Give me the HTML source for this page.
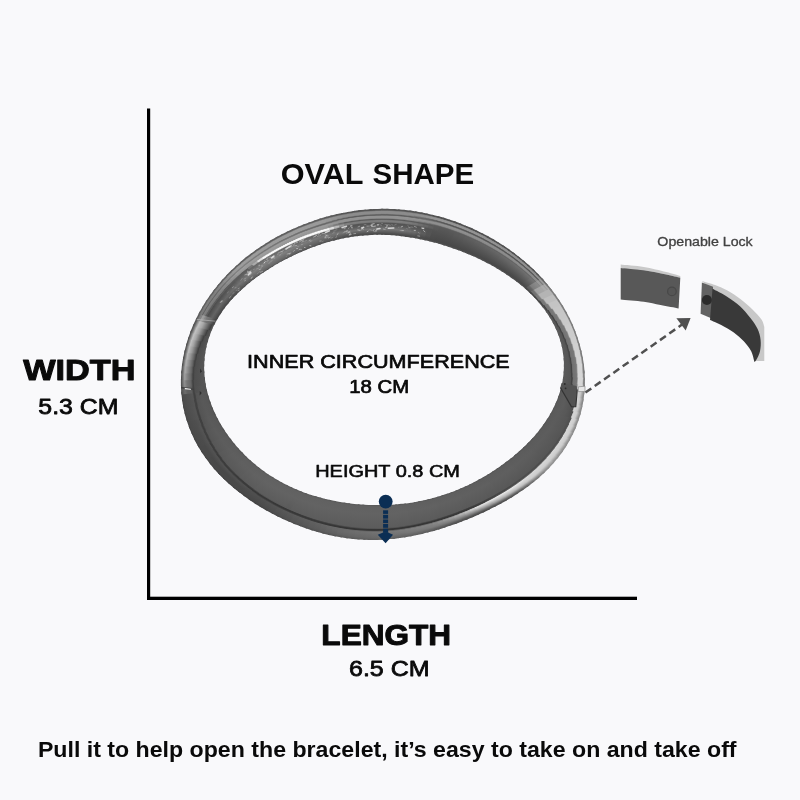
<!DOCTYPE html>
<html><head><meta charset="utf-8"><title>Bracelet size</title>
<style>html,body{margin:0;padding:0;background:#f9f9fb;}body{width:800px;height:800px;position:relative;overflow:hidden;font-family:"Liberation Sans",sans-serif;}</style>
</head><body>
<svg width="800" height="800" viewBox="0 0 800 800" style="position:absolute;left:0;top:0;font-family:'Liberation Sans',sans-serif">
<rect width="800" height="800" fill="#f9f9fb"/>
<!--RING-->
<defs><linearGradient id="w0" gradientUnits="userSpaceOnUse" x1="584.8" y1="375.5" x2="563.4" y2="374.9"><stop offset="0.000" stop-color="#767676"/><stop offset="0.050" stop-color="#7d7d7d"/><stop offset="0.075" stop-color="#8b8b8b"/><stop offset="0.100" stop-color="#c0c0c0"/><stop offset="0.125" stop-color="#d6d6d6"/><stop offset="0.300" stop-color="#d6d6d6"/><stop offset="0.325" stop-color="#c0c0c0"/><stop offset="0.375" stop-color="#7c7c7c"/><stop offset="0.400" stop-color="#767676"/><stop offset="0.550" stop-color="#717171"/><stop offset="0.600" stop-color="#424242"/><stop offset="0.625" stop-color="#424242"/><stop offset="0.675" stop-color="#565656"/><stop offset="0.975" stop-color="#5a5a5a"/><stop offset="1.000" stop-color="#545454"/></linearGradient><linearGradient id="w1" gradientUnits="userSpaceOnUse" x1="584.9" y1="382.6" x2="562.6" y2="380.6"><stop offset="0.000" stop-color="#767676"/><stop offset="0.050" stop-color="#7d7d7d"/><stop offset="0.075" stop-color="#8b8b8b"/><stop offset="0.100" stop-color="#c0c0c0"/><stop offset="0.125" stop-color="#d6d6d6"/><stop offset="0.300" stop-color="#d6d6d6"/><stop offset="0.350" stop-color="#949494"/><stop offset="0.375" stop-color="#767676"/><stop offset="0.525" stop-color="#717171"/><stop offset="0.550" stop-color="#616161"/><stop offset="0.575" stop-color="#434343"/><stop offset="0.600" stop-color="#424242"/><stop offset="0.650" stop-color="#545454"/><stop offset="0.775" stop-color="#575757"/><stop offset="0.975" stop-color="#5a5a5a"/><stop offset="1.000" stop-color="#545454"/></linearGradient><linearGradient id="w2" gradientUnits="userSpaceOnUse" x1="584.6" y1="389.7" x2="561.4" y2="386.1"><stop offset="0.000" stop-color="#767676"/><stop offset="0.050" stop-color="#7d7d7d"/><stop offset="0.075" stop-color="#8b8b8b"/><stop offset="0.100" stop-color="#c0c0c0"/><stop offset="0.125" stop-color="#d6d6d6"/><stop offset="0.275" stop-color="#d6d6d6"/><stop offset="0.300" stop-color="#cdcdcd"/><stop offset="0.350" stop-color="#898989"/><stop offset="0.375" stop-color="#767676"/><stop offset="0.500" stop-color="#717171"/><stop offset="0.525" stop-color="#696969"/><stop offset="0.550" stop-color="#4c4c4c"/><stop offset="0.575" stop-color="#424242"/><stop offset="0.600" stop-color="#474747"/><stop offset="0.625" stop-color="#505050"/><stop offset="0.650" stop-color="#565656"/><stop offset="0.975" stop-color="#5a5a5a"/><stop offset="1.000" stop-color="#545454"/></linearGradient><linearGradient id="w3" gradientUnits="userSpaceOnUse" x1="584.0" y1="396.8" x2="559.8" y2="391.5"><stop offset="0.000" stop-color="#848484"/><stop offset="0.050" stop-color="#8c8c8c"/><stop offset="0.175" stop-color="#cdcdcd"/><stop offset="0.300" stop-color="#d6d6d6"/><stop offset="0.325" stop-color="#cbcbcb"/><stop offset="0.350" stop-color="#676767"/><stop offset="0.375" stop-color="#505050"/><stop offset="0.725" stop-color="#5c5c5c"/><stop offset="0.950" stop-color="#595959"/><stop offset="1.000" stop-color="#505050"/></linearGradient><linearGradient id="w4" gradientUnits="userSpaceOnUse" x1="582.9" y1="403.8" x2="558.0" y2="396.8"><stop offset="0.000" stop-color="#848484"/><stop offset="0.050" stop-color="#8c8c8c"/><stop offset="0.150" stop-color="#c4c4c4"/><stop offset="0.175" stop-color="#cecece"/><stop offset="0.300" stop-color="#d6d6d6"/><stop offset="0.350" stop-color="#505050"/><stop offset="0.725" stop-color="#5c5c5c"/><stop offset="0.950" stop-color="#595959"/><stop offset="1.000" stop-color="#505050"/></linearGradient><linearGradient id="w5" gradientUnits="userSpaceOnUse" x1="581.4" y1="410.8" x2="555.9" y2="401.9"><stop offset="0.000" stop-color="#858585"/><stop offset="0.050" stop-color="#8f8f8f"/><stop offset="0.150" stop-color="#c9c9c9"/><stop offset="0.200" stop-color="#d0d0d0"/><stop offset="0.275" stop-color="#d6d6d6"/><stop offset="0.300" stop-color="#b1b1b1"/><stop offset="0.325" stop-color="#505050"/><stop offset="0.700" stop-color="#5c5c5c"/><stop offset="0.950" stop-color="#595959"/><stop offset="1.000" stop-color="#505050"/></linearGradient><linearGradient id="w6" gradientUnits="userSpaceOnUse" x1="579.5" y1="417.6" x2="553.6" y2="406.9"><stop offset="0.000" stop-color="#868686"/><stop offset="0.050" stop-color="#919191"/><stop offset="0.150" stop-color="#cdcdcd"/><stop offset="0.250" stop-color="#d5d5d5"/><stop offset="0.275" stop-color="#bfbfbf"/><stop offset="0.300" stop-color="#4f4f4f"/><stop offset="0.525" stop-color="#585858"/><stop offset="0.775" stop-color="#5c5c5c"/><stop offset="0.950" stop-color="#5a5a5a"/><stop offset="1.000" stop-color="#515151"/></linearGradient><linearGradient id="w7" gradientUnits="userSpaceOnUse" x1="577.1" y1="424.3" x2="551.0" y2="411.7"><stop offset="0.000" stop-color="#878787"/><stop offset="0.050" stop-color="#939393"/><stop offset="0.125" stop-color="#c6c6c6"/><stop offset="0.150" stop-color="#cecece"/><stop offset="0.225" stop-color="#d5d5d5"/><stop offset="0.250" stop-color="#cccccc"/><stop offset="0.275" stop-color="#555555"/><stop offset="0.300" stop-color="#4f4f4f"/><stop offset="0.400" stop-color="#565656"/><stop offset="0.750" stop-color="#5c5c5c"/><stop offset="0.950" stop-color="#5a5a5a"/><stop offset="1.000" stop-color="#515151"/></linearGradient><linearGradient id="w8" gradientUnits="userSpaceOnUse" x1="574.4" y1="430.8" x2="548.3" y2="416.5"><stop offset="0.000" stop-color="#888888"/><stop offset="0.050" stop-color="#959595"/><stop offset="0.125" stop-color="#c6c6c6"/><stop offset="0.150" stop-color="#cecece"/><stop offset="0.225" stop-color="#d5d5d5"/><stop offset="0.250" stop-color="#d4d4d4"/><stop offset="0.275" stop-color="#595959"/><stop offset="0.300" stop-color="#4f4f4f"/><stop offset="0.375" stop-color="#565656"/><stop offset="0.750" stop-color="#5c5c5c"/><stop offset="0.950" stop-color="#5a5a5a"/><stop offset="1.000" stop-color="#515151"/></linearGradient><linearGradient id="w9" gradientUnits="userSpaceOnUse" x1="571.4" y1="437.2" x2="545.4" y2="421.1"><stop offset="0.000" stop-color="#898989"/><stop offset="0.050" stop-color="#969696"/><stop offset="0.125" stop-color="#c7c7c7"/><stop offset="0.150" stop-color="#cecece"/><stop offset="0.250" stop-color="#d7d7d7"/><stop offset="0.275" stop-color="#5c5c5c"/><stop offset="0.300" stop-color="#4e4e4e"/><stop offset="0.375" stop-color="#565656"/><stop offset="0.750" stop-color="#5d5d5d"/><stop offset="0.950" stop-color="#5a5a5a"/><stop offset="1.000" stop-color="#515151"/></linearGradient><linearGradient id="w10" gradientUnits="userSpaceOnUse" x1="567.9" y1="443.4" x2="542.2" y2="425.6"><stop offset="0.000" stop-color="#8a8a8a"/><stop offset="0.025" stop-color="#8f8f8f"/><stop offset="0.050" stop-color="#989898"/><stop offset="0.125" stop-color="#c7c7c7"/><stop offset="0.150" stop-color="#cecece"/><stop offset="0.250" stop-color="#d7d7d7"/><stop offset="0.275" stop-color="#5f5f5f"/><stop offset="0.300" stop-color="#4e4e4e"/><stop offset="0.325" stop-color="#4f4f4f"/><stop offset="0.350" stop-color="#555555"/><stop offset="0.750" stop-color="#5d5d5d"/><stop offset="0.950" stop-color="#5b5b5b"/><stop offset="1.000" stop-color="#515151"/></linearGradient><linearGradient id="w11" gradientUnits="userSpaceOnUse" x1="564.2" y1="449.3" x2="538.9" y2="430.0"><stop offset="0.000" stop-color="#8b8b8b"/><stop offset="0.025" stop-color="#909090"/><stop offset="0.050" stop-color="#999999"/><stop offset="0.125" stop-color="#c7c7c7"/><stop offset="0.150" stop-color="#cecece"/><stop offset="0.250" stop-color="#d7d7d7"/><stop offset="0.275" stop-color="#616161"/><stop offset="0.300" stop-color="#4e4e4e"/><stop offset="0.325" stop-color="#4f4f4f"/><stop offset="0.350" stop-color="#565656"/><stop offset="0.750" stop-color="#5d5d5d"/><stop offset="0.950" stop-color="#5b5b5b"/><stop offset="1.000" stop-color="#525252"/></linearGradient><linearGradient id="w12" gradientUnits="userSpaceOnUse" x1="560.1" y1="455.0" x2="535.4" y2="434.4"><stop offset="0.000" stop-color="#8c8c8c"/><stop offset="0.025" stop-color="#919191"/><stop offset="0.050" stop-color="#9a9a9a"/><stop offset="0.125" stop-color="#c7c7c7"/><stop offset="0.150" stop-color="#cecece"/><stop offset="0.250" stop-color="#d7d7d7"/><stop offset="0.275" stop-color="#636363"/><stop offset="0.300" stop-color="#4d4d4d"/><stop offset="0.325" stop-color="#4f4f4f"/><stop offset="0.350" stop-color="#565656"/><stop offset="0.750" stop-color="#5d5d5d"/><stop offset="0.950" stop-color="#5b5b5b"/><stop offset="1.000" stop-color="#525252"/></linearGradient><linearGradient id="w13" gradientUnits="userSpaceOnUse" x1="555.7" y1="460.5" x2="531.8" y2="438.6"><stop offset="0.000" stop-color="#8d8d8d"/><stop offset="0.025" stop-color="#929292"/><stop offset="0.050" stop-color="#9b9b9b"/><stop offset="0.125" stop-color="#c7c7c7"/><stop offset="0.150" stop-color="#cecece"/><stop offset="0.250" stop-color="#d7d7d7"/><stop offset="0.275" stop-color="#646464"/><stop offset="0.300" stop-color="#4d4d4d"/><stop offset="0.325" stop-color="#4f4f4f"/><stop offset="0.350" stop-color="#565656"/><stop offset="0.750" stop-color="#5d5d5d"/><stop offset="0.950" stop-color="#5b5b5b"/><stop offset="1.000" stop-color="#525252"/></linearGradient><linearGradient id="w14" gradientUnits="userSpaceOnUse" x1="551.1" y1="465.8" x2="528.0" y2="442.7"><stop offset="0.000" stop-color="#8e8e8e"/><stop offset="0.025" stop-color="#939393"/><stop offset="0.050" stop-color="#9c9c9c"/><stop offset="0.125" stop-color="#c7c7c7"/><stop offset="0.150" stop-color="#cecece"/><stop offset="0.250" stop-color="#d7d7d7"/><stop offset="0.275" stop-color="#656565"/><stop offset="0.300" stop-color="#4d4d4d"/><stop offset="0.325" stop-color="#4e4e4e"/><stop offset="0.350" stop-color="#565656"/><stop offset="0.750" stop-color="#5e5e5e"/><stop offset="0.950" stop-color="#5b5b5b"/><stop offset="1.000" stop-color="#525252"/></linearGradient><linearGradient id="w15" gradientUnits="userSpaceOnUse" x1="546.3" y1="470.7" x2="524.0" y2="446.8"><stop offset="0.000" stop-color="#898989"/><stop offset="0.025" stop-color="#8e8e8e"/><stop offset="0.050" stop-color="#989898"/><stop offset="0.125" stop-color="#c7c7c7"/><stop offset="0.150" stop-color="#cecece"/><stop offset="0.250" stop-color="#d7d7d7"/><stop offset="0.275" stop-color="#666666"/><stop offset="0.300" stop-color="#4c4c4c"/><stop offset="0.325" stop-color="#4e4e4e"/><stop offset="0.350" stop-color="#575757"/><stop offset="0.750" stop-color="#5e5e5e"/><stop offset="0.950" stop-color="#5c5c5c"/><stop offset="1.000" stop-color="#525252"/></linearGradient><linearGradient id="w16" gradientUnits="userSpaceOnUse" x1="541.3" y1="475.5" x2="519.9" y2="450.7"><stop offset="0.000" stop-color="#7f7f7f"/><stop offset="0.025" stop-color="#848484"/><stop offset="0.050" stop-color="#909090"/><stop offset="0.125" stop-color="#c6c6c6"/><stop offset="0.150" stop-color="#cecece"/><stop offset="0.250" stop-color="#d7d7d7"/><stop offset="0.275" stop-color="#656565"/><stop offset="0.300" stop-color="#4c4c4c"/><stop offset="0.325" stop-color="#4e4e4e"/><stop offset="0.350" stop-color="#575757"/><stop offset="0.750" stop-color="#5e5e5e"/><stop offset="0.950" stop-color="#5c5c5c"/><stop offset="1.000" stop-color="#535353"/></linearGradient><linearGradient id="w17" gradientUnits="userSpaceOnUse" x1="536.2" y1="480.0" x2="515.6" y2="454.5"><stop offset="0.000" stop-color="#757575"/><stop offset="0.025" stop-color="#7a7a7a"/><stop offset="0.050" stop-color="#878787"/><stop offset="0.125" stop-color="#c5c5c5"/><stop offset="0.150" stop-color="#cecece"/><stop offset="0.250" stop-color="#d7d7d7"/><stop offset="0.275" stop-color="#656565"/><stop offset="0.300" stop-color="#4c4c4c"/><stop offset="0.325" stop-color="#4e4e4e"/><stop offset="0.350" stop-color="#575757"/><stop offset="0.750" stop-color="#5e5e5e"/><stop offset="0.950" stop-color="#5c5c5c"/><stop offset="1.000" stop-color="#535353"/></linearGradient><linearGradient id="w18" gradientUnits="userSpaceOnUse" x1="530.9" y1="484.2" x2="511.2" y2="458.2"><stop offset="0.000" stop-color="#6b6b6b"/><stop offset="0.025" stop-color="#707070"/><stop offset="0.050" stop-color="#7d7d7d"/><stop offset="0.125" stop-color="#bfbfbf"/><stop offset="0.150" stop-color="#cbcbcb"/><stop offset="0.250" stop-color="#dcdcdc"/><stop offset="0.275" stop-color="#656565"/><stop offset="0.300" stop-color="#4b4b4b"/><stop offset="0.325" stop-color="#4e4e4e"/><stop offset="0.350" stop-color="#575757"/><stop offset="0.750" stop-color="#5f5f5f"/><stop offset="0.950" stop-color="#5c5c5c"/><stop offset="1.000" stop-color="#535353"/></linearGradient><linearGradient id="w19" gradientUnits="userSpaceOnUse" x1="525.5" y1="488.2" x2="506.7" y2="461.7"><stop offset="0.000" stop-color="#616161"/><stop offset="0.025" stop-color="#666666"/><stop offset="0.050" stop-color="#747474"/><stop offset="0.125" stop-color="#bababa"/><stop offset="0.150" stop-color="#c7c7c7"/><stop offset="0.250" stop-color="#e1e1e1"/><stop offset="0.275" stop-color="#656565"/><stop offset="0.300" stop-color="#4b4b4b"/><stop offset="0.325" stop-color="#4d4d4d"/><stop offset="0.350" stop-color="#575757"/><stop offset="0.750" stop-color="#5f5f5f"/><stop offset="0.950" stop-color="#5c5c5c"/><stop offset="1.000" stop-color="#535353"/></linearGradient><linearGradient id="w20" gradientUnits="userSpaceOnUse" x1="520.1" y1="492.0" x2="502.2" y2="465.1"><stop offset="0.000" stop-color="#575757"/><stop offset="0.025" stop-color="#5c5c5c"/><stop offset="0.050" stop-color="#6a6a6a"/><stop offset="0.125" stop-color="#b4b4b4"/><stop offset="0.150" stop-color="#c3c3c3"/><stop offset="0.250" stop-color="#e7e7e7"/><stop offset="0.275" stop-color="#646464"/><stop offset="0.300" stop-color="#4a4a4a"/><stop offset="0.325" stop-color="#4c4c4c"/><stop offset="0.350" stop-color="#585858"/><stop offset="0.750" stop-color="#5f5f5f"/><stop offset="0.950" stop-color="#5d5d5d"/><stop offset="1.000" stop-color="#545454"/></linearGradient><linearGradient id="w21" gradientUnits="userSpaceOnUse" x1="514.6" y1="495.6" x2="497.5" y2="468.4"><stop offset="0.000" stop-color="#515151"/><stop offset="0.025" stop-color="#565656"/><stop offset="0.050" stop-color="#646464"/><stop offset="0.125" stop-color="#afafaf"/><stop offset="0.150" stop-color="#bfbfbf"/><stop offset="0.250" stop-color="#e9e9e9"/><stop offset="0.275" stop-color="#616161"/><stop offset="0.300" stop-color="#484848"/><stop offset="0.325" stop-color="#4a4a4a"/><stop offset="0.350" stop-color="#585858"/><stop offset="0.750" stop-color="#5f5f5f"/><stop offset="0.950" stop-color="#5d5d5d"/><stop offset="1.000" stop-color="#545454"/></linearGradient><linearGradient id="w22" gradientUnits="userSpaceOnUse" x1="509.0" y1="499.0" x2="492.7" y2="471.6"><stop offset="0.000" stop-color="#505050"/><stop offset="0.025" stop-color="#555555"/><stop offset="0.050" stop-color="#626262"/><stop offset="0.125" stop-color="#aaaaaa"/><stop offset="0.150" stop-color="#bbbbbb"/><stop offset="0.250" stop-color="#e8e8e8"/><stop offset="0.275" stop-color="#5e5e5e"/><stop offset="0.300" stop-color="#464646"/><stop offset="0.325" stop-color="#494949"/><stop offset="0.350" stop-color="#585858"/><stop offset="0.750" stop-color="#5f5f5f"/><stop offset="0.950" stop-color="#5d5d5d"/><stop offset="1.000" stop-color="#545454"/></linearGradient><linearGradient id="w23" gradientUnits="userSpaceOnUse" x1="503.4" y1="502.2" x2="487.9" y2="474.5"><stop offset="0.000" stop-color="#4e4e4e"/><stop offset="0.025" stop-color="#535353"/><stop offset="0.050" stop-color="#606060"/><stop offset="0.125" stop-color="#a5a5a5"/><stop offset="0.150" stop-color="#b6b6b6"/><stop offset="0.250" stop-color="#e8e8e8"/><stop offset="0.275" stop-color="#575757"/><stop offset="0.300" stop-color="#444444"/><stop offset="0.325" stop-color="#474747"/><stop offset="0.350" stop-color="#585858"/><stop offset="0.750" stop-color="#606060"/><stop offset="0.950" stop-color="#5d5d5d"/><stop offset="1.000" stop-color="#545454"/></linearGradient><linearGradient id="w24" gradientUnits="userSpaceOnUse" x1="497.8" y1="505.3" x2="483.1" y2="477.4"><stop offset="0.000" stop-color="#4d4d4d"/><stop offset="0.025" stop-color="#525252"/><stop offset="0.050" stop-color="#5d5d5d"/><stop offset="0.125" stop-color="#a0a0a0"/><stop offset="0.175" stop-color="#bebebe"/><stop offset="0.250" stop-color="#e8e8e8"/><stop offset="0.275" stop-color="#4f4f4f"/><stop offset="0.300" stop-color="#424242"/><stop offset="0.325" stop-color="#464646"/><stop offset="0.350" stop-color="#585858"/><stop offset="0.750" stop-color="#606060"/><stop offset="0.950" stop-color="#5d5d5d"/><stop offset="1.000" stop-color="#545454"/></linearGradient><linearGradient id="w25" gradientUnits="userSpaceOnUse" x1="492.2" y1="508.1" x2="478.2" y2="480.1"><stop offset="0.000" stop-color="#4b4b4b"/><stop offset="0.025" stop-color="#505050"/><stop offset="0.050" stop-color="#5b5b5b"/><stop offset="0.125" stop-color="#9a9a9a"/><stop offset="0.250" stop-color="#e8e8e8"/><stop offset="0.275" stop-color="#484848"/><stop offset="0.300" stop-color="#404040"/><stop offset="0.325" stop-color="#454545"/><stop offset="0.350" stop-color="#595959"/><stop offset="0.750" stop-color="#606060"/><stop offset="0.950" stop-color="#5e5e5e"/><stop offset="1.000" stop-color="#555555"/></linearGradient><linearGradient id="w26" gradientUnits="userSpaceOnUse" x1="486.6" y1="510.9" x2="473.3" y2="482.7"><stop offset="0.000" stop-color="#4a4a4a"/><stop offset="0.025" stop-color="#4e4e4e"/><stop offset="0.050" stop-color="#595959"/><stop offset="0.150" stop-color="#a7a7a7"/><stop offset="0.225" stop-color="#d7d7d7"/><stop offset="0.250" stop-color="#e1e1e1"/><stop offset="0.275" stop-color="#404040"/><stop offset="0.300" stop-color="#3e3e3e"/><stop offset="0.325" stop-color="#444444"/><stop offset="0.350" stop-color="#595959"/><stop offset="0.750" stop-color="#606060"/><stop offset="0.950" stop-color="#5e5e5e"/><stop offset="1.000" stop-color="#555555"/></linearGradient><linearGradient id="w27" gradientUnits="userSpaceOnUse" x1="481.1" y1="513.5" x2="468.3" y2="485.1"><stop offset="0.000" stop-color="#484848"/><stop offset="0.025" stop-color="#4d4d4d"/><stop offset="0.050" stop-color="#575757"/><stop offset="0.200" stop-color="#c4c4c4"/><stop offset="0.225" stop-color="#d6d6d6"/><stop offset="0.250" stop-color="#dadada"/><stop offset="0.275" stop-color="#3c3c3c"/><stop offset="0.300" stop-color="#3c3c3c"/><stop offset="0.325" stop-color="#434343"/><stop offset="0.350" stop-color="#595959"/><stop offset="0.750" stop-color="#606060"/><stop offset="0.950" stop-color="#5e5e5e"/><stop offset="1.000" stop-color="#555555"/></linearGradient><linearGradient id="w28" gradientUnits="userSpaceOnUse" x1="475.5" y1="515.9" x2="463.3" y2="487.3"><stop offset="0.000" stop-color="#494949"/><stop offset="0.025" stop-color="#4e4e4e"/><stop offset="0.050" stop-color="#575757"/><stop offset="0.150" stop-color="#9c9c9c"/><stop offset="0.225" stop-color="#cbcbcb"/><stop offset="0.250" stop-color="#c8c8c8"/><stop offset="0.275" stop-color="#3a3a3a"/><stop offset="0.300" stop-color="#3a3a3a"/><stop offset="0.325" stop-color="#424242"/><stop offset="0.350" stop-color="#595959"/><stop offset="0.750" stop-color="#606060"/><stop offset="0.950" stop-color="#5e5e5e"/><stop offset="1.000" stop-color="#555555"/></linearGradient><linearGradient id="w29" gradientUnits="userSpaceOnUse" x1="469.9" y1="518.3" x2="458.3" y2="489.5"><stop offset="0.000" stop-color="#4a4a4a"/><stop offset="0.025" stop-color="#4f4f4f"/><stop offset="0.050" stop-color="#585858"/><stop offset="0.150" stop-color="#979797"/><stop offset="0.225" stop-color="#c0c0c0"/><stop offset="0.250" stop-color="#b7b7b7"/><stop offset="0.275" stop-color="#383838"/><stop offset="0.300" stop-color="#383838"/><stop offset="0.325" stop-color="#414141"/><stop offset="0.350" stop-color="#595959"/><stop offset="0.750" stop-color="#616161"/><stop offset="0.950" stop-color="#5e5e5e"/><stop offset="1.000" stop-color="#555555"/></linearGradient><linearGradient id="w30" gradientUnits="userSpaceOnUse" x1="464.3" y1="520.5" x2="453.3" y2="491.4"><stop offset="0.000" stop-color="#4b4b4b"/><stop offset="0.050" stop-color="#585858"/><stop offset="0.150" stop-color="#929292"/><stop offset="0.225" stop-color="#b4b4b4"/><stop offset="0.250" stop-color="#a8a8a8"/><stop offset="0.275" stop-color="#373737"/><stop offset="0.300" stop-color="#373737"/><stop offset="0.325" stop-color="#414141"/><stop offset="0.350" stop-color="#5a5a5a"/><stop offset="0.750" stop-color="#616161"/><stop offset="0.950" stop-color="#5f5f5f"/><stop offset="1.000" stop-color="#555555"/></linearGradient><linearGradient id="w31" gradientUnits="userSpaceOnUse" x1="458.8" y1="522.7" x2="448.3" y2="493.3"><stop offset="0.000" stop-color="#4c4c4c"/><stop offset="0.050" stop-color="#595959"/><stop offset="0.125" stop-color="#828282"/><stop offset="0.225" stop-color="#a9a9a9"/><stop offset="0.250" stop-color="#9a9a9a"/><stop offset="0.275" stop-color="#373737"/><stop offset="0.300" stop-color="#373737"/><stop offset="0.325" stop-color="#424242"/><stop offset="0.350" stop-color="#5a5a5a"/><stop offset="0.750" stop-color="#616161"/><stop offset="0.950" stop-color="#5f5f5f"/><stop offset="1.000" stop-color="#565656"/></linearGradient><linearGradient id="w32" gradientUnits="userSpaceOnUse" x1="453.2" y1="524.7" x2="443.3" y2="495.0"><stop offset="0.000" stop-color="#4d4d4d"/><stop offset="0.050" stop-color="#595959"/><stop offset="0.125" stop-color="#7f7f7f"/><stop offset="0.225" stop-color="#9f9f9f"/><stop offset="0.250" stop-color="#8e8e8e"/><stop offset="0.275" stop-color="#363636"/><stop offset="0.300" stop-color="#363636"/><stop offset="0.325" stop-color="#434343"/><stop offset="0.350" stop-color="#5a5a5a"/><stop offset="0.750" stop-color="#616161"/><stop offset="0.950" stop-color="#5f5f5f"/><stop offset="1.000" stop-color="#565656"/></linearGradient><linearGradient id="w33" gradientUnits="userSpaceOnUse" x1="447.6" y1="526.6" x2="438.3" y2="496.5"><stop offset="0.000" stop-color="#4f4f4f"/><stop offset="0.050" stop-color="#5b5b5b"/><stop offset="0.125" stop-color="#7d7d7d"/><stop offset="0.225" stop-color="#989898"/><stop offset="0.250" stop-color="#868686"/><stop offset="0.275" stop-color="#363636"/><stop offset="0.300" stop-color="#363636"/><stop offset="0.325" stop-color="#444444"/><stop offset="0.350" stop-color="#5a5a5a"/><stop offset="0.750" stop-color="#616161"/><stop offset="0.950" stop-color="#5f5f5f"/><stop offset="1.000" stop-color="#565656"/></linearGradient><linearGradient id="w34" gradientUnits="userSpaceOnUse" x1="442.0" y1="528.4" x2="433.3" y2="498.0"><stop offset="0.000" stop-color="#515151"/><stop offset="0.050" stop-color="#5d5d5d"/><stop offset="0.125" stop-color="#7c7c7c"/><stop offset="0.225" stop-color="#919191"/><stop offset="0.250" stop-color="#7d7d7d"/><stop offset="0.275" stop-color="#363636"/><stop offset="0.300" stop-color="#363636"/><stop offset="0.325" stop-color="#454545"/><stop offset="0.350" stop-color="#5a5a5a"/><stop offset="0.750" stop-color="#626262"/><stop offset="0.950" stop-color="#5f5f5f"/><stop offset="1.000" stop-color="#565656"/></linearGradient><linearGradient id="w35" gradientUnits="userSpaceOnUse" x1="436.4" y1="530.1" x2="428.3" y2="499.2"><stop offset="0.000" stop-color="#535353"/><stop offset="0.050" stop-color="#5f5f5f"/><stop offset="0.125" stop-color="#7b7b7b"/><stop offset="0.225" stop-color="#898989"/><stop offset="0.250" stop-color="#757575"/><stop offset="0.275" stop-color="#363636"/><stop offset="0.300" stop-color="#363636"/><stop offset="0.350" stop-color="#5b5b5b"/><stop offset="0.750" stop-color="#626262"/><stop offset="0.950" stop-color="#5f5f5f"/><stop offset="1.000" stop-color="#565656"/></linearGradient><linearGradient id="w36" gradientUnits="userSpaceOnUse" x1="430.8" y1="531.7" x2="423.3" y2="500.4"><stop offset="0.000" stop-color="#555555"/><stop offset="0.075" stop-color="#696969"/><stop offset="0.125" stop-color="#7a7a7a"/><stop offset="0.225" stop-color="#848484"/><stop offset="0.250" stop-color="#707070"/><stop offset="0.275" stop-color="#363636"/><stop offset="0.300" stop-color="#363636"/><stop offset="0.350" stop-color="#5b5b5b"/><stop offset="0.750" stop-color="#626262"/><stop offset="0.950" stop-color="#606060"/><stop offset="1.000" stop-color="#565656"/></linearGradient><linearGradient id="w37" gradientUnits="userSpaceOnUse" x1="425.2" y1="533.1" x2="418.2" y2="501.4"><stop offset="0.000" stop-color="#575757"/><stop offset="0.100" stop-color="#717171"/><stop offset="0.125" stop-color="#787878"/><stop offset="0.225" stop-color="#838383"/><stop offset="0.250" stop-color="#6e6e6e"/><stop offset="0.275" stop-color="#363636"/><stop offset="0.300" stop-color="#363636"/><stop offset="0.350" stop-color="#5b5b5b"/><stop offset="0.750" stop-color="#626262"/><stop offset="0.950" stop-color="#606060"/><stop offset="1.000" stop-color="#575757"/></linearGradient><linearGradient id="w38" gradientUnits="userSpaceOnUse" x1="419.5" y1="534.5" x2="413.2" y2="502.3"><stop offset="0.000" stop-color="#595959"/><stop offset="0.125" stop-color="#777777"/><stop offset="0.225" stop-color="#818181"/><stop offset="0.250" stop-color="#6b6b6b"/><stop offset="0.275" stop-color="#353535"/><stop offset="0.300" stop-color="#353535"/><stop offset="0.325" stop-color="#4a4a4a"/><stop offset="0.350" stop-color="#5b5b5b"/><stop offset="0.750" stop-color="#626262"/><stop offset="0.950" stop-color="#606060"/><stop offset="1.000" stop-color="#575757"/></linearGradient><linearGradient id="w39" gradientUnits="userSpaceOnUse" x1="413.8" y1="535.7" x2="408.2" y2="503.1"><stop offset="0.000" stop-color="#5b5b5b"/><stop offset="0.125" stop-color="#767676"/><stop offset="0.225" stop-color="#7f7f7f"/><stop offset="0.250" stop-color="#696969"/><stop offset="0.275" stop-color="#353535"/><stop offset="0.300" stop-color="#353535"/><stop offset="0.325" stop-color="#4c4c4c"/><stop offset="0.350" stop-color="#5b5b5b"/><stop offset="0.750" stop-color="#626262"/><stop offset="0.950" stop-color="#606060"/><stop offset="1.000" stop-color="#575757"/></linearGradient><linearGradient id="w40" gradientUnits="userSpaceOnUse" x1="408.1" y1="536.8" x2="403.2" y2="503.7"><stop offset="0.000" stop-color="#5c5c5c"/><stop offset="0.125" stop-color="#757575"/><stop offset="0.225" stop-color="#7d7d7d"/><stop offset="0.250" stop-color="#676767"/><stop offset="0.275" stop-color="#353535"/><stop offset="0.300" stop-color="#353535"/><stop offset="0.325" stop-color="#4d4d4d"/><stop offset="0.350" stop-color="#5c5c5c"/><stop offset="0.750" stop-color="#636363"/><stop offset="0.950" stop-color="#606060"/><stop offset="1.000" stop-color="#575757"/></linearGradient><linearGradient id="w41" gradientUnits="userSpaceOnUse" x1="402.3" y1="537.7" x2="398.2" y2="504.3"><stop offset="0.000" stop-color="#5d5d5d"/><stop offset="0.150" stop-color="#767676"/><stop offset="0.225" stop-color="#7b7b7b"/><stop offset="0.250" stop-color="#646464"/><stop offset="0.275" stop-color="#353535"/><stop offset="0.300" stop-color="#353535"/><stop offset="0.325" stop-color="#4f4f4f"/><stop offset="0.350" stop-color="#5c5c5c"/><stop offset="0.750" stop-color="#636363"/><stop offset="0.950" stop-color="#616161"/><stop offset="1.000" stop-color="#575757"/></linearGradient><linearGradient id="w42" gradientUnits="userSpaceOnUse" x1="396.6" y1="538.5" x2="393.3" y2="504.7"><stop offset="0.000" stop-color="#5e5e5e"/><stop offset="0.125" stop-color="#737373"/><stop offset="0.225" stop-color="#7a7a7a"/><stop offset="0.250" stop-color="#626262"/><stop offset="0.275" stop-color="#343434"/><stop offset="0.300" stop-color="#343434"/><stop offset="0.325" stop-color="#515151"/><stop offset="0.350" stop-color="#5c5c5c"/><stop offset="0.750" stop-color="#636363"/><stop offset="0.950" stop-color="#616161"/><stop offset="1.000" stop-color="#585858"/></linearGradient><linearGradient id="w43" gradientUnits="userSpaceOnUse" x1="390.8" y1="539.1" x2="388.3" y2="504.9"><stop offset="0.000" stop-color="#5f5f5f"/><stop offset="0.125" stop-color="#727272"/><stop offset="0.225" stop-color="#787878"/><stop offset="0.250" stop-color="#606060"/><stop offset="0.275" stop-color="#343434"/><stop offset="0.300" stop-color="#343434"/><stop offset="0.325" stop-color="#525252"/><stop offset="0.350" stop-color="#5c5c5c"/><stop offset="0.750" stop-color="#636363"/><stop offset="0.950" stop-color="#616161"/><stop offset="1.000" stop-color="#585858"/></linearGradient><linearGradient id="w44" gradientUnits="userSpaceOnUse" x1="384.9" y1="539.6" x2="383.3" y2="505.1"><stop offset="0.000" stop-color="#606060"/><stop offset="0.075" stop-color="#6b6b6b"/><stop offset="0.225" stop-color="#767676"/><stop offset="0.250" stop-color="#5d5d5d"/><stop offset="0.275" stop-color="#343434"/><stop offset="0.300" stop-color="#343434"/><stop offset="0.325" stop-color="#545454"/><stop offset="0.350" stop-color="#5c5c5c"/><stop offset="0.750" stop-color="#636363"/><stop offset="0.950" stop-color="#616161"/><stop offset="1.000" stop-color="#585858"/></linearGradient><linearGradient id="w45" gradientUnits="userSpaceOnUse" x1="379.1" y1="539.9" x2="378.3" y2="505.2"><stop offset="0.000" stop-color="#5f5f5f"/><stop offset="0.075" stop-color="#6b6b6b"/><stop offset="0.225" stop-color="#747474"/><stop offset="0.250" stop-color="#5d5d5d"/><stop offset="0.275" stop-color="#343434"/><stop offset="0.300" stop-color="#343434"/><stop offset="0.325" stop-color="#545454"/><stop offset="0.350" stop-color="#5c5c5c"/><stop offset="0.750" stop-color="#636363"/><stop offset="0.950" stop-color="#616161"/><stop offset="1.000" stop-color="#585858"/></linearGradient><linearGradient id="w46" gradientUnits="userSpaceOnUse" x1="373.2" y1="540.0" x2="373.3" y2="505.1"><stop offset="0.000" stop-color="#5e5e5e"/><stop offset="0.075" stop-color="#696969"/><stop offset="0.225" stop-color="#737373"/><stop offset="0.250" stop-color="#606060"/><stop offset="0.275" stop-color="#343434"/><stop offset="0.300" stop-color="#343434"/><stop offset="0.325" stop-color="#525252"/><stop offset="0.350" stop-color="#5c5c5c"/><stop offset="0.750" stop-color="#636363"/><stop offset="0.950" stop-color="#616161"/><stop offset="1.000" stop-color="#585858"/></linearGradient><linearGradient id="w47" gradientUnits="userSpaceOnUse" x1="367.3" y1="539.9" x2="368.4" y2="504.9"><stop offset="0.000" stop-color="#5d5d5d"/><stop offset="0.075" stop-color="#686868"/><stop offset="0.225" stop-color="#717171"/><stop offset="0.250" stop-color="#626262"/><stop offset="0.275" stop-color="#343434"/><stop offset="0.300" stop-color="#343434"/><stop offset="0.325" stop-color="#515151"/><stop offset="0.350" stop-color="#5c5c5c"/><stop offset="0.750" stop-color="#636363"/><stop offset="0.950" stop-color="#616161"/><stop offset="1.000" stop-color="#585858"/></linearGradient><linearGradient id="w48" gradientUnits="userSpaceOnUse" x1="361.4" y1="539.6" x2="363.4" y2="504.7"><stop offset="0.000" stop-color="#5b5b5b"/><stop offset="0.075" stop-color="#676767"/><stop offset="0.200" stop-color="#6e6e6e"/><stop offset="0.225" stop-color="#6f6f6f"/><stop offset="0.250" stop-color="#646464"/><stop offset="0.275" stop-color="#353535"/><stop offset="0.300" stop-color="#353535"/><stop offset="0.325" stop-color="#4f4f4f"/><stop offset="0.350" stop-color="#5c5c5c"/><stop offset="0.750" stop-color="#636363"/><stop offset="0.950" stop-color="#616161"/><stop offset="1.000" stop-color="#585858"/></linearGradient><linearGradient id="w49" gradientUnits="userSpaceOnUse" x1="355.5" y1="539.2" x2="358.4" y2="504.3"><stop offset="0.000" stop-color="#5a5a5a"/><stop offset="0.075" stop-color="#666666"/><stop offset="0.175" stop-color="#6c6c6c"/><stop offset="0.225" stop-color="#6e6e6e"/><stop offset="0.250" stop-color="#656565"/><stop offset="0.275" stop-color="#353535"/><stop offset="0.300" stop-color="#353535"/><stop offset="0.325" stop-color="#4e4e4e"/><stop offset="0.350" stop-color="#5c5c5c"/><stop offset="0.750" stop-color="#636363"/><stop offset="0.950" stop-color="#616161"/><stop offset="1.000" stop-color="#585858"/></linearGradient><linearGradient id="w50" gradientUnits="userSpaceOnUse" x1="349.6" y1="538.6" x2="353.4" y2="503.8"><stop offset="0.000" stop-color="#595959"/><stop offset="0.075" stop-color="#646464"/><stop offset="0.175" stop-color="#6b6b6b"/><stop offset="0.225" stop-color="#6c6c6c"/><stop offset="0.250" stop-color="#666666"/><stop offset="0.275" stop-color="#353535"/><stop offset="0.300" stop-color="#353535"/><stop offset="0.325" stop-color="#4c4c4c"/><stop offset="0.350" stop-color="#5c5c5c"/><stop offset="0.750" stop-color="#636363"/><stop offset="0.950" stop-color="#616161"/><stop offset="1.000" stop-color="#585858"/></linearGradient><linearGradient id="w51" gradientUnits="userSpaceOnUse" x1="343.7" y1="537.8" x2="348.4" y2="503.2"><stop offset="0.000" stop-color="#575757"/><stop offset="0.075" stop-color="#636363"/><stop offset="0.175" stop-color="#6a6a6a"/><stop offset="0.225" stop-color="#6a6a6a"/><stop offset="0.250" stop-color="#676767"/><stop offset="0.275" stop-color="#353535"/><stop offset="0.300" stop-color="#353535"/><stop offset="0.350" stop-color="#5c5c5c"/><stop offset="0.750" stop-color="#636363"/><stop offset="0.950" stop-color="#616161"/><stop offset="1.000" stop-color="#585858"/></linearGradient><linearGradient id="w52" gradientUnits="userSpaceOnUse" x1="337.8" y1="536.8" x2="343.4" y2="502.4"><stop offset="0.000" stop-color="#565656"/><stop offset="0.075" stop-color="#626262"/><stop offset="0.150" stop-color="#686868"/><stop offset="0.250" stop-color="#686868"/><stop offset="0.275" stop-color="#353535"/><stop offset="0.300" stop-color="#353535"/><stop offset="0.350" stop-color="#5c5c5c"/><stop offset="0.750" stop-color="#636363"/><stop offset="0.950" stop-color="#616161"/><stop offset="1.000" stop-color="#585858"/></linearGradient><linearGradient id="w53" gradientUnits="userSpaceOnUse" x1="332.0" y1="535.6" x2="338.4" y2="501.6"><stop offset="0.000" stop-color="#555555"/><stop offset="0.075" stop-color="#606060"/><stop offset="0.175" stop-color="#666666"/><stop offset="0.250" stop-color="#676767"/><stop offset="0.275" stop-color="#363636"/><stop offset="0.300" stop-color="#363636"/><stop offset="0.325" stop-color="#464646"/><stop offset="0.350" stop-color="#5c5c5c"/><stop offset="0.750" stop-color="#636363"/><stop offset="0.950" stop-color="#616161"/><stop offset="1.000" stop-color="#585858"/></linearGradient><linearGradient id="w54" gradientUnits="userSpaceOnUse" x1="326.1" y1="534.3" x2="333.4" y2="500.6"><stop offset="0.000" stop-color="#535353"/><stop offset="0.075" stop-color="#5f5f5f"/><stop offset="0.200" stop-color="#656565"/><stop offset="0.250" stop-color="#666666"/><stop offset="0.275" stop-color="#363636"/><stop offset="0.300" stop-color="#363636"/><stop offset="0.325" stop-color="#444444"/><stop offset="0.350" stop-color="#5c5c5c"/><stop offset="0.750" stop-color="#636363"/><stop offset="0.950" stop-color="#616161"/><stop offset="1.000" stop-color="#585858"/></linearGradient><linearGradient id="w55" gradientUnits="userSpaceOnUse" x1="320.3" y1="532.8" x2="328.4" y2="499.5"><stop offset="0.000" stop-color="#525252"/><stop offset="0.075" stop-color="#5d5d5d"/><stop offset="0.225" stop-color="#636363"/><stop offset="0.250" stop-color="#646464"/><stop offset="0.275" stop-color="#383838"/><stop offset="0.300" stop-color="#363636"/><stop offset="0.325" stop-color="#424242"/><stop offset="0.350" stop-color="#5c5c5c"/><stop offset="0.750" stop-color="#636363"/><stop offset="0.950" stop-color="#616161"/><stop offset="1.000" stop-color="#585858"/></linearGradient><linearGradient id="w56" gradientUnits="userSpaceOnUse" x1="314.5" y1="531.1" x2="323.3" y2="498.3"><stop offset="0.000" stop-color="#515151"/><stop offset="0.075" stop-color="#5b5b5b"/><stop offset="0.250" stop-color="#626262"/><stop offset="0.275" stop-color="#3a3a3a"/><stop offset="0.300" stop-color="#363636"/><stop offset="0.325" stop-color="#414141"/><stop offset="0.350" stop-color="#5c5c5c"/><stop offset="0.750" stop-color="#636363"/><stop offset="0.950" stop-color="#616161"/><stop offset="1.000" stop-color="#585858"/></linearGradient><linearGradient id="w57" gradientUnits="userSpaceOnUse" x1="308.7" y1="529.3" x2="318.3" y2="497.0"><stop offset="0.000" stop-color="#4f4f4f"/><stop offset="0.075" stop-color="#5a5a5a"/><stop offset="0.250" stop-color="#606060"/><stop offset="0.275" stop-color="#3c3c3c"/><stop offset="0.300" stop-color="#363636"/><stop offset="0.325" stop-color="#3f3f3f"/><stop offset="0.350" stop-color="#5c5c5c"/><stop offset="0.750" stop-color="#636363"/><stop offset="0.950" stop-color="#616161"/><stop offset="1.000" stop-color="#585858"/></linearGradient><linearGradient id="w58" gradientUnits="userSpaceOnUse" x1="302.9" y1="527.2" x2="313.3" y2="495.5"><stop offset="0.000" stop-color="#4e4e4e"/><stop offset="0.075" stop-color="#585858"/><stop offset="0.250" stop-color="#5e5e5e"/><stop offset="0.275" stop-color="#3d3d3d"/><stop offset="0.300" stop-color="#363636"/><stop offset="0.325" stop-color="#3d3d3d"/><stop offset="0.350" stop-color="#5c5c5c"/><stop offset="0.750" stop-color="#636363"/><stop offset="0.950" stop-color="#616161"/><stop offset="1.000" stop-color="#585858"/></linearGradient><linearGradient id="w59" gradientUnits="userSpaceOnUse" x1="297.2" y1="525.1" x2="308.2" y2="493.8"><stop offset="0.000" stop-color="#4d4d4d"/><stop offset="0.050" stop-color="#555555"/><stop offset="0.250" stop-color="#5d5d5d"/><stop offset="0.275" stop-color="#3f3f3f"/><stop offset="0.300" stop-color="#373737"/><stop offset="0.325" stop-color="#3b3b3b"/><stop offset="0.350" stop-color="#5c5c5c"/><stop offset="0.750" stop-color="#636363"/><stop offset="0.950" stop-color="#616161"/><stop offset="1.000" stop-color="#585858"/></linearGradient><linearGradient id="w60" gradientUnits="userSpaceOnUse" x1="291.4" y1="522.7" x2="303.2" y2="492.0"><stop offset="0.000" stop-color="#4b4b4b"/><stop offset="0.050" stop-color="#545454"/><stop offset="0.250" stop-color="#5b5b5b"/><stop offset="0.275" stop-color="#404040"/><stop offset="0.300" stop-color="#373737"/><stop offset="0.325" stop-color="#393939"/><stop offset="0.350" stop-color="#5c5c5c"/><stop offset="0.750" stop-color="#636363"/><stop offset="0.950" stop-color="#616161"/><stop offset="1.000" stop-color="#585858"/></linearGradient><linearGradient id="w61" gradientUnits="userSpaceOnUse" x1="285.7" y1="520.2" x2="298.3" y2="490.1"><stop offset="0.000" stop-color="#4a4a4a"/><stop offset="0.050" stop-color="#525252"/><stop offset="0.250" stop-color="#595959"/><stop offset="0.275" stop-color="#414141"/><stop offset="0.300" stop-color="#373737"/><stop offset="0.325" stop-color="#383838"/><stop offset="0.350" stop-color="#5c5c5c"/><stop offset="0.750" stop-color="#636363"/><stop offset="0.950" stop-color="#616161"/><stop offset="1.000" stop-color="#585858"/></linearGradient><linearGradient id="w62" gradientUnits="userSpaceOnUse" x1="280.1" y1="517.6" x2="293.3" y2="488.0"><stop offset="0.000" stop-color="#484848"/><stop offset="0.050" stop-color="#505050"/><stop offset="0.250" stop-color="#585858"/><stop offset="0.275" stop-color="#424242"/><stop offset="0.300" stop-color="#373737"/><stop offset="0.325" stop-color="#373737"/><stop offset="0.350" stop-color="#5a5a5a"/><stop offset="0.750" stop-color="#636363"/><stop offset="0.950" stop-color="#616161"/><stop offset="1.000" stop-color="#585858"/></linearGradient><linearGradient id="w63" gradientUnits="userSpaceOnUse" x1="274.4" y1="514.8" x2="288.4" y2="485.7"><stop offset="0.000" stop-color="#464646"/><stop offset="0.050" stop-color="#4f4f4f"/><stop offset="0.250" stop-color="#565656"/><stop offset="0.275" stop-color="#434343"/><stop offset="0.300" stop-color="#373737"/><stop offset="0.325" stop-color="#373737"/><stop offset="0.350" stop-color="#595959"/><stop offset="0.400" stop-color="#5d5d5d"/><stop offset="0.750" stop-color="#636363"/><stop offset="0.950" stop-color="#616161"/><stop offset="1.000" stop-color="#585858"/></linearGradient><linearGradient id="w64" gradientUnits="userSpaceOnUse" x1="268.8" y1="511.8" x2="283.5" y2="483.3"><stop offset="0.000" stop-color="#454545"/><stop offset="0.050" stop-color="#4d4d4d"/><stop offset="0.250" stop-color="#545454"/><stop offset="0.275" stop-color="#434343"/><stop offset="0.300" stop-color="#373737"/><stop offset="0.325" stop-color="#373737"/><stop offset="0.350" stop-color="#575757"/><stop offset="0.375" stop-color="#5c5c5c"/><stop offset="0.750" stop-color="#636363"/><stop offset="0.950" stop-color="#616161"/><stop offset="1.000" stop-color="#585858"/></linearGradient><linearGradient id="w65" gradientUnits="userSpaceOnUse" x1="263.2" y1="508.6" x2="278.7" y2="480.7"><stop offset="0.000" stop-color="#434343"/><stop offset="0.050" stop-color="#4b4b4b"/><stop offset="0.250" stop-color="#535353"/><stop offset="0.300" stop-color="#383838"/><stop offset="0.325" stop-color="#383838"/><stop offset="0.350" stop-color="#555555"/><stop offset="0.375" stop-color="#5c5c5c"/><stop offset="0.750" stop-color="#636363"/><stop offset="0.950" stop-color="#616161"/><stop offset="1.000" stop-color="#585858"/></linearGradient><linearGradient id="w66" gradientUnits="userSpaceOnUse" x1="257.7" y1="505.3" x2="273.9" y2="477.9"><stop offset="0.000" stop-color="#424242"/><stop offset="0.050" stop-color="#4a4a4a"/><stop offset="0.250" stop-color="#515151"/><stop offset="0.300" stop-color="#383838"/><stop offset="0.325" stop-color="#383838"/><stop offset="0.350" stop-color="#535353"/><stop offset="0.375" stop-color="#5c5c5c"/><stop offset="0.750" stop-color="#636363"/><stop offset="0.950" stop-color="#616161"/><stop offset="1.000" stop-color="#585858"/></linearGradient><linearGradient id="w67" gradientUnits="userSpaceOnUse" x1="252.2" y1="501.8" x2="269.2" y2="474.9"><stop offset="0.000" stop-color="#404040"/><stop offset="0.050" stop-color="#484848"/><stop offset="0.250" stop-color="#4f4f4f"/><stop offset="0.300" stop-color="#383838"/><stop offset="0.325" stop-color="#383838"/><stop offset="0.350" stop-color="#525252"/><stop offset="0.375" stop-color="#5c5c5c"/><stop offset="0.750" stop-color="#636363"/><stop offset="0.950" stop-color="#616161"/><stop offset="1.000" stop-color="#585858"/></linearGradient><linearGradient id="w68" gradientUnits="userSpaceOnUse" x1="246.8" y1="498.1" x2="264.6" y2="471.8"><stop offset="0.000" stop-color="#404040"/><stop offset="0.050" stop-color="#484848"/><stop offset="0.250" stop-color="#4f4f4f"/><stop offset="0.275" stop-color="#4a4a4a"/><stop offset="0.300" stop-color="#383838"/><stop offset="0.325" stop-color="#383838"/><stop offset="0.375" stop-color="#5c5c5c"/><stop offset="0.750" stop-color="#636363"/><stop offset="0.950" stop-color="#616161"/><stop offset="1.000" stop-color="#575757"/></linearGradient><linearGradient id="w69" gradientUnits="userSpaceOnUse" x1="241.5" y1="494.1" x2="260.2" y2="468.5"><stop offset="0.000" stop-color="#404040"/><stop offset="0.050" stop-color="#484848"/><stop offset="0.200" stop-color="#4c4c4c"/><stop offset="0.275" stop-color="#4f4f4f"/><stop offset="0.300" stop-color="#393939"/><stop offset="0.325" stop-color="#393939"/><stop offset="0.350" stop-color="#434343"/><stop offset="0.375" stop-color="#5b5b5b"/><stop offset="0.750" stop-color="#626262"/><stop offset="0.950" stop-color="#606060"/><stop offset="1.000" stop-color="#575757"/></linearGradient><linearGradient id="w70" gradientUnits="userSpaceOnUse" x1="236.2" y1="490.0" x2="255.8" y2="465.0"><stop offset="0.000" stop-color="#414141"/><stop offset="0.050" stop-color="#494949"/><stop offset="0.175" stop-color="#4a4a4a"/><stop offset="0.275" stop-color="#515151"/><stop offset="0.300" stop-color="#3e3e3e"/><stop offset="0.325" stop-color="#393939"/><stop offset="0.350" stop-color="#3d3d3d"/><stop offset="0.375" stop-color="#5b5b5b"/><stop offset="0.750" stop-color="#626262"/><stop offset="0.950" stop-color="#5f5f5f"/><stop offset="1.000" stop-color="#565656"/></linearGradient><linearGradient id="w71" gradientUnits="userSpaceOnUse" x1="231.1" y1="485.7" x2="251.5" y2="461.4"><stop offset="0.000" stop-color="#414141"/><stop offset="0.050" stop-color="#494949"/><stop offset="0.175" stop-color="#4a4a4a"/><stop offset="0.275" stop-color="#515151"/><stop offset="0.300" stop-color="#434343"/><stop offset="0.325" stop-color="#3a3a3a"/><stop offset="0.350" stop-color="#3a3a3a"/><stop offset="0.375" stop-color="#565656"/><stop offset="0.400" stop-color="#5b5b5b"/><stop offset="0.750" stop-color="#616161"/><stop offset="0.950" stop-color="#5f5f5f"/><stop offset="1.000" stop-color="#565656"/></linearGradient><linearGradient id="w72" gradientUnits="userSpaceOnUse" x1="226.1" y1="481.2" x2="247.4" y2="457.6"><stop offset="0.000" stop-color="#414141"/><stop offset="0.050" stop-color="#494949"/><stop offset="0.175" stop-color="#494949"/><stop offset="0.275" stop-color="#505050"/><stop offset="0.300" stop-color="#484848"/><stop offset="0.325" stop-color="#3a3a3a"/><stop offset="0.350" stop-color="#3a3a3a"/><stop offset="0.375" stop-color="#4f4f4f"/><stop offset="0.400" stop-color="#5a5a5a"/><stop offset="0.750" stop-color="#606060"/><stop offset="0.950" stop-color="#5e5e5e"/><stop offset="1.000" stop-color="#555555"/></linearGradient><linearGradient id="w73" gradientUnits="userSpaceOnUse" x1="221.2" y1="476.4" x2="243.4" y2="453.7"><stop offset="0.000" stop-color="#414141"/><stop offset="0.050" stop-color="#494949"/><stop offset="0.175" stop-color="#484848"/><stop offset="0.275" stop-color="#505050"/><stop offset="0.300" stop-color="#4d4d4d"/><stop offset="0.325" stop-color="#3b3b3b"/><stop offset="0.350" stop-color="#3b3b3b"/><stop offset="0.400" stop-color="#595959"/><stop offset="0.750" stop-color="#606060"/><stop offset="0.950" stop-color="#5e5e5e"/><stop offset="1.000" stop-color="#545454"/></linearGradient><linearGradient id="w74" gradientUnits="userSpaceOnUse" x1="216.5" y1="471.5" x2="239.5" y2="449.6"><stop offset="0.000" stop-color="#414141"/><stop offset="0.050" stop-color="#494949"/><stop offset="0.175" stop-color="#484848"/><stop offset="0.300" stop-color="#525252"/><stop offset="0.325" stop-color="#3c3c3c"/><stop offset="0.350" stop-color="#3b3b3b"/><stop offset="0.375" stop-color="#424242"/><stop offset="0.400" stop-color="#595959"/><stop offset="0.750" stop-color="#5f5f5f"/><stop offset="0.950" stop-color="#5d5d5d"/><stop offset="1.000" stop-color="#545454"/></linearGradient><linearGradient id="w75" gradientUnits="userSpaceOnUse" x1="212.0" y1="466.3" x2="235.8" y2="445.4"><stop offset="0.000" stop-color="#424242"/><stop offset="0.050" stop-color="#494949"/><stop offset="0.175" stop-color="#484848"/><stop offset="0.300" stop-color="#525252"/><stop offset="0.325" stop-color="#454545"/><stop offset="0.350" stop-color="#3c3c3c"/><stop offset="0.375" stop-color="#3c3c3c"/><stop offset="0.400" stop-color="#545454"/><stop offset="0.425" stop-color="#595959"/><stop offset="0.750" stop-color="#5f5f5f"/><stop offset="0.950" stop-color="#5c5c5c"/><stop offset="1.000" stop-color="#535353"/></linearGradient><linearGradient id="w76" gradientUnits="userSpaceOnUse" x1="207.7" y1="460.8" x2="232.3" y2="441.0"><stop offset="0.000" stop-color="#424242"/><stop offset="0.050" stop-color="#4a4a4a"/><stop offset="0.175" stop-color="#484848"/><stop offset="0.300" stop-color="#515151"/><stop offset="0.325" stop-color="#505050"/><stop offset="0.350" stop-color="#3c3c3c"/><stop offset="0.375" stop-color="#3c3c3c"/><stop offset="0.400" stop-color="#454545"/><stop offset="0.425" stop-color="#585858"/><stop offset="0.750" stop-color="#5e5e5e"/><stop offset="0.950" stop-color="#5c5c5c"/><stop offset="1.000" stop-color="#535353"/></linearGradient><linearGradient id="w77" gradientUnits="userSpaceOnUse" x1="203.6" y1="455.2" x2="229.0" y2="436.6"><stop offset="0.000" stop-color="#424242"/><stop offset="0.050" stop-color="#4a4a4a"/><stop offset="0.200" stop-color="#4a4a4a"/><stop offset="0.325" stop-color="#525252"/><stop offset="0.375" stop-color="#3d3d3d"/><stop offset="0.400" stop-color="#3d3d3d"/><stop offset="0.425" stop-color="#515151"/><stop offset="0.450" stop-color="#575757"/><stop offset="0.750" stop-color="#5d5d5d"/><stop offset="0.950" stop-color="#5b5b5b"/><stop offset="1.000" stop-color="#525252"/></linearGradient><linearGradient id="w78" gradientUnits="userSpaceOnUse" x1="199.8" y1="449.3" x2="225.8" y2="432.0"><stop offset="0.000" stop-color="#424242"/><stop offset="0.050" stop-color="#4a4a4a"/><stop offset="0.200" stop-color="#4a4a4a"/><stop offset="0.350" stop-color="#525252"/><stop offset="0.375" stop-color="#3d3d3d"/><stop offset="0.400" stop-color="#3d3d3d"/><stop offset="0.425" stop-color="#434343"/><stop offset="0.450" stop-color="#575757"/><stop offset="0.750" stop-color="#5d5d5d"/><stop offset="0.950" stop-color="#5b5b5b"/><stop offset="1.000" stop-color="#515151"/></linearGradient><linearGradient id="w79" gradientUnits="userSpaceOnUse" x1="196.3" y1="443.3" x2="222.8" y2="427.3"><stop offset="0.000" stop-color="#424242"/><stop offset="0.050" stop-color="#4a4a4a"/><stop offset="0.225" stop-color="#4c4c4c"/><stop offset="0.350" stop-color="#535353"/><stop offset="0.400" stop-color="#3e3e3e"/><stop offset="0.425" stop-color="#3e3e3e"/><stop offset="0.450" stop-color="#4e4e4e"/><stop offset="0.475" stop-color="#565656"/><stop offset="0.750" stop-color="#5c5c5c"/><stop offset="0.950" stop-color="#5a5a5a"/><stop offset="1.000" stop-color="#515151"/></linearGradient><linearGradient id="w80" gradientUnits="userSpaceOnUse" x1="193.2" y1="437.0" x2="220.0" y2="422.6"><stop offset="0.000" stop-color="#434343"/><stop offset="0.050" stop-color="#4b4b4b"/><stop offset="0.250" stop-color="#4d4d4d"/><stop offset="0.375" stop-color="#535353"/><stop offset="0.400" stop-color="#3f3f3f"/><stop offset="0.450" stop-color="#424242"/><stop offset="0.475" stop-color="#565656"/><stop offset="0.750" stop-color="#5c5c5c"/><stop offset="0.950" stop-color="#595959"/><stop offset="1.000" stop-color="#505050"/></linearGradient><linearGradient id="w81" gradientUnits="userSpaceOnUse" x1="190.3" y1="430.6" x2="217.4" y2="417.7"><stop offset="0.000" stop-color="#434343"/><stop offset="0.050" stop-color="#4b4b4b"/><stop offset="0.250" stop-color="#4e4e4e"/><stop offset="0.375" stop-color="#545454"/><stop offset="0.425" stop-color="#3f3f3f"/><stop offset="0.450" stop-color="#3f3f3f"/><stop offset="0.500" stop-color="#555555"/><stop offset="0.750" stop-color="#5b5b5b"/><stop offset="0.950" stop-color="#595959"/><stop offset="1.000" stop-color="#505050"/></linearGradient><linearGradient id="w82" gradientUnits="userSpaceOnUse" x1="187.9" y1="424.0" x2="215.0" y2="412.8"><stop offset="0.000" stop-color="#434343"/><stop offset="0.050" stop-color="#4b4b4b"/><stop offset="0.275" stop-color="#4f4f4f"/><stop offset="0.400" stop-color="#535353"/><stop offset="0.425" stop-color="#404040"/><stop offset="0.475" stop-color="#404040"/><stop offset="0.500" stop-color="#535353"/><stop offset="0.725" stop-color="#5b5b5b"/><stop offset="0.950" stop-color="#585858"/><stop offset="1.000" stop-color="#4f4f4f"/></linearGradient><linearGradient id="w83" gradientUnits="userSpaceOnUse" x1="185.7" y1="417.3" x2="212.7" y2="407.7"><stop offset="0.000" stop-color="#434343"/><stop offset="0.050" stop-color="#4b4b4b"/><stop offset="0.375" stop-color="#545454"/><stop offset="0.400" stop-color="#555555"/><stop offset="0.425" stop-color="#484848"/><stop offset="0.450" stop-color="#404040"/><stop offset="0.475" stop-color="#404040"/><stop offset="0.525" stop-color="#545454"/><stop offset="0.750" stop-color="#5a5a5a"/><stop offset="0.950" stop-color="#575757"/><stop offset="1.000" stop-color="#4e4e4e"/></linearGradient><linearGradient id="w84" gradientUnits="userSpaceOnUse" x1="184.0" y1="410.5" x2="210.7" y2="402.5"><stop offset="0.000" stop-color="#434343"/><stop offset="0.050" stop-color="#4b4b4b"/><stop offset="0.400" stop-color="#555555"/><stop offset="0.425" stop-color="#4e4e4e"/><stop offset="0.450" stop-color="#404040"/><stop offset="0.500" stop-color="#444444"/><stop offset="0.525" stop-color="#545454"/><stop offset="0.750" stop-color="#595959"/><stop offset="0.950" stop-color="#575757"/><stop offset="1.000" stop-color="#4e4e4e"/></linearGradient><linearGradient id="w85" gradientUnits="userSpaceOnUse" x1="182.6" y1="403.6" x2="208.9" y2="397.3"><stop offset="0.000" stop-color="#444444"/><stop offset="0.050" stop-color="#4c4c4c"/><stop offset="0.425" stop-color="#545454"/><stop offset="0.450" stop-color="#444444"/><stop offset="0.500" stop-color="#414141"/><stop offset="0.550" stop-color="#545454"/><stop offset="0.750" stop-color="#595959"/><stop offset="0.950" stop-color="#565656"/><stop offset="1.000" stop-color="#4d4d4d"/></linearGradient><linearGradient id="w86" gradientUnits="userSpaceOnUse" x1="181.7" y1="396.6" x2="207.4" y2="391.9"><stop offset="0.000" stop-color="#444444"/><stop offset="0.050" stop-color="#4c4c4c"/><stop offset="0.425" stop-color="#565656"/><stop offset="0.475" stop-color="#414141"/><stop offset="0.500" stop-color="#414141"/><stop offset="0.525" stop-color="#464646"/><stop offset="0.550" stop-color="#535353"/><stop offset="0.750" stop-color="#585858"/><stop offset="0.950" stop-color="#565656"/><stop offset="1.000" stop-color="#4d4d4d"/></linearGradient><linearGradient id="w87" gradientUnits="userSpaceOnUse" x1="181.1" y1="389.6" x2="206.1" y2="386.4"><stop offset="0.000" stop-color="#464646"/><stop offset="0.050" stop-color="#595959"/><stop offset="0.125" stop-color="#696969"/><stop offset="0.150" stop-color="#6b6b6b"/><stop offset="0.250" stop-color="#5e5e5e"/><stop offset="0.400" stop-color="#5e5e5e"/><stop offset="0.425" stop-color="#595959"/><stop offset="0.475" stop-color="#434343"/><stop offset="0.500" stop-color="#424242"/><stop offset="0.550" stop-color="#4f4f4f"/><stop offset="0.800" stop-color="#555555"/><stop offset="0.975" stop-color="#535353"/><stop offset="1.000" stop-color="#4e4e4e"/></linearGradient><linearGradient id="w88" gradientUnits="userSpaceOnUse" x1="180.9" y1="382.5" x2="205.1" y2="380.9"><stop offset="0.000" stop-color="#484848"/><stop offset="0.075" stop-color="#6f6f6f"/><stop offset="0.125" stop-color="#868686"/><stop offset="0.150" stop-color="#8e8e8e"/><stop offset="0.250" stop-color="#757575"/><stop offset="0.400" stop-color="#676767"/><stop offset="0.425" stop-color="#606060"/><stop offset="0.500" stop-color="#3e3e3e"/><stop offset="0.550" stop-color="#4e4e4e"/><stop offset="0.975" stop-color="#565656"/><stop offset="1.000" stop-color="#505050"/></linearGradient><linearGradient id="w89" gradientUnits="userSpaceOnUse" x1="181.1" y1="375.5" x2="204.5" y2="375.2"><stop offset="0.000" stop-color="#484848"/><stop offset="0.150" stop-color="#9e9e9e"/><stop offset="0.300" stop-color="#7c7c7c"/><stop offset="0.425" stop-color="#666666"/><stop offset="0.500" stop-color="#454545"/><stop offset="0.525" stop-color="#414141"/><stop offset="0.550" stop-color="#4a4a4a"/><stop offset="0.600" stop-color="#4f4f4f"/><stop offset="0.975" stop-color="#565656"/><stop offset="1.000" stop-color="#505050"/></linearGradient><linearGradient id="w90" gradientUnits="userSpaceOnUse" x1="181.6" y1="368.5" x2="204.1" y2="369.5"><stop offset="0.000" stop-color="#484848"/><stop offset="0.075" stop-color="#747474"/><stop offset="0.150" stop-color="#a6a6a6"/><stop offset="0.175" stop-color="#a5a5a5"/><stop offset="0.450" stop-color="#646464"/><stop offset="0.525" stop-color="#444444"/><stop offset="0.550" stop-color="#424242"/><stop offset="0.575" stop-color="#4a4a4a"/><stop offset="0.625" stop-color="#4f4f4f"/><stop offset="0.975" stop-color="#565656"/><stop offset="1.000" stop-color="#505050"/></linearGradient><linearGradient id="w91" gradientUnits="userSpaceOnUse" x1="182.5" y1="361.5" x2="204.1" y2="363.8"><stop offset="0.000" stop-color="#484848"/><stop offset="0.050" stop-color="#626262"/><stop offset="0.150" stop-color="#a6a6a6"/><stop offset="0.175" stop-color="#aeaeae"/><stop offset="0.375" stop-color="#7f7f7f"/><stop offset="0.475" stop-color="#646464"/><stop offset="0.550" stop-color="#464646"/><stop offset="0.575" stop-color="#404040"/><stop offset="0.625" stop-color="#4e4e4e"/><stop offset="0.975" stop-color="#565656"/><stop offset="1.000" stop-color="#505050"/></linearGradient><linearGradient id="w92" gradientUnits="userSpaceOnUse" x1="183.8" y1="354.7" x2="204.5" y2="358.0"><stop offset="0.000" stop-color="#484848"/><stop offset="0.050" stop-color="#606060"/><stop offset="0.175" stop-color="#b6b6b6"/><stop offset="0.325" stop-color="#969696"/><stop offset="0.500" stop-color="#646464"/><stop offset="0.600" stop-color="#3f3f3f"/><stop offset="0.650" stop-color="#4e4e4e"/><stop offset="0.975" stop-color="#565656"/><stop offset="1.000" stop-color="#505050"/></linearGradient><linearGradient id="w93" gradientUnits="userSpaceOnUse" x1="185.4" y1="347.9" x2="205.2" y2="352.3"><stop offset="0.000" stop-color="#484848"/><stop offset="0.050" stop-color="#5f5f5f"/><stop offset="0.175" stop-color="#b6b6b6"/><stop offset="0.200" stop-color="#bababa"/><stop offset="0.350" stop-color="#9b9b9b"/><stop offset="0.550" stop-color="#5e5e5e"/><stop offset="0.625" stop-color="#434343"/><stop offset="0.650" stop-color="#414141"/><stop offset="0.700" stop-color="#4e4e4e"/><stop offset="0.975" stop-color="#565656"/><stop offset="1.000" stop-color="#505050"/></linearGradient><linearGradient id="w94" gradientUnits="userSpaceOnUse" x1="187.2" y1="341.2" x2="206.4" y2="346.5"><stop offset="0.000" stop-color="#484848"/><stop offset="0.050" stop-color="#5d5d5d"/><stop offset="0.175" stop-color="#b2b2b2"/><stop offset="0.200" stop-color="#c0c0c0"/><stop offset="0.350" stop-color="#a4a4a4"/><stop offset="0.625" stop-color="#505050"/><stop offset="0.675" stop-color="#3f3f3f"/><stop offset="0.725" stop-color="#4c4c4c"/><stop offset="0.975" stop-color="#565656"/><stop offset="1.000" stop-color="#505050"/></linearGradient><linearGradient id="w95" gradientUnits="userSpaceOnUse" x1="189.4" y1="334.6" x2="207.8" y2="340.9"><stop offset="0.000" stop-color="#484848"/><stop offset="0.050" stop-color="#5c5c5c"/><stop offset="0.150" stop-color="#9a9a9a"/><stop offset="0.200" stop-color="#bababa"/><stop offset="0.225" stop-color="#bfbfbf"/><stop offset="0.375" stop-color="#a6a6a6"/><stop offset="0.675" stop-color="#505050"/><stop offset="0.725" stop-color="#414141"/><stop offset="0.750" stop-color="#434343"/><stop offset="0.800" stop-color="#4f4f4f"/><stop offset="0.975" stop-color="#555555"/><stop offset="1.000" stop-color="#505050"/></linearGradient><linearGradient id="w96" gradientUnits="userSpaceOnUse" x1="191.9" y1="328.1" x2="209.7" y2="335.3"><stop offset="0.000" stop-color="#484848"/><stop offset="0.075" stop-color="#656565"/><stop offset="0.225" stop-color="#bebebe"/><stop offset="0.250" stop-color="#bfbfbf"/><stop offset="0.425" stop-color="#a3a3a3"/><stop offset="0.775" stop-color="#464646"/><stop offset="0.800" stop-color="#3f3f3f"/><stop offset="0.850" stop-color="#4c4c4c"/><stop offset="0.975" stop-color="#555555"/><stop offset="1.000" stop-color="#505050"/></linearGradient><linearGradient id="w97" gradientUnits="userSpaceOnUse" x1="194.7" y1="321.8" x2="211.9" y2="329.9"><stop offset="0.000" stop-color="#484848"/><stop offset="0.075" stop-color="#626262"/><stop offset="0.250" stop-color="#c2c2c2"/><stop offset="0.450" stop-color="#a7a7a7"/><stop offset="0.875" stop-color="#3f3f3f"/><stop offset="0.950" stop-color="#515151"/><stop offset="0.975" stop-color="#545454"/><stop offset="1.000" stop-color="#505050"/></linearGradient><linearGradient id="w98" gradientUnits="userSpaceOnUse" x1="197.7" y1="315.6" x2="214.4" y2="324.5"><stop offset="0.000" stop-color="#525252"/><stop offset="0.050" stop-color="#5c5c5c"/><stop offset="0.100" stop-color="#737373"/><stop offset="0.150" stop-color="#818181"/><stop offset="0.175" stop-color="#848484"/><stop offset="0.200" stop-color="#838383"/><stop offset="0.225" stop-color="#8b8b8b"/><stop offset="0.250" stop-color="#9d9d9d"/><stop offset="0.275" stop-color="#9f9f9f"/><stop offset="0.350" stop-color="#979797"/><stop offset="0.375" stop-color="#8a8a8a"/><stop offset="0.425" stop-color="#858585"/><stop offset="0.475" stop-color="#797979"/><stop offset="0.725" stop-color="#696969"/><stop offset="0.925" stop-color="#454545"/><stop offset="1.000" stop-color="#4d4d4d"/></linearGradient><linearGradient id="w99" gradientUnits="userSpaceOnUse" x1="200.9" y1="309.6" x2="217.2" y2="319.4"><stop offset="0.000" stop-color="#5c5c5c"/><stop offset="0.050" stop-color="#5f5f5f"/><stop offset="0.100" stop-color="#7b7b7b"/><stop offset="0.150" stop-color="#7b7b7b"/><stop offset="0.175" stop-color="#777777"/><stop offset="0.200" stop-color="#656565"/><stop offset="0.225" stop-color="#676767"/><stop offset="0.250" stop-color="#7f7f7f"/><stop offset="0.350" stop-color="#777777"/><stop offset="0.375" stop-color="#646464"/><stop offset="0.400" stop-color="#5c5c5c"/><stop offset="0.425" stop-color="#5c5c5c"/><stop offset="0.475" stop-color="#4c4c4c"/><stop offset="0.725" stop-color="#646464"/><stop offset="0.900" stop-color="#4f4f4f"/><stop offset="0.950" stop-color="#474747"/><stop offset="1.000" stop-color="#4a4a4a"/></linearGradient><linearGradient id="w100" gradientUnits="userSpaceOnUse" x1="204.3" y1="303.8" x2="220.4" y2="314.4"><stop offset="0.000" stop-color="#5c5c5c"/><stop offset="0.050" stop-color="#5f5f5f"/><stop offset="0.100" stop-color="#7d7d7d"/><stop offset="0.150" stop-color="#7d7d7d"/><stop offset="0.175" stop-color="#797979"/><stop offset="0.200" stop-color="#666666"/><stop offset="0.225" stop-color="#666666"/><stop offset="0.250" stop-color="#7e7e7e"/><stop offset="0.300" stop-color="#7d7d7d"/><stop offset="0.350" stop-color="#787878"/><stop offset="0.400" stop-color="#5c5c5c"/><stop offset="0.425" stop-color="#5c5c5c"/><stop offset="0.450" stop-color="#585858"/><stop offset="0.475" stop-color="#4c4c4c"/><stop offset="0.725" stop-color="#656565"/><stop offset="0.900" stop-color="#505050"/><stop offset="0.950" stop-color="#484848"/><stop offset="1.000" stop-color="#4a4a4a"/></linearGradient><linearGradient id="w101" gradientUnits="userSpaceOnUse" x1="208.0" y1="298.1" x2="223.7" y2="309.6"><stop offset="0.000" stop-color="#5c5c5c"/><stop offset="0.050" stop-color="#5f5f5f"/><stop offset="0.100" stop-color="#7e7e7e"/><stop offset="0.175" stop-color="#7c7c7c"/><stop offset="0.200" stop-color="#676767"/><stop offset="0.225" stop-color="#676767"/><stop offset="0.250" stop-color="#7c7c7c"/><stop offset="0.275" stop-color="#808080"/><stop offset="0.350" stop-color="#7a7a7a"/><stop offset="0.375" stop-color="#727272"/><stop offset="0.400" stop-color="#5c5c5c"/><stop offset="0.450" stop-color="#5a5a5a"/><stop offset="0.475" stop-color="#4e4e4e"/><stop offset="0.725" stop-color="#666666"/><stop offset="0.900" stop-color="#515151"/><stop offset="0.950" stop-color="#494949"/><stop offset="1.000" stop-color="#4a4a4a"/></linearGradient><linearGradient id="w102" gradientUnits="userSpaceOnUse" x1="211.9" y1="292.7" x2="227.3" y2="304.9"><stop offset="0.000" stop-color="#5c5c5c"/><stop offset="0.050" stop-color="#5f5f5f"/><stop offset="0.100" stop-color="#7f7f7f"/><stop offset="0.175" stop-color="#7f7f7f"/><stop offset="0.200" stop-color="#686868"/><stop offset="0.225" stop-color="#686868"/><stop offset="0.250" stop-color="#7b7b7b"/><stop offset="0.275" stop-color="#828282"/><stop offset="0.375" stop-color="#797979"/><stop offset="0.400" stop-color="#5c5c5c"/><stop offset="0.450" stop-color="#5c5c5c"/><stop offset="0.475" stop-color="#515151"/><stop offset="0.500" stop-color="#4f4f4f"/><stop offset="0.725" stop-color="#676767"/><stop offset="0.900" stop-color="#525252"/><stop offset="0.950" stop-color="#4a4a4a"/><stop offset="1.000" stop-color="#4a4a4a"/></linearGradient><linearGradient id="w103" gradientUnits="userSpaceOnUse" x1="215.9" y1="287.4" x2="231.1" y2="300.5"><stop offset="0.000" stop-color="#5c5c5c"/><stop offset="0.050" stop-color="#5f5f5f"/><stop offset="0.100" stop-color="#838383"/><stop offset="0.175" stop-color="#838383"/><stop offset="0.200" stop-color="#6d6d6d"/><stop offset="0.225" stop-color="#6a6a6a"/><stop offset="0.250" stop-color="#7c7c7c"/><stop offset="0.275" stop-color="#868686"/><stop offset="0.375" stop-color="#7d7d7d"/><stop offset="0.400" stop-color="#5c5c5c"/><stop offset="0.450" stop-color="#5c5c5c"/><stop offset="0.500" stop-color="#515151"/><stop offset="0.725" stop-color="#696969"/><stop offset="0.900" stop-color="#545454"/><stop offset="0.950" stop-color="#4c4c4c"/><stop offset="1.000" stop-color="#4a4a4a"/></linearGradient><linearGradient id="w104" gradientUnits="userSpaceOnUse" x1="220.1" y1="282.3" x2="235.0" y2="296.2"><stop offset="0.000" stop-color="#5c5c5c"/><stop offset="0.050" stop-color="#5f5f5f"/><stop offset="0.100" stop-color="#888888"/><stop offset="0.175" stop-color="#888888"/><stop offset="0.200" stop-color="#737373"/><stop offset="0.225" stop-color="#6f6f6f"/><stop offset="0.275" stop-color="#8b8b8b"/><stop offset="0.375" stop-color="#838383"/><stop offset="0.400" stop-color="#5c5c5c"/><stop offset="0.450" stop-color="#5c5c5c"/><stop offset="0.500" stop-color="#545454"/><stop offset="0.725" stop-color="#6d6d6d"/><stop offset="0.900" stop-color="#575757"/><stop offset="1.000" stop-color="#4a4a4a"/></linearGradient><linearGradient id="w105" gradientUnits="userSpaceOnUse" x1="224.5" y1="277.4" x2="239.2" y2="292.1"><stop offset="0.000" stop-color="#5c5c5c"/><stop offset="0.050" stop-color="#5f5f5f"/><stop offset="0.100" stop-color="#8e8e8e"/><stop offset="0.175" stop-color="#8e8e8e"/><stop offset="0.200" stop-color="#7a7a7a"/><stop offset="0.225" stop-color="#747474"/><stop offset="0.275" stop-color="#919191"/><stop offset="0.375" stop-color="#898989"/><stop offset="0.400" stop-color="#676767"/><stop offset="0.425" stop-color="#5c5c5c"/><stop offset="0.500" stop-color="#575757"/><stop offset="0.725" stop-color="#717171"/><stop offset="0.900" stop-color="#5b5b5b"/><stop offset="1.000" stop-color="#4a4a4a"/></linearGradient><linearGradient id="w106" gradientUnits="userSpaceOnUse" x1="229.0" y1="272.6" x2="243.4" y2="288.2"><stop offset="0.000" stop-color="#5c5c5c"/><stop offset="0.050" stop-color="#5f5f5f"/><stop offset="0.100" stop-color="#949494"/><stop offset="0.175" stop-color="#949494"/><stop offset="0.200" stop-color="#818181"/><stop offset="0.225" stop-color="#797979"/><stop offset="0.250" stop-color="#848484"/><stop offset="0.275" stop-color="#979797"/><stop offset="0.375" stop-color="#8f8f8f"/><stop offset="0.425" stop-color="#5c5c5c"/><stop offset="0.500" stop-color="#5b5b5b"/><stop offset="0.725" stop-color="#747474"/><stop offset="0.900" stop-color="#5f5f5f"/><stop offset="0.975" stop-color="#505050"/><stop offset="1.000" stop-color="#4a4a4a"/></linearGradient><linearGradient id="w107" gradientUnits="userSpaceOnUse" x1="233.6" y1="268.1" x2="247.8" y2="284.4"><stop offset="0.000" stop-color="#5c5c5c"/><stop offset="0.050" stop-color="#5f5f5f"/><stop offset="0.100" stop-color="#999999"/><stop offset="0.175" stop-color="#999999"/><stop offset="0.200" stop-color="#898989"/><stop offset="0.225" stop-color="#7e7e7e"/><stop offset="0.250" stop-color="#878787"/><stop offset="0.275" stop-color="#9d9d9d"/><stop offset="0.375" stop-color="#959595"/><stop offset="0.400" stop-color="#838383"/><stop offset="0.425" stop-color="#5c5c5c"/><stop offset="0.500" stop-color="#5e5e5e"/><stop offset="0.725" stop-color="#787878"/><stop offset="0.900" stop-color="#626262"/><stop offset="0.950" stop-color="#5a5a5a"/><stop offset="1.000" stop-color="#4a4a4a"/></linearGradient><linearGradient id="w108" gradientUnits="userSpaceOnUse" x1="238.4" y1="263.8" x2="252.2" y2="280.8"><stop offset="0.000" stop-color="#5c5c5c"/><stop offset="0.050" stop-color="#5f5f5f"/><stop offset="0.100" stop-color="#9c9c9c"/><stop offset="0.175" stop-color="#9c9c9c"/><stop offset="0.225" stop-color="#7f7f7f"/><stop offset="0.250" stop-color="#868686"/><stop offset="0.275" stop-color="#a0a0a0"/><stop offset="0.375" stop-color="#989898"/><stop offset="0.400" stop-color="#919191"/><stop offset="0.425" stop-color="#5c5c5c"/><stop offset="0.475" stop-color="#5c5c5c"/><stop offset="0.725" stop-color="#7c7c7c"/><stop offset="0.900" stop-color="#666666"/><stop offset="0.950" stop-color="#5e5e5e"/><stop offset="1.000" stop-color="#4a4a4a"/></linearGradient><linearGradient id="w109" gradientUnits="userSpaceOnUse" x1="243.2" y1="259.6" x2="256.8" y2="277.4"><stop offset="0.000" stop-color="#5c5c5c"/><stop offset="0.050" stop-color="#5f5f5f"/><stop offset="0.100" stop-color="#9c9c9c"/><stop offset="0.175" stop-color="#9c9c9c"/><stop offset="0.225" stop-color="#7e7e7e"/><stop offset="0.250" stop-color="#828282"/><stop offset="0.275" stop-color="#9d9d9d"/><stop offset="0.375" stop-color="#989898"/><stop offset="0.400" stop-color="#969696"/><stop offset="0.425" stop-color="#767676"/><stop offset="0.475" stop-color="#767676"/><stop offset="0.525" stop-color="#656565"/><stop offset="0.725" stop-color="#7e7e7e"/><stop offset="0.900" stop-color="#696969"/><stop offset="0.950" stop-color="#616161"/><stop offset="1.000" stop-color="#4a4a4a"/></linearGradient><linearGradient id="w110" gradientUnits="userSpaceOnUse" x1="248.2" y1="255.7" x2="261.4" y2="274.1"><stop offset="0.000" stop-color="#5c5c5c"/><stop offset="0.050" stop-color="#5f5f5f"/><stop offset="0.100" stop-color="#9c9c9c"/><stop offset="0.175" stop-color="#9c9c9c"/><stop offset="0.200" stop-color="#909090"/><stop offset="0.225" stop-color="#7c7c7c"/><stop offset="0.250" stop-color="#7e7e7e"/><stop offset="0.275" stop-color="#9a9a9a"/><stop offset="0.300" stop-color="#9e9e9e"/><stop offset="0.400" stop-color="#969696"/><stop offset="0.425" stop-color="#ababab"/><stop offset="0.475" stop-color="#ababab"/><stop offset="0.500" stop-color="#939393"/><stop offset="0.525" stop-color="#666666"/><stop offset="0.725" stop-color="#7f7f7f"/><stop offset="0.900" stop-color="#6a6a6a"/><stop offset="0.950" stop-color="#626262"/><stop offset="1.000" stop-color="#4a4a4a"/></linearGradient><linearGradient id="w111" gradientUnits="userSpaceOnUse" x1="253.2" y1="251.9" x2="266.1" y2="270.9"><stop offset="0.000" stop-color="#5c5c5c"/><stop offset="0.050" stop-color="#5f5f5f"/><stop offset="0.100" stop-color="#9c9c9c"/><stop offset="0.175" stop-color="#9c9c9c"/><stop offset="0.200" stop-color="#919191"/><stop offset="0.225" stop-color="#7b7b7b"/><stop offset="0.250" stop-color="#7b7b7b"/><stop offset="0.275" stop-color="#979797"/><stop offset="0.300" stop-color="#9e9e9e"/><stop offset="0.400" stop-color="#969696"/><stop offset="0.425" stop-color="#d2d2d2"/><stop offset="0.450" stop-color="#e0e0e0"/><stop offset="0.475" stop-color="#e0e0e0"/><stop offset="0.500" stop-color="#c6c6c6"/><stop offset="0.525" stop-color="#737373"/><stop offset="0.550" stop-color="#6a6a6a"/><stop offset="0.725" stop-color="#808080"/><stop offset="0.900" stop-color="#6b6b6b"/><stop offset="0.950" stop-color="#636363"/><stop offset="1.000" stop-color="#4a4a4a"/></linearGradient><linearGradient id="w112" gradientUnits="userSpaceOnUse" x1="258.3" y1="248.3" x2="270.8" y2="267.9"><stop offset="0.000" stop-color="#5c5c5c"/><stop offset="0.050" stop-color="#5f5f5f"/><stop offset="0.100" stop-color="#9b9b9b"/><stop offset="0.175" stop-color="#9b9b9b"/><stop offset="0.200" stop-color="#939393"/><stop offset="0.225" stop-color="#797979"/><stop offset="0.250" stop-color="#797979"/><stop offset="0.275" stop-color="#939393"/><stop offset="0.300" stop-color="#9e9e9e"/><stop offset="0.400" stop-color="#979797"/><stop offset="0.425" stop-color="#d2d2d2"/><stop offset="0.450" stop-color="#fafafa"/><stop offset="0.475" stop-color="#fafafa"/><stop offset="0.500" stop-color="#ededed"/><stop offset="0.525" stop-color="#8a8a8a"/><stop offset="0.550" stop-color="#6a6a6a"/><stop offset="0.725" stop-color="#818181"/><stop offset="0.900" stop-color="#6c6c6c"/><stop offset="0.950" stop-color="#646464"/><stop offset="1.000" stop-color="#4a4a4a"/></linearGradient><linearGradient id="w113" gradientUnits="userSpaceOnUse" x1="263.5" y1="244.9" x2="275.6" y2="265.0"><stop offset="0.000" stop-color="#5c5c5c"/><stop offset="0.050" stop-color="#5f5f5f"/><stop offset="0.100" stop-color="#9b9b9b"/><stop offset="0.175" stop-color="#9b9b9b"/><stop offset="0.200" stop-color="#949494"/><stop offset="0.225" stop-color="#787878"/><stop offset="0.250" stop-color="#787878"/><stop offset="0.275" stop-color="#909090"/><stop offset="0.300" stop-color="#9e9e9e"/><stop offset="0.400" stop-color="#979797"/><stop offset="0.425" stop-color="#c1c1c1"/><stop offset="0.450" stop-color="#fafafa"/><stop offset="0.500" stop-color="#fafafa"/><stop offset="0.525" stop-color="#989898"/><stop offset="0.550" stop-color="#696969"/><stop offset="0.725" stop-color="#818181"/><stop offset="0.900" stop-color="#6b6b6b"/><stop offset="0.950" stop-color="#636363"/><stop offset="1.000" stop-color="#4a4a4a"/></linearGradient><linearGradient id="w114" gradientUnits="userSpaceOnUse" x1="268.7" y1="241.6" x2="280.4" y2="262.2"><stop offset="0.000" stop-color="#5c5c5c"/><stop offset="0.050" stop-color="#5f5f5f"/><stop offset="0.100" stop-color="#9b9b9b"/><stop offset="0.175" stop-color="#9b9b9b"/><stop offset="0.200" stop-color="#969696"/><stop offset="0.225" stop-color="#767676"/><stop offset="0.250" stop-color="#767676"/><stop offset="0.275" stop-color="#8d8d8d"/><stop offset="0.300" stop-color="#9e9e9e"/><stop offset="0.400" stop-color="#979797"/><stop offset="0.425" stop-color="#b2b2b2"/><stop offset="0.450" stop-color="#fafafa"/><stop offset="0.500" stop-color="#fafafa"/><stop offset="0.525" stop-color="#a6a6a6"/><stop offset="0.550" stop-color="#676767"/><stop offset="0.725" stop-color="#808080"/><stop offset="0.900" stop-color="#6a6a6a"/><stop offset="0.950" stop-color="#626262"/><stop offset="1.000" stop-color="#4a4a4a"/></linearGradient><linearGradient id="w115" gradientUnits="userSpaceOnUse" x1="273.9" y1="238.5" x2="285.2" y2="259.6"><stop offset="0.000" stop-color="#5c5c5c"/><stop offset="0.050" stop-color="#5f5f5f"/><stop offset="0.100" stop-color="#9b9b9b"/><stop offset="0.175" stop-color="#9b9b9b"/><stop offset="0.200" stop-color="#979797"/><stop offset="0.225" stop-color="#757575"/><stop offset="0.250" stop-color="#757575"/><stop offset="0.300" stop-color="#9e9e9e"/><stop offset="0.400" stop-color="#979797"/><stop offset="0.425" stop-color="#a2a2a2"/><stop offset="0.450" stop-color="#fafafa"/><stop offset="0.500" stop-color="#fafafa"/><stop offset="0.525" stop-color="#b3b3b3"/><stop offset="0.550" stop-color="#666666"/><stop offset="0.725" stop-color="#7f7f7f"/><stop offset="0.900" stop-color="#696969"/><stop offset="0.950" stop-color="#616161"/><stop offset="1.000" stop-color="#4a4a4a"/></linearGradient><linearGradient id="w116" gradientUnits="userSpaceOnUse" x1="279.2" y1="235.6" x2="290.1" y2="257.1"><stop offset="0.000" stop-color="#5c5c5c"/><stop offset="0.050" stop-color="#5f5f5f"/><stop offset="0.100" stop-color="#9b9b9b"/><stop offset="0.200" stop-color="#999999"/><stop offset="0.225" stop-color="#767676"/><stop offset="0.250" stop-color="#737373"/><stop offset="0.300" stop-color="#9e9e9e"/><stop offset="0.425" stop-color="#959595"/><stop offset="0.450" stop-color="#fafafa"/><stop offset="0.500" stop-color="#fafafa"/><stop offset="0.525" stop-color="#c1c1c1"/><stop offset="0.550" stop-color="#646464"/><stop offset="0.725" stop-color="#7e7e7e"/><stop offset="0.900" stop-color="#686868"/><stop offset="0.950" stop-color="#606060"/><stop offset="1.000" stop-color="#4a4a4a"/></linearGradient><linearGradient id="w117" gradientUnits="userSpaceOnUse" x1="284.6" y1="232.9" x2="295.0" y2="254.7"><stop offset="0.000" stop-color="#5c5c5c"/><stop offset="0.050" stop-color="#5f5f5f"/><stop offset="0.100" stop-color="#9b9b9b"/><stop offset="0.200" stop-color="#9b9b9b"/><stop offset="0.225" stop-color="#777777"/><stop offset="0.250" stop-color="#717171"/><stop offset="0.275" stop-color="#838383"/><stop offset="0.300" stop-color="#9f9f9f"/><stop offset="0.425" stop-color="#959595"/><stop offset="0.450" stop-color="#fafafa"/><stop offset="0.500" stop-color="#fafafa"/><stop offset="0.525" stop-color="#cfcfcf"/><stop offset="0.550" stop-color="#6c6c6c"/><stop offset="0.575" stop-color="#676767"/><stop offset="0.725" stop-color="#7d7d7d"/><stop offset="0.900" stop-color="#676767"/><stop offset="0.950" stop-color="#5f5f5f"/><stop offset="1.000" stop-color="#4a4a4a"/></linearGradient><linearGradient id="w118" gradientUnits="userSpaceOnUse" x1="290.0" y1="230.3" x2="299.9" y2="252.5"><stop offset="0.000" stop-color="#5c5c5c"/><stop offset="0.050" stop-color="#5f5f5f"/><stop offset="0.100" stop-color="#9b9b9b"/><stop offset="0.200" stop-color="#9b9b9b"/><stop offset="0.225" stop-color="#777777"/><stop offset="0.250" stop-color="#707070"/><stop offset="0.275" stop-color="#808080"/><stop offset="0.300" stop-color="#9f9f9f"/><stop offset="0.425" stop-color="#959595"/><stop offset="0.450" stop-color="#f8f8f8"/><stop offset="0.500" stop-color="#fafafa"/><stop offset="0.525" stop-color="#dcdcdc"/><stop offset="0.550" stop-color="#797979"/><stop offset="0.575" stop-color="#656565"/><stop offset="0.725" stop-color="#7c7c7c"/><stop offset="0.900" stop-color="#666666"/><stop offset="0.950" stop-color="#5e5e5e"/><stop offset="1.000" stop-color="#4a4a4a"/></linearGradient><linearGradient id="w119" gradientUnits="userSpaceOnUse" x1="295.4" y1="227.8" x2="304.8" y2="250.3"><stop offset="0.000" stop-color="#5c5c5c"/><stop offset="0.050" stop-color="#5f5f5f"/><stop offset="0.100" stop-color="#9b9b9b"/><stop offset="0.200" stop-color="#9b9b9b"/><stop offset="0.225" stop-color="#787878"/><stop offset="0.250" stop-color="#6e6e6e"/><stop offset="0.275" stop-color="#7c7c7c"/><stop offset="0.300" stop-color="#9f9f9f"/><stop offset="0.425" stop-color="#959595"/><stop offset="0.450" stop-color="#e8e8e8"/><stop offset="0.475" stop-color="#fafafa"/><stop offset="0.500" stop-color="#fafafa"/><stop offset="0.525" stop-color="#eaeaea"/><stop offset="0.550" stop-color="#878787"/><stop offset="0.575" stop-color="#646464"/><stop offset="0.725" stop-color="#7b7b7b"/><stop offset="0.900" stop-color="#656565"/><stop offset="0.950" stop-color="#5d5d5d"/><stop offset="1.000" stop-color="#4a4a4a"/></linearGradient><linearGradient id="w120" gradientUnits="userSpaceOnUse" x1="300.8" y1="225.5" x2="309.7" y2="248.3"><stop offset="0.000" stop-color="#5c5c5c"/><stop offset="0.050" stop-color="#5f5f5f"/><stop offset="0.100" stop-color="#9b9b9b"/><stop offset="0.200" stop-color="#9b9b9b"/><stop offset="0.225" stop-color="#7a7a7a"/><stop offset="0.250" stop-color="#6d6d6d"/><stop offset="0.275" stop-color="#787878"/><stop offset="0.300" stop-color="#9d9d9d"/><stop offset="0.425" stop-color="#959595"/><stop offset="0.450" stop-color="#d8d8d8"/><stop offset="0.475" stop-color="#fafafa"/><stop offset="0.525" stop-color="#f8f8f8"/><stop offset="0.550" stop-color="#959595"/><stop offset="0.575" stop-color="#626262"/><stop offset="0.725" stop-color="#7a7a7a"/><stop offset="0.900" stop-color="#646464"/><stop offset="0.950" stop-color="#5c5c5c"/><stop offset="1.000" stop-color="#4a4a4a"/></linearGradient><linearGradient id="w121" gradientUnits="userSpaceOnUse" x1="306.3" y1="223.4" x2="314.7" y2="246.5"><stop offset="0.000" stop-color="#5c5c5c"/><stop offset="0.050" stop-color="#5f5f5f"/><stop offset="0.100" stop-color="#9a9a9a"/><stop offset="0.200" stop-color="#9a9a9a"/><stop offset="0.225" stop-color="#7b7b7b"/><stop offset="0.250" stop-color="#6b6b6b"/><stop offset="0.275" stop-color="#757575"/><stop offset="0.300" stop-color="#9a9a9a"/><stop offset="0.325" stop-color="#9d9d9d"/><stop offset="0.425" stop-color="#969696"/><stop offset="0.475" stop-color="#fafafa"/><stop offset="0.525" stop-color="#fafafa"/><stop offset="0.550" stop-color="#a3a3a3"/><stop offset="0.575" stop-color="#616161"/><stop offset="0.725" stop-color="#797979"/><stop offset="0.900" stop-color="#636363"/><stop offset="0.950" stop-color="#5b5b5b"/><stop offset="1.000" stop-color="#4a4a4a"/></linearGradient><linearGradient id="w122" gradientUnits="userSpaceOnUse" x1="311.8" y1="221.4" x2="319.6" y2="244.7"><stop offset="0.000" stop-color="#5c5c5c"/><stop offset="0.050" stop-color="#5f5f5f"/><stop offset="0.100" stop-color="#9a9a9a"/><stop offset="0.200" stop-color="#9a9a9a"/><stop offset="0.225" stop-color="#7c7c7c"/><stop offset="0.250" stop-color="#6a6a6a"/><stop offset="0.275" stop-color="#717171"/><stop offset="0.300" stop-color="#979797"/><stop offset="0.325" stop-color="#9d9d9d"/><stop offset="0.425" stop-color="#969696"/><stop offset="0.450" stop-color="#bababa"/><stop offset="0.475" stop-color="#fafafa"/><stop offset="0.525" stop-color="#fafafa"/><stop offset="0.550" stop-color="#b0b0b0"/><stop offset="0.575" stop-color="#5f5f5f"/><stop offset="0.725" stop-color="#787878"/><stop offset="0.900" stop-color="#626262"/><stop offset="0.950" stop-color="#5a5a5a"/><stop offset="1.000" stop-color="#4a4a4a"/></linearGradient><linearGradient id="w123" gradientUnits="userSpaceOnUse" x1="317.3" y1="219.5" x2="324.6" y2="243.1"><stop offset="0.000" stop-color="#5c5c5c"/><stop offset="0.050" stop-color="#5f5f5f"/><stop offset="0.100" stop-color="#9a9a9a"/><stop offset="0.200" stop-color="#9a9a9a"/><stop offset="0.225" stop-color="#7e7e7e"/><stop offset="0.250" stop-color="#686868"/><stop offset="0.275" stop-color="#6c6c6c"/><stop offset="0.300" stop-color="#939393"/><stop offset="0.325" stop-color="#9d9d9d"/><stop offset="0.425" stop-color="#969696"/><stop offset="0.450" stop-color="#aaaaaa"/><stop offset="0.475" stop-color="#fafafa"/><stop offset="0.525" stop-color="#fafafa"/><stop offset="0.550" stop-color="#bebebe"/><stop offset="0.575" stop-color="#5e5e5e"/><stop offset="0.725" stop-color="#777777"/><stop offset="0.900" stop-color="#616161"/><stop offset="0.950" stop-color="#595959"/><stop offset="1.000" stop-color="#4a4a4a"/></linearGradient><linearGradient id="w124" gradientUnits="userSpaceOnUse" x1="322.8" y1="217.8" x2="329.6" y2="241.7"><stop offset="0.000" stop-color="#5c5c5c"/><stop offset="0.050" stop-color="#5f5f5f"/><stop offset="0.100" stop-color="#9a9a9a"/><stop offset="0.200" stop-color="#999999"/><stop offset="0.225" stop-color="#7d7d7d"/><stop offset="0.250" stop-color="#676767"/><stop offset="0.275" stop-color="#6b6b6b"/><stop offset="0.300" stop-color="#929292"/><stop offset="0.325" stop-color="#9d9d9d"/><stop offset="0.425" stop-color="#949494"/><stop offset="0.450" stop-color="#a2a2a2"/><stop offset="0.475" stop-color="#f6f6f6"/><stop offset="0.525" stop-color="#f6f6f6"/><stop offset="0.550" stop-color="#c2c2c2"/><stop offset="0.575" stop-color="#626262"/><stop offset="0.600" stop-color="#616161"/><stop offset="0.725" stop-color="#767676"/><stop offset="0.900" stop-color="#616161"/><stop offset="0.950" stop-color="#595959"/><stop offset="1.000" stop-color="#4a4a4a"/></linearGradient><linearGradient id="w125" gradientUnits="userSpaceOnUse" x1="328.4" y1="216.2" x2="334.5" y2="240.4"><stop offset="0.000" stop-color="#5a5a5a"/><stop offset="0.050" stop-color="#5d5d5d"/><stop offset="0.100" stop-color="#979797"/><stop offset="0.175" stop-color="#979797"/><stop offset="0.200" stop-color="#939393"/><stop offset="0.225" stop-color="#777777"/><stop offset="0.250" stop-color="#676767"/><stop offset="0.275" stop-color="#737373"/><stop offset="0.300" stop-color="#929292"/><stop offset="0.325" stop-color="#9b9b9b"/><stop offset="0.350" stop-color="#999999"/><stop offset="0.400" stop-color="#8a8a8a"/><stop offset="0.425" stop-color="#8c8c8c"/><stop offset="0.450" stop-color="#9b9b9b"/><stop offset="0.475" stop-color="#dfdfdf"/><stop offset="0.500" stop-color="#dfdfdf"/><stop offset="0.525" stop-color="#dadada"/><stop offset="0.550" stop-color="#acacac"/><stop offset="0.575" stop-color="#5f5f5f"/><stop offset="0.600" stop-color="#5f5f5f"/><stop offset="0.725" stop-color="#747474"/><stop offset="0.800" stop-color="#6f6f6f"/><stop offset="0.975" stop-color="#505050"/><stop offset="1.000" stop-color="#4a4a4a"/></linearGradient><linearGradient id="w126" gradientUnits="userSpaceOnUse" x1="333.9" y1="214.8" x2="339.5" y2="239.2"><stop offset="0.000" stop-color="#585858"/><stop offset="0.050" stop-color="#5a5a5a"/><stop offset="0.075" stop-color="#7a7a7a"/><stop offset="0.100" stop-color="#939393"/><stop offset="0.175" stop-color="#939393"/><stop offset="0.200" stop-color="#8b8b8b"/><stop offset="0.225" stop-color="#6c6c6c"/><stop offset="0.250" stop-color="#666666"/><stop offset="0.275" stop-color="#7e7e7e"/><stop offset="0.300" stop-color="#929292"/><stop offset="0.325" stop-color="#979797"/><stop offset="0.350" stop-color="#979797"/><stop offset="0.375" stop-color="#8a8a8a"/><stop offset="0.400" stop-color="#787878"/><stop offset="0.425" stop-color="#7f7f7f"/><stop offset="0.450" stop-color="#919191"/><stop offset="0.475" stop-color="#bcbcbc"/><stop offset="0.500" stop-color="#bababa"/><stop offset="0.525" stop-color="#b0b0b0"/><stop offset="0.550" stop-color="#8c8c8c"/><stop offset="0.575" stop-color="#5c5c5c"/><stop offset="0.650" stop-color="#636363"/><stop offset="0.725" stop-color="#727272"/><stop offset="0.775" stop-color="#747474"/><stop offset="1.000" stop-color="#4a4a4a"/></linearGradient><linearGradient id="w127" gradientUnits="userSpaceOnUse" x1="339.5" y1="213.5" x2="344.5" y2="238.1"><stop offset="0.000" stop-color="#575757"/><stop offset="0.050" stop-color="#575757"/><stop offset="0.075" stop-color="#787878"/><stop offset="0.100" stop-color="#8f8f8f"/><stop offset="0.175" stop-color="#8f8f8f"/><stop offset="0.200" stop-color="#828282"/><stop offset="0.225" stop-color="#626262"/><stop offset="0.250" stop-color="#666666"/><stop offset="0.275" stop-color="#898989"/><stop offset="0.300" stop-color="#929292"/><stop offset="0.350" stop-color="#949494"/><stop offset="0.375" stop-color="#818181"/><stop offset="0.400" stop-color="#666666"/><stop offset="0.425" stop-color="#727272"/><stop offset="0.475" stop-color="#989898"/><stop offset="0.500" stop-color="#969696"/><stop offset="0.525" stop-color="#868686"/><stop offset="0.550" stop-color="#6c6c6c"/><stop offset="0.575" stop-color="#585858"/><stop offset="0.650" stop-color="#5f5f5f"/><stop offset="0.750" stop-color="#737373"/><stop offset="0.775" stop-color="#767676"/><stop offset="0.950" stop-color="#505050"/><stop offset="1.000" stop-color="#4a4a4a"/></linearGradient><linearGradient id="w128" gradientUnits="userSpaceOnUse" x1="345.2" y1="212.4" x2="349.5" y2="237.2"><stop offset="0.000" stop-color="#555555"/><stop offset="0.050" stop-color="#555555"/><stop offset="0.075" stop-color="#767676"/><stop offset="0.100" stop-color="#8c8c8c"/><stop offset="0.175" stop-color="#8c8c8c"/><stop offset="0.200" stop-color="#7c7c7c"/><stop offset="0.225" stop-color="#5b5b5b"/><stop offset="0.250" stop-color="#656565"/><stop offset="0.275" stop-color="#919191"/><stop offset="0.350" stop-color="#929292"/><stop offset="0.375" stop-color="#7c7c7c"/><stop offset="0.400" stop-color="#5a5a5a"/><stop offset="0.425" stop-color="#696969"/><stop offset="0.450" stop-color="#808080"/><stop offset="0.500" stop-color="#7e7e7e"/><stop offset="0.550" stop-color="#565656"/><stop offset="0.625" stop-color="#5a5a5a"/><stop offset="0.675" stop-color="#626262"/><stop offset="0.775" stop-color="#777777"/><stop offset="0.950" stop-color="#4e4e4e"/><stop offset="1.000" stop-color="#4a4a4a"/></linearGradient><linearGradient id="w129" gradientUnits="userSpaceOnUse" x1="350.8" y1="211.4" x2="354.5" y2="236.5"><stop offset="0.000" stop-color="#555555"/><stop offset="0.050" stop-color="#555555"/><stop offset="0.075" stop-color="#767676"/><stop offset="0.100" stop-color="#8c8c8c"/><stop offset="0.175" stop-color="#8c8c8c"/><stop offset="0.200" stop-color="#7b7b7b"/><stop offset="0.225" stop-color="#5a5a5a"/><stop offset="0.250" stop-color="#656565"/><stop offset="0.275" stop-color="#929292"/><stop offset="0.350" stop-color="#929292"/><stop offset="0.375" stop-color="#7b7b7b"/><stop offset="0.400" stop-color="#585858"/><stop offset="0.425" stop-color="#686868"/><stop offset="0.450" stop-color="#7f7f7f"/><stop offset="0.500" stop-color="#7b7b7b"/><stop offset="0.550" stop-color="#535353"/><stop offset="0.650" stop-color="#5c5c5c"/><stop offset="0.775" stop-color="#777777"/><stop offset="0.950" stop-color="#4d4d4d"/><stop offset="1.000" stop-color="#4a4a4a"/></linearGradient><linearGradient id="w130" gradientUnits="userSpaceOnUse" x1="356.4" y1="210.6" x2="359.4" y2="235.9"><stop offset="0.000" stop-color="#555555"/><stop offset="0.050" stop-color="#555555"/><stop offset="0.075" stop-color="#767676"/><stop offset="0.100" stop-color="#8c8c8c"/><stop offset="0.175" stop-color="#8c8c8c"/><stop offset="0.200" stop-color="#7b7b7b"/><stop offset="0.225" stop-color="#5a5a5a"/><stop offset="0.250" stop-color="#656565"/><stop offset="0.275" stop-color="#929292"/><stop offset="0.350" stop-color="#929292"/><stop offset="0.375" stop-color="#7b7b7b"/><stop offset="0.400" stop-color="#585858"/><stop offset="0.425" stop-color="#686868"/><stop offset="0.450" stop-color="#7f7f7f"/><stop offset="0.500" stop-color="#7b7b7b"/><stop offset="0.550" stop-color="#535353"/><stop offset="0.650" stop-color="#5c5c5c"/><stop offset="0.775" stop-color="#777777"/><stop offset="0.950" stop-color="#4d4d4d"/><stop offset="1.000" stop-color="#4a4a4a"/></linearGradient><linearGradient id="w131" gradientUnits="userSpaceOnUse" x1="362.1" y1="209.9" x2="364.4" y2="235.4"><stop offset="0.000" stop-color="#555555"/><stop offset="0.050" stop-color="#555555"/><stop offset="0.075" stop-color="#767676"/><stop offset="0.100" stop-color="#8c8c8c"/><stop offset="0.175" stop-color="#8c8c8c"/><stop offset="0.200" stop-color="#7b7b7b"/><stop offset="0.225" stop-color="#5a5a5a"/><stop offset="0.250" stop-color="#656565"/><stop offset="0.275" stop-color="#929292"/><stop offset="0.350" stop-color="#929292"/><stop offset="0.375" stop-color="#7b7b7b"/><stop offset="0.400" stop-color="#585858"/><stop offset="0.425" stop-color="#686868"/><stop offset="0.450" stop-color="#7f7f7f"/><stop offset="0.500" stop-color="#7b7b7b"/><stop offset="0.550" stop-color="#535353"/><stop offset="0.650" stop-color="#5c5c5c"/><stop offset="0.775" stop-color="#777777"/><stop offset="0.950" stop-color="#4d4d4d"/><stop offset="1.000" stop-color="#4a4a4a"/></linearGradient><linearGradient id="w132" gradientUnits="userSpaceOnUse" x1="367.8" y1="209.4" x2="369.4" y2="235.1"><stop offset="0.000" stop-color="#555555"/><stop offset="0.050" stop-color="#555555"/><stop offset="0.075" stop-color="#767676"/><stop offset="0.100" stop-color="#8c8c8c"/><stop offset="0.175" stop-color="#8c8c8c"/><stop offset="0.200" stop-color="#7b7b7b"/><stop offset="0.225" stop-color="#5a5a5a"/><stop offset="0.250" stop-color="#656565"/><stop offset="0.275" stop-color="#929292"/><stop offset="0.350" stop-color="#929292"/><stop offset="0.375" stop-color="#7b7b7b"/><stop offset="0.400" stop-color="#585858"/><stop offset="0.425" stop-color="#686868"/><stop offset="0.450" stop-color="#7f7f7f"/><stop offset="0.500" stop-color="#7b7b7b"/><stop offset="0.550" stop-color="#535353"/><stop offset="0.650" stop-color="#5c5c5c"/><stop offset="0.775" stop-color="#777777"/><stop offset="0.950" stop-color="#4d4d4d"/><stop offset="1.000" stop-color="#4a4a4a"/></linearGradient><linearGradient id="w133" gradientUnits="userSpaceOnUse" x1="373.5" y1="209.1" x2="374.4" y2="234.9"><stop offset="0.000" stop-color="#555555"/><stop offset="0.050" stop-color="#555555"/><stop offset="0.075" stop-color="#767676"/><stop offset="0.100" stop-color="#8c8c8c"/><stop offset="0.175" stop-color="#8c8c8c"/><stop offset="0.200" stop-color="#7b7b7b"/><stop offset="0.225" stop-color="#5a5a5a"/><stop offset="0.250" stop-color="#656565"/><stop offset="0.275" stop-color="#929292"/><stop offset="0.350" stop-color="#929292"/><stop offset="0.375" stop-color="#7b7b7b"/><stop offset="0.400" stop-color="#585858"/><stop offset="0.425" stop-color="#686868"/><stop offset="0.450" stop-color="#7f7f7f"/><stop offset="0.500" stop-color="#7b7b7b"/><stop offset="0.550" stop-color="#535353"/><stop offset="0.650" stop-color="#5c5c5c"/><stop offset="0.775" stop-color="#777777"/><stop offset="0.950" stop-color="#4d4d4d"/><stop offset="1.000" stop-color="#4a4a4a"/></linearGradient><linearGradient id="w134" gradientUnits="userSpaceOnUse" x1="379.2" y1="208.9" x2="379.4" y2="234.8"><stop offset="0.000" stop-color="#555555"/><stop offset="0.050" stop-color="#555555"/><stop offset="0.075" stop-color="#767676"/><stop offset="0.100" stop-color="#8c8c8c"/><stop offset="0.175" stop-color="#8c8c8c"/><stop offset="0.200" stop-color="#7b7b7b"/><stop offset="0.225" stop-color="#5a5a5a"/><stop offset="0.250" stop-color="#656565"/><stop offset="0.275" stop-color="#929292"/><stop offset="0.350" stop-color="#929292"/><stop offset="0.375" stop-color="#7b7b7b"/><stop offset="0.400" stop-color="#585858"/><stop offset="0.425" stop-color="#686868"/><stop offset="0.450" stop-color="#7f7f7f"/><stop offset="0.500" stop-color="#7b7b7b"/><stop offset="0.550" stop-color="#535353"/><stop offset="0.650" stop-color="#5c5c5c"/><stop offset="0.775" stop-color="#777777"/><stop offset="0.950" stop-color="#4d4d4d"/><stop offset="1.000" stop-color="#4a4a4a"/></linearGradient><linearGradient id="w135" gradientUnits="userSpaceOnUse" x1="384.8" y1="208.8" x2="384.4" y2="234.9"><stop offset="0.000" stop-color="#555555"/><stop offset="0.050" stop-color="#555555"/><stop offset="0.075" stop-color="#767676"/><stop offset="0.100" stop-color="#8c8c8c"/><stop offset="0.175" stop-color="#8c8c8c"/><stop offset="0.200" stop-color="#7b7b7b"/><stop offset="0.225" stop-color="#5a5a5a"/><stop offset="0.250" stop-color="#656565"/><stop offset="0.275" stop-color="#929292"/><stop offset="0.350" stop-color="#929292"/><stop offset="0.375" stop-color="#7b7b7b"/><stop offset="0.400" stop-color="#585858"/><stop offset="0.425" stop-color="#686868"/><stop offset="0.450" stop-color="#7f7f7f"/><stop offset="0.500" stop-color="#7b7b7b"/><stop offset="0.550" stop-color="#535353"/><stop offset="0.650" stop-color="#5c5c5c"/><stop offset="0.775" stop-color="#777777"/><stop offset="0.950" stop-color="#4d4d4d"/><stop offset="1.000" stop-color="#4a4a4a"/></linearGradient><linearGradient id="w136" gradientUnits="userSpaceOnUse" x1="390.5" y1="208.9" x2="389.4" y2="235.1"><stop offset="0.000" stop-color="#555555"/><stop offset="0.050" stop-color="#555555"/><stop offset="0.075" stop-color="#767676"/><stop offset="0.100" stop-color="#8c8c8c"/><stop offset="0.175" stop-color="#8c8c8c"/><stop offset="0.200" stop-color="#7b7b7b"/><stop offset="0.225" stop-color="#5a5a5a"/><stop offset="0.250" stop-color="#656565"/><stop offset="0.275" stop-color="#929292"/><stop offset="0.350" stop-color="#929292"/><stop offset="0.375" stop-color="#7b7b7b"/><stop offset="0.400" stop-color="#585858"/><stop offset="0.425" stop-color="#686868"/><stop offset="0.450" stop-color="#7f7f7f"/><stop offset="0.500" stop-color="#7b7b7b"/><stop offset="0.550" stop-color="#535353"/><stop offset="0.650" stop-color="#5c5c5c"/><stop offset="0.775" stop-color="#777777"/><stop offset="0.950" stop-color="#4d4d4d"/><stop offset="1.000" stop-color="#4a4a4a"/></linearGradient><linearGradient id="w137" gradientUnits="userSpaceOnUse" x1="396.2" y1="209.2" x2="394.4" y2="235.4"><stop offset="0.000" stop-color="#555555"/><stop offset="0.050" stop-color="#555555"/><stop offset="0.075" stop-color="#767676"/><stop offset="0.100" stop-color="#8c8c8c"/><stop offset="0.175" stop-color="#8c8c8c"/><stop offset="0.200" stop-color="#7b7b7b"/><stop offset="0.225" stop-color="#5a5a5a"/><stop offset="0.250" stop-color="#656565"/><stop offset="0.275" stop-color="#929292"/><stop offset="0.350" stop-color="#929292"/><stop offset="0.375" stop-color="#7b7b7b"/><stop offset="0.400" stop-color="#585858"/><stop offset="0.425" stop-color="#686868"/><stop offset="0.450" stop-color="#7f7f7f"/><stop offset="0.500" stop-color="#7b7b7b"/><stop offset="0.550" stop-color="#535353"/><stop offset="0.650" stop-color="#5c5c5c"/><stop offset="0.775" stop-color="#777777"/><stop offset="0.950" stop-color="#4d4d4d"/><stop offset="1.000" stop-color="#4a4a4a"/></linearGradient><linearGradient id="w138" gradientUnits="userSpaceOnUse" x1="401.9" y1="209.6" x2="399.4" y2="235.9"><stop offset="0.000" stop-color="#555555"/><stop offset="0.050" stop-color="#555555"/><stop offset="0.075" stop-color="#767676"/><stop offset="0.100" stop-color="#8c8c8c"/><stop offset="0.175" stop-color="#8c8c8c"/><stop offset="0.200" stop-color="#7b7b7b"/><stop offset="0.225" stop-color="#5a5a5a"/><stop offset="0.250" stop-color="#656565"/><stop offset="0.275" stop-color="#929292"/><stop offset="0.350" stop-color="#929292"/><stop offset="0.375" stop-color="#7b7b7b"/><stop offset="0.400" stop-color="#585858"/><stop offset="0.425" stop-color="#686868"/><stop offset="0.450" stop-color="#7f7f7f"/><stop offset="0.500" stop-color="#7b7b7b"/><stop offset="0.550" stop-color="#535353"/><stop offset="0.650" stop-color="#5c5c5c"/><stop offset="0.775" stop-color="#777777"/><stop offset="0.950" stop-color="#4d4d4d"/><stop offset="1.000" stop-color="#4a4a4a"/></linearGradient><linearGradient id="w139" gradientUnits="userSpaceOnUse" x1="407.6" y1="210.2" x2="404.4" y2="236.5"><stop offset="0.000" stop-color="#555555"/><stop offset="0.050" stop-color="#555555"/><stop offset="0.075" stop-color="#767676"/><stop offset="0.100" stop-color="#8c8c8c"/><stop offset="0.175" stop-color="#8b8b8b"/><stop offset="0.200" stop-color="#7b7b7b"/><stop offset="0.225" stop-color="#5a5a5a"/><stop offset="0.250" stop-color="#666666"/><stop offset="0.275" stop-color="#929292"/><stop offset="0.350" stop-color="#919191"/><stop offset="0.375" stop-color="#7a7a7a"/><stop offset="0.400" stop-color="#585858"/><stop offset="0.425" stop-color="#686868"/><stop offset="0.450" stop-color="#7f7f7f"/><stop offset="0.500" stop-color="#7a7a7a"/><stop offset="0.550" stop-color="#535353"/><stop offset="0.650" stop-color="#5c5c5c"/><stop offset="0.775" stop-color="#767676"/><stop offset="0.950" stop-color="#4d4d4d"/><stop offset="1.000" stop-color="#4a4a4a"/></linearGradient><linearGradient id="w140" gradientUnits="userSpaceOnUse" x1="413.3" y1="211.0" x2="409.4" y2="237.2"><stop offset="0.000" stop-color="#555555"/><stop offset="0.050" stop-color="#555555"/><stop offset="0.075" stop-color="#787878"/><stop offset="0.100" stop-color="#8d8d8d"/><stop offset="0.150" stop-color="#8d8d8d"/><stop offset="0.175" stop-color="#888888"/><stop offset="0.200" stop-color="#787878"/><stop offset="0.225" stop-color="#5c5c5c"/><stop offset="0.250" stop-color="#696969"/><stop offset="0.275" stop-color="#929292"/><stop offset="0.350" stop-color="#8e8e8e"/><stop offset="0.375" stop-color="#787878"/><stop offset="0.400" stop-color="#585858"/><stop offset="0.425" stop-color="#666666"/><stop offset="0.450" stop-color="#7b7b7b"/><stop offset="0.500" stop-color="#777777"/><stop offset="0.550" stop-color="#535353"/><stop offset="0.650" stop-color="#5b5b5b"/><stop offset="0.775" stop-color="#737373"/><stop offset="0.950" stop-color="#4d4d4d"/><stop offset="1.000" stop-color="#4b4b4b"/></linearGradient><linearGradient id="w141" gradientUnits="userSpaceOnUse" x1="419.0" y1="211.9" x2="414.4" y2="238.1"><stop offset="0.000" stop-color="#545454"/><stop offset="0.050" stop-color="#545454"/><stop offset="0.075" stop-color="#7a7a7a"/><stop offset="0.100" stop-color="#8e8e8e"/><stop offset="0.150" stop-color="#8e8e8e"/><stop offset="0.200" stop-color="#727272"/><stop offset="0.225" stop-color="#606060"/><stop offset="0.250" stop-color="#6f6f6f"/><stop offset="0.275" stop-color="#919191"/><stop offset="0.325" stop-color="#8f8f8f"/><stop offset="0.350" stop-color="#888888"/><stop offset="0.375" stop-color="#737373"/><stop offset="0.400" stop-color="#585858"/><stop offset="0.425" stop-color="#646464"/><stop offset="0.450" stop-color="#767676"/><stop offset="0.500" stop-color="#727272"/><stop offset="0.550" stop-color="#535353"/><stop offset="0.650" stop-color="#595959"/><stop offset="0.775" stop-color="#6d6d6d"/><stop offset="0.950" stop-color="#4d4d4d"/><stop offset="1.000" stop-color="#4c4c4c"/></linearGradient><linearGradient id="w142" gradientUnits="userSpaceOnUse" x1="424.6" y1="213.0" x2="419.4" y2="239.0"><stop offset="0.000" stop-color="#545454"/><stop offset="0.050" stop-color="#535353"/><stop offset="0.075" stop-color="#7e7e7e"/><stop offset="0.100" stop-color="#8f8f8f"/><stop offset="0.150" stop-color="#8f8f8f"/><stop offset="0.175" stop-color="#7a7a7a"/><stop offset="0.200" stop-color="#6b6b6b"/><stop offset="0.225" stop-color="#646464"/><stop offset="0.250" stop-color="#777777"/><stop offset="0.275" stop-color="#919191"/><stop offset="0.325" stop-color="#8d8d8d"/><stop offset="0.350" stop-color="#808080"/><stop offset="0.400" stop-color="#585858"/><stop offset="0.425" stop-color="#616161"/><stop offset="0.450" stop-color="#6f6f6f"/><stop offset="0.500" stop-color="#6b6b6b"/><stop offset="0.550" stop-color="#535353"/><stop offset="0.675" stop-color="#5a5a5a"/><stop offset="0.775" stop-color="#656565"/><stop offset="0.925" stop-color="#4e4e4e"/><stop offset="1.000" stop-color="#4d4d4d"/></linearGradient><linearGradient id="w143" gradientUnits="userSpaceOnUse" x1="430.2" y1="214.2" x2="424.4" y2="240.1"><stop offset="0.000" stop-color="#535353"/><stop offset="0.050" stop-color="#525252"/><stop offset="0.075" stop-color="#818181"/><stop offset="0.100" stop-color="#919191"/><stop offset="0.150" stop-color="#919191"/><stop offset="0.175" stop-color="#717171"/><stop offset="0.200" stop-color="#646464"/><stop offset="0.225" stop-color="#686868"/><stop offset="0.250" stop-color="#7f7f7f"/><stop offset="0.275" stop-color="#909090"/><stop offset="0.325" stop-color="#8b8b8b"/><stop offset="0.375" stop-color="#666666"/><stop offset="0.400" stop-color="#585858"/><stop offset="0.450" stop-color="#676767"/><stop offset="0.500" stop-color="#646464"/><stop offset="0.550" stop-color="#535353"/><stop offset="0.700" stop-color="#585858"/><stop offset="0.775" stop-color="#5d5d5d"/><stop offset="0.925" stop-color="#4c4c4c"/><stop offset="1.000" stop-color="#4f4f4f"/></linearGradient><linearGradient id="w144" gradientUnits="userSpaceOnUse" x1="435.9" y1="215.6" x2="429.5" y2="241.3"><stop offset="0.000" stop-color="#535353"/><stop offset="0.050" stop-color="#515151"/><stop offset="0.075" stop-color="#858585"/><stop offset="0.100" stop-color="#939393"/><stop offset="0.150" stop-color="#939393"/><stop offset="0.175" stop-color="#696969"/><stop offset="0.200" stop-color="#5d5d5d"/><stop offset="0.225" stop-color="#6d6d6d"/><stop offset="0.250" stop-color="#868686"/><stop offset="0.275" stop-color="#909090"/><stop offset="0.300" stop-color="#8f8f8f"/><stop offset="0.325" stop-color="#898989"/><stop offset="0.350" stop-color="#707070"/><stop offset="0.375" stop-color="#606060"/><stop offset="0.400" stop-color="#585858"/><stop offset="0.450" stop-color="#606060"/><stop offset="0.500" stop-color="#5e5e5e"/><stop offset="0.550" stop-color="#535353"/><stop offset="0.800" stop-color="#545454"/><stop offset="0.925" stop-color="#4a4a4a"/><stop offset="1.000" stop-color="#505050"/></linearGradient><linearGradient id="w145" gradientUnits="userSpaceOnUse" x1="441.5" y1="217.1" x2="434.5" y2="242.6"><stop offset="0.000" stop-color="#525252"/><stop offset="0.050" stop-color="#505050"/><stop offset="0.075" stop-color="#878787"/><stop offset="0.100" stop-color="#949494"/><stop offset="0.150" stop-color="#949494"/><stop offset="0.175" stop-color="#636363"/><stop offset="0.200" stop-color="#585858"/><stop offset="0.250" stop-color="#8c8c8c"/><stop offset="0.275" stop-color="#8f8f8f"/><stop offset="0.300" stop-color="#8e8e8e"/><stop offset="0.325" stop-color="#878787"/><stop offset="0.350" stop-color="#696969"/><stop offset="0.375" stop-color="#5b5b5b"/><stop offset="0.425" stop-color="#595959"/><stop offset="0.500" stop-color="#585858"/><stop offset="0.575" stop-color="#525252"/><stop offset="0.875" stop-color="#4b4b4b"/><stop offset="0.925" stop-color="#494949"/><stop offset="1.000" stop-color="#515151"/></linearGradient><linearGradient id="w146" gradientUnits="userSpaceOnUse" x1="447.0" y1="218.8" x2="439.5" y2="244.0"><stop offset="0.000" stop-color="#525252"/><stop offset="0.050" stop-color="#505050"/><stop offset="0.075" stop-color="#898989"/><stop offset="0.100" stop-color="#949494"/><stop offset="0.150" stop-color="#949494"/><stop offset="0.175" stop-color="#5f5f5f"/><stop offset="0.200" stop-color="#545454"/><stop offset="0.250" stop-color="#909090"/><stop offset="0.300" stop-color="#8e8e8e"/><stop offset="0.325" stop-color="#868686"/><stop offset="0.350" stop-color="#666666"/><stop offset="0.375" stop-color="#595959"/><stop offset="0.925" stop-color="#484848"/><stop offset="1.000" stop-color="#525252"/></linearGradient><linearGradient id="w147" gradientUnits="userSpaceOnUse" x1="452.6" y1="220.6" x2="444.5" y2="245.5"><stop offset="0.000" stop-color="#525252"/><stop offset="0.050" stop-color="#505050"/><stop offset="0.075" stop-color="#898989"/><stop offset="0.100" stop-color="#949494"/><stop offset="0.150" stop-color="#949494"/><stop offset="0.175" stop-color="#5f5f5f"/><stop offset="0.200" stop-color="#545454"/><stop offset="0.250" stop-color="#909090"/><stop offset="0.300" stop-color="#8d8d8d"/><stop offset="0.325" stop-color="#868686"/><stop offset="0.350" stop-color="#656565"/><stop offset="0.375" stop-color="#595959"/><stop offset="0.925" stop-color="#484848"/><stop offset="1.000" stop-color="#525252"/></linearGradient><linearGradient id="w148" gradientUnits="userSpaceOnUse" x1="458.1" y1="222.6" x2="449.6" y2="247.2"><stop offset="0.000" stop-color="#525252"/><stop offset="0.050" stop-color="#505050"/><stop offset="0.075" stop-color="#898989"/><stop offset="0.100" stop-color="#949494"/><stop offset="0.150" stop-color="#949494"/><stop offset="0.175" stop-color="#5f5f5f"/><stop offset="0.200" stop-color="#545454"/><stop offset="0.250" stop-color="#909090"/><stop offset="0.300" stop-color="#8d8d8d"/><stop offset="0.325" stop-color="#868686"/><stop offset="0.350" stop-color="#666666"/><stop offset="0.375" stop-color="#5a5a5a"/><stop offset="0.925" stop-color="#484848"/><stop offset="1.000" stop-color="#525252"/></linearGradient><linearGradient id="w149" gradientUnits="userSpaceOnUse" x1="463.6" y1="224.7" x2="454.6" y2="248.9"><stop offset="0.000" stop-color="#525252"/><stop offset="0.050" stop-color="#505050"/><stop offset="0.075" stop-color="#888888"/><stop offset="0.100" stop-color="#949494"/><stop offset="0.150" stop-color="#949494"/><stop offset="0.175" stop-color="#5f5f5f"/><stop offset="0.200" stop-color="#545454"/><stop offset="0.250" stop-color="#8f8f8f"/><stop offset="0.300" stop-color="#8d8d8d"/><stop offset="0.325" stop-color="#858585"/><stop offset="0.350" stop-color="#666666"/><stop offset="0.375" stop-color="#5a5a5a"/><stop offset="0.475" stop-color="#595959"/><stop offset="0.925" stop-color="#484848"/><stop offset="1.000" stop-color="#525252"/></linearGradient><linearGradient id="w150" gradientUnits="userSpaceOnUse" x1="469.1" y1="227.0" x2="459.6" y2="250.8"><stop offset="0.000" stop-color="#525252"/><stop offset="0.050" stop-color="#505050"/><stop offset="0.075" stop-color="#888888"/><stop offset="0.100" stop-color="#939393"/><stop offset="0.150" stop-color="#939393"/><stop offset="0.175" stop-color="#5f5f5f"/><stop offset="0.200" stop-color="#545454"/><stop offset="0.250" stop-color="#8f8f8f"/><stop offset="0.300" stop-color="#8c8c8c"/><stop offset="0.325" stop-color="#858585"/><stop offset="0.350" stop-color="#666666"/><stop offset="0.375" stop-color="#5b5b5b"/><stop offset="0.425" stop-color="#5c5c5c"/><stop offset="0.925" stop-color="#484848"/><stop offset="1.000" stop-color="#525252"/></linearGradient><linearGradient id="w151" gradientUnits="userSpaceOnUse" x1="474.6" y1="229.5" x2="464.6" y2="252.8"><stop offset="0.000" stop-color="#525252"/><stop offset="0.050" stop-color="#505050"/><stop offset="0.075" stop-color="#888888"/><stop offset="0.100" stop-color="#939393"/><stop offset="0.150" stop-color="#939393"/><stop offset="0.175" stop-color="#5e5e5e"/><stop offset="0.200" stop-color="#545454"/><stop offset="0.250" stop-color="#8e8e8e"/><stop offset="0.300" stop-color="#8c8c8c"/><stop offset="0.325" stop-color="#858585"/><stop offset="0.350" stop-color="#676767"/><stop offset="0.375" stop-color="#5c5c5c"/><stop offset="0.425" stop-color="#5e5e5e"/><stop offset="0.925" stop-color="#484848"/><stop offset="1.000" stop-color="#525252"/></linearGradient><linearGradient id="w152" gradientUnits="userSpaceOnUse" x1="480.0" y1="232.1" x2="469.6" y2="254.9"><stop offset="0.000" stop-color="#525252"/><stop offset="0.050" stop-color="#505050"/><stop offset="0.075" stop-color="#888888"/><stop offset="0.100" stop-color="#939393"/><stop offset="0.150" stop-color="#939393"/><stop offset="0.175" stop-color="#5e5e5e"/><stop offset="0.200" stop-color="#545454"/><stop offset="0.250" stop-color="#8e8e8e"/><stop offset="0.300" stop-color="#8c8c8c"/><stop offset="0.325" stop-color="#858585"/><stop offset="0.350" stop-color="#676767"/><stop offset="0.375" stop-color="#5d5d5d"/><stop offset="0.400" stop-color="#606060"/><stop offset="0.900" stop-color="#494949"/><stop offset="0.950" stop-color="#4b4b4b"/><stop offset="1.000" stop-color="#525252"/></linearGradient><linearGradient id="w153" gradientUnits="userSpaceOnUse" x1="485.4" y1="234.8" x2="474.6" y2="257.1"><stop offset="0.000" stop-color="#525252"/><stop offset="0.050" stop-color="#505050"/><stop offset="0.075" stop-color="#878787"/><stop offset="0.100" stop-color="#929292"/><stop offset="0.150" stop-color="#929292"/><stop offset="0.175" stop-color="#5e5e5e"/><stop offset="0.200" stop-color="#545454"/><stop offset="0.250" stop-color="#8e8e8e"/><stop offset="0.300" stop-color="#8b8b8b"/><stop offset="0.325" stop-color="#848484"/><stop offset="0.350" stop-color="#676767"/><stop offset="0.375" stop-color="#5e5e5e"/><stop offset="0.400" stop-color="#626262"/><stop offset="0.900" stop-color="#494949"/><stop offset="0.950" stop-color="#4b4b4b"/><stop offset="1.000" stop-color="#525252"/></linearGradient><linearGradient id="w154" gradientUnits="userSpaceOnUse" x1="490.7" y1="237.8" x2="479.6" y2="259.4"><stop offset="0.000" stop-color="#525252"/><stop offset="0.050" stop-color="#505050"/><stop offset="0.075" stop-color="#878787"/><stop offset="0.100" stop-color="#929292"/><stop offset="0.150" stop-color="#929292"/><stop offset="0.175" stop-color="#5e5e5e"/><stop offset="0.200" stop-color="#545454"/><stop offset="0.250" stop-color="#8e8e8e"/><stop offset="0.300" stop-color="#8b8b8b"/><stop offset="0.325" stop-color="#848484"/><stop offset="0.350" stop-color="#676767"/><stop offset="0.375" stop-color="#5f5f5f"/><stop offset="0.400" stop-color="#636363"/><stop offset="0.900" stop-color="#494949"/><stop offset="0.950" stop-color="#4b4b4b"/><stop offset="1.000" stop-color="#525252"/></linearGradient><linearGradient id="w155" gradientUnits="userSpaceOnUse" x1="496.0" y1="240.9" x2="484.6" y2="261.9"><stop offset="0.000" stop-color="#525252"/><stop offset="0.050" stop-color="#505050"/><stop offset="0.075" stop-color="#878787"/><stop offset="0.100" stop-color="#929292"/><stop offset="0.150" stop-color="#929292"/><stop offset="0.175" stop-color="#5e5e5e"/><stop offset="0.200" stop-color="#545454"/><stop offset="0.250" stop-color="#8d8d8d"/><stop offset="0.300" stop-color="#8b8b8b"/><stop offset="0.325" stop-color="#848484"/><stop offset="0.350" stop-color="#686868"/><stop offset="0.375" stop-color="#5f5f5f"/><stop offset="0.400" stop-color="#646464"/><stop offset="0.900" stop-color="#494949"/><stop offset="0.950" stop-color="#4b4b4b"/><stop offset="1.000" stop-color="#525252"/></linearGradient><linearGradient id="w156" gradientUnits="userSpaceOnUse" x1="501.3" y1="244.1" x2="489.5" y2="264.5"><stop offset="0.000" stop-color="#525252"/><stop offset="0.050" stop-color="#505050"/><stop offset="0.075" stop-color="#868686"/><stop offset="0.100" stop-color="#919191"/><stop offset="0.150" stop-color="#919191"/><stop offset="0.175" stop-color="#5e5e5e"/><stop offset="0.200" stop-color="#545454"/><stop offset="0.250" stop-color="#8d8d8d"/><stop offset="0.300" stop-color="#8a8a8a"/><stop offset="0.325" stop-color="#848484"/><stop offset="0.350" stop-color="#686868"/><stop offset="0.375" stop-color="#606060"/><stop offset="0.400" stop-color="#666666"/><stop offset="0.875" stop-color="#4a4a4a"/><stop offset="0.925" stop-color="#484848"/><stop offset="1.000" stop-color="#525252"/></linearGradient><linearGradient id="w157" gradientUnits="userSpaceOnUse" x1="506.5" y1="247.5" x2="494.4" y2="267.2"><stop offset="0.000" stop-color="#525252"/><stop offset="0.050" stop-color="#505050"/><stop offset="0.075" stop-color="#868686"/><stop offset="0.100" stop-color="#919191"/><stop offset="0.150" stop-color="#919191"/><stop offset="0.175" stop-color="#5e5e5e"/><stop offset="0.200" stop-color="#545454"/><stop offset="0.250" stop-color="#8c8c8c"/><stop offset="0.300" stop-color="#8a8a8a"/><stop offset="0.325" stop-color="#848484"/><stop offset="0.350" stop-color="#686868"/><stop offset="0.375" stop-color="#616161"/><stop offset="0.400" stop-color="#676767"/><stop offset="0.875" stop-color="#4b4b4b"/><stop offset="0.925" stop-color="#484848"/><stop offset="1.000" stop-color="#525252"/></linearGradient><linearGradient id="w158" gradientUnits="userSpaceOnUse" x1="511.6" y1="251.1" x2="499.3" y2="270.1"><stop offset="0.000" stop-color="#525252"/><stop offset="0.050" stop-color="#505050"/><stop offset="0.075" stop-color="#868686"/><stop offset="0.100" stop-color="#919191"/><stop offset="0.150" stop-color="#919191"/><stop offset="0.175" stop-color="#5e5e5e"/><stop offset="0.200" stop-color="#545454"/><stop offset="0.250" stop-color="#8c8c8c"/><stop offset="0.300" stop-color="#8a8a8a"/><stop offset="0.325" stop-color="#838383"/><stop offset="0.350" stop-color="#696969"/><stop offset="0.375" stop-color="#626262"/><stop offset="0.400" stop-color="#696969"/><stop offset="0.875" stop-color="#4b4b4b"/><stop offset="0.925" stop-color="#484848"/><stop offset="1.000" stop-color="#525252"/></linearGradient><linearGradient id="w159" gradientUnits="userSpaceOnUse" x1="516.7" y1="254.9" x2="504.1" y2="273.1"><stop offset="0.000" stop-color="#525252"/><stop offset="0.050" stop-color="#505050"/><stop offset="0.075" stop-color="#868686"/><stop offset="0.100" stop-color="#909090"/><stop offset="0.150" stop-color="#909090"/><stop offset="0.175" stop-color="#5e5e5e"/><stop offset="0.200" stop-color="#545454"/><stop offset="0.250" stop-color="#8c8c8c"/><stop offset="0.300" stop-color="#898989"/><stop offset="0.325" stop-color="#838383"/><stop offset="0.350" stop-color="#696969"/><stop offset="0.375" stop-color="#636363"/><stop offset="0.400" stop-color="#6a6a6a"/><stop offset="0.875" stop-color="#4b4b4b"/><stop offset="0.925" stop-color="#484848"/><stop offset="1.000" stop-color="#525252"/></linearGradient><linearGradient id="w160" gradientUnits="userSpaceOnUse" x1="521.7" y1="258.9" x2="508.9" y2="276.3"><stop offset="0.000" stop-color="#525252"/><stop offset="0.050" stop-color="#505050"/><stop offset="0.075" stop-color="#858585"/><stop offset="0.100" stop-color="#909090"/><stop offset="0.150" stop-color="#909090"/><stop offset="0.175" stop-color="#5e5e5e"/><stop offset="0.200" stop-color="#545454"/><stop offset="0.250" stop-color="#8c8c8c"/><stop offset="0.300" stop-color="#898989"/><stop offset="0.325" stop-color="#838383"/><stop offset="0.350" stop-color="#696969"/><stop offset="0.375" stop-color="#646464"/><stop offset="0.400" stop-color="#6c6c6c"/><stop offset="0.875" stop-color="#4b4b4b"/><stop offset="0.925" stop-color="#484848"/><stop offset="1.000" stop-color="#525252"/></linearGradient><linearGradient id="w161" gradientUnits="userSpaceOnUse" x1="526.6" y1="263.1" x2="513.6" y2="279.7"><stop offset="0.000" stop-color="#525252"/><stop offset="0.050" stop-color="#505050"/><stop offset="0.075" stop-color="#858585"/><stop offset="0.100" stop-color="#909090"/><stop offset="0.150" stop-color="#909090"/><stop offset="0.175" stop-color="#5e5e5e"/><stop offset="0.200" stop-color="#545454"/><stop offset="0.250" stop-color="#8b8b8b"/><stop offset="0.300" stop-color="#898989"/><stop offset="0.325" stop-color="#838383"/><stop offset="0.350" stop-color="#6a6a6a"/><stop offset="0.375" stop-color="#656565"/><stop offset="0.400" stop-color="#6d6d6d"/><stop offset="0.850" stop-color="#4c4c4c"/><stop offset="0.925" stop-color="#484848"/><stop offset="1.000" stop-color="#525252"/></linearGradient><linearGradient id="w162" gradientUnits="userSpaceOnUse" x1="531.4" y1="267.4" x2="518.2" y2="283.2"><stop offset="0.000" stop-color="#525252"/><stop offset="0.050" stop-color="#505050"/><stop offset="0.075" stop-color="#858585"/><stop offset="0.100" stop-color="#8f8f8f"/><stop offset="0.150" stop-color="#8f8f8f"/><stop offset="0.175" stop-color="#5e5e5e"/><stop offset="0.200" stop-color="#545454"/><stop offset="0.250" stop-color="#8b8b8b"/><stop offset="0.300" stop-color="#888888"/><stop offset="0.325" stop-color="#828282"/><stop offset="0.350" stop-color="#6a6a6a"/><stop offset="0.375" stop-color="#656565"/><stop offset="0.400" stop-color="#6e6e6e"/><stop offset="0.850" stop-color="#4d4d4d"/><stop offset="0.925" stop-color="#484848"/><stop offset="1.000" stop-color="#525252"/></linearGradient><linearGradient id="w163" gradientUnits="userSpaceOnUse" x1="536.1" y1="271.9" x2="522.7" y2="286.9"><stop offset="0.000" stop-color="#525252"/><stop offset="0.050" stop-color="#505050"/><stop offset="0.075" stop-color="#848484"/><stop offset="0.100" stop-color="#8f8f8f"/><stop offset="0.150" stop-color="#8f8f8f"/><stop offset="0.175" stop-color="#5e5e5e"/><stop offset="0.200" stop-color="#545454"/><stop offset="0.250" stop-color="#8a8a8a"/><stop offset="0.300" stop-color="#888888"/><stop offset="0.325" stop-color="#828282"/><stop offset="0.350" stop-color="#6a6a6a"/><stop offset="0.375" stop-color="#666666"/><stop offset="0.400" stop-color="#707070"/><stop offset="0.850" stop-color="#4d4d4d"/><stop offset="0.925" stop-color="#484848"/><stop offset="1.000" stop-color="#525252"/></linearGradient><linearGradient id="w164" gradientUnits="userSpaceOnUse" x1="540.6" y1="276.7" x2="527.1" y2="290.7"><stop offset="0.000" stop-color="#545454"/><stop offset="0.050" stop-color="#535353"/><stop offset="0.075" stop-color="#848484"/><stop offset="0.100" stop-color="#909090"/><stop offset="0.150" stop-color="#919191"/><stop offset="0.175" stop-color="#636363"/><stop offset="0.200" stop-color="#595959"/><stop offset="0.250" stop-color="#8d8d8d"/><stop offset="0.300" stop-color="#8a8a8a"/><stop offset="0.325" stop-color="#858585"/><stop offset="0.350" stop-color="#6e6e6e"/><stop offset="0.375" stop-color="#6b6b6b"/><stop offset="0.400" stop-color="#747474"/><stop offset="0.925" stop-color="#494949"/><stop offset="1.000" stop-color="#525252"/></linearGradient><linearGradient id="w165" gradientUnits="userSpaceOnUse" x1="545.1" y1="281.6" x2="531.4" y2="294.8"><stop offset="0.000" stop-color="#606060"/><stop offset="0.050" stop-color="#626262"/><stop offset="0.075" stop-color="#858585"/><stop offset="0.100" stop-color="#989898"/><stop offset="0.125" stop-color="#9d9d9d"/><stop offset="0.150" stop-color="#9d9d9d"/><stop offset="0.175" stop-color="#808080"/><stop offset="0.200" stop-color="#7a7a7a"/><stop offset="0.250" stop-color="#9b9b9b"/><stop offset="0.325" stop-color="#969696"/><stop offset="0.350" stop-color="#878787"/><stop offset="0.375" stop-color="#858585"/><stop offset="0.400" stop-color="#8b8b8b"/><stop offset="0.700" stop-color="#7c7c7c"/><stop offset="0.750" stop-color="#6d6d6d"/><stop offset="0.775" stop-color="#646464"/><stop offset="0.900" stop-color="#5b5b5b"/><stop offset="0.925" stop-color="#4e4e4e"/><stop offset="0.950" stop-color="#474747"/><stop offset="1.000" stop-color="#505050"/></linearGradient><linearGradient id="w166" gradientUnits="userSpaceOnUse" x1="549.4" y1="286.7" x2="535.5" y2="299.0"><stop offset="0.000" stop-color="#6f6f6f"/><stop offset="0.050" stop-color="#747474"/><stop offset="0.075" stop-color="#868686"/><stop offset="0.100" stop-color="#a2a2a2"/><stop offset="0.125" stop-color="#adadad"/><stop offset="0.150" stop-color="#adadad"/><stop offset="0.175" stop-color="#a3a3a3"/><stop offset="0.200" stop-color="#a1a1a1"/><stop offset="0.250" stop-color="#acacac"/><stop offset="0.325" stop-color="#aaaaaa"/><stop offset="0.375" stop-color="#a5a5a5"/><stop offset="0.550" stop-color="#a4a4a4"/><stop offset="0.700" stop-color="#a2a2a2"/><stop offset="0.725" stop-color="#999999"/><stop offset="0.775" stop-color="#787878"/><stop offset="0.800" stop-color="#727272"/><stop offset="0.900" stop-color="#6d6d6d"/><stop offset="0.925" stop-color="#555555"/><stop offset="0.950" stop-color="#444444"/><stop offset="0.975" stop-color="#454545"/><stop offset="1.000" stop-color="#4f4f4f"/></linearGradient><linearGradient id="w167" gradientUnits="userSpaceOnUse" x1="553.5" y1="292.0" x2="539.5" y2="303.5"><stop offset="0.000" stop-color="#767676"/><stop offset="0.050" stop-color="#7d7d7d"/><stop offset="0.075" stop-color="#868686"/><stop offset="0.100" stop-color="#a7a7a7"/><stop offset="0.125" stop-color="#b4b4b4"/><stop offset="0.700" stop-color="#b4b4b4"/><stop offset="0.725" stop-color="#a9a9a9"/><stop offset="0.775" stop-color="#818181"/><stop offset="0.800" stop-color="#7b7b7b"/><stop offset="0.900" stop-color="#767676"/><stop offset="0.925" stop-color="#585858"/><stop offset="0.950" stop-color="#424242"/><stop offset="0.975" stop-color="#434343"/><stop offset="1.000" stop-color="#4e4e4e"/></linearGradient><linearGradient id="w168" gradientUnits="userSpaceOnUse" x1="557.4" y1="297.5" x2="543.3" y2="308.1"><stop offset="0.000" stop-color="#767676"/><stop offset="0.050" stop-color="#7d7d7d"/><stop offset="0.075" stop-color="#888888"/><stop offset="0.100" stop-color="#aeaeae"/><stop offset="0.125" stop-color="#bebebe"/><stop offset="0.650" stop-color="#bebebe"/><stop offset="0.675" stop-color="#b4b4b4"/><stop offset="0.725" stop-color="#848484"/><stop offset="0.750" stop-color="#7b7b7b"/><stop offset="0.875" stop-color="#747474"/><stop offset="0.900" stop-color="#545454"/><stop offset="0.925" stop-color="#424242"/><stop offset="0.950" stop-color="#454545"/><stop offset="0.975" stop-color="#4f4f4f"/><stop offset="1.000" stop-color="#545454"/></linearGradient><linearGradient id="w169" gradientUnits="userSpaceOnUse" x1="561.2" y1="303.2" x2="546.8" y2="313.0"><stop offset="0.000" stop-color="#767676"/><stop offset="0.050" stop-color="#7d7d7d"/><stop offset="0.075" stop-color="#888888"/><stop offset="0.100" stop-color="#b3b3b3"/><stop offset="0.125" stop-color="#c4c4c4"/><stop offset="0.600" stop-color="#c4c4c4"/><stop offset="0.625" stop-color="#bababa"/><stop offset="0.675" stop-color="#868686"/><stop offset="0.700" stop-color="#7a7a7a"/><stop offset="0.825" stop-color="#767676"/><stop offset="0.850" stop-color="#6d6d6d"/><stop offset="0.875" stop-color="#4d4d4d"/><stop offset="0.900" stop-color="#424242"/><stop offset="0.925" stop-color="#464646"/><stop offset="0.975" stop-color="#585858"/><stop offset="1.000" stop-color="#545454"/></linearGradient><linearGradient id="w170" gradientUnits="userSpaceOnUse" x1="564.7" y1="309.1" x2="550.1" y2="318.0"><stop offset="0.000" stop-color="#767676"/><stop offset="0.050" stop-color="#7d7d7d"/><stop offset="0.075" stop-color="#898989"/><stop offset="0.100" stop-color="#b4b4b4"/><stop offset="0.125" stop-color="#c6c6c6"/><stop offset="0.550" stop-color="#c6c6c6"/><stop offset="0.575" stop-color="#bebebe"/><stop offset="0.625" stop-color="#888888"/><stop offset="0.650" stop-color="#7a7a7a"/><stop offset="0.800" stop-color="#757575"/><stop offset="0.825" stop-color="#646464"/><stop offset="0.850" stop-color="#454545"/><stop offset="0.875" stop-color="#424242"/><stop offset="0.925" stop-color="#535353"/><stop offset="0.975" stop-color="#595959"/><stop offset="1.000" stop-color="#545454"/></linearGradient><linearGradient id="w171" gradientUnits="userSpaceOnUse" x1="568.0" y1="315.1" x2="553.1" y2="323.3"><stop offset="0.000" stop-color="#767676"/><stop offset="0.050" stop-color="#7d7d7d"/><stop offset="0.075" stop-color="#898989"/><stop offset="0.100" stop-color="#b5b5b5"/><stop offset="0.125" stop-color="#c7c7c7"/><stop offset="0.500" stop-color="#c7c7c7"/><stop offset="0.525" stop-color="#c2c2c2"/><stop offset="0.575" stop-color="#8b8b8b"/><stop offset="0.600" stop-color="#7a7a7a"/><stop offset="0.775" stop-color="#747474"/><stop offset="0.825" stop-color="#424242"/><stop offset="0.850" stop-color="#424242"/><stop offset="0.900" stop-color="#565656"/><stop offset="0.975" stop-color="#595959"/><stop offset="1.000" stop-color="#545454"/></linearGradient><linearGradient id="w172" gradientUnits="userSpaceOnUse" x1="571.1" y1="321.3" x2="555.8" y2="328.7"><stop offset="0.000" stop-color="#767676"/><stop offset="0.050" stop-color="#7d7d7d"/><stop offset="0.075" stop-color="#898989"/><stop offset="0.100" stop-color="#b7b7b7"/><stop offset="0.125" stop-color="#c9c9c9"/><stop offset="0.475" stop-color="#c9c9c9"/><stop offset="0.500" stop-color="#b9b9b9"/><stop offset="0.550" stop-color="#808080"/><stop offset="0.575" stop-color="#797979"/><stop offset="0.750" stop-color="#747474"/><stop offset="0.775" stop-color="#565656"/><stop offset="0.800" stop-color="#424242"/><stop offset="0.825" stop-color="#434343"/><stop offset="0.875" stop-color="#565656"/><stop offset="0.975" stop-color="#595959"/><stop offset="1.000" stop-color="#545454"/></linearGradient><linearGradient id="w173" gradientUnits="userSpaceOnUse" x1="573.9" y1="327.7" x2="558.2" y2="334.2"><stop offset="0.000" stop-color="#767676"/><stop offset="0.050" stop-color="#7d7d7d"/><stop offset="0.075" stop-color="#898989"/><stop offset="0.100" stop-color="#b8b8b8"/><stop offset="0.125" stop-color="#cbcbcb"/><stop offset="0.450" stop-color="#cbcbcb"/><stop offset="0.500" stop-color="#929292"/><stop offset="0.525" stop-color="#797979"/><stop offset="0.700" stop-color="#747474"/><stop offset="0.725" stop-color="#717171"/><stop offset="0.750" stop-color="#525252"/><stop offset="0.775" stop-color="#424242"/><stop offset="0.800" stop-color="#454545"/><stop offset="0.850" stop-color="#565656"/><stop offset="0.975" stop-color="#5a5a5a"/><stop offset="1.000" stop-color="#545454"/></linearGradient><linearGradient id="w174" gradientUnits="userSpaceOnUse" x1="576.4" y1="334.2" x2="560.1" y2="339.9"><stop offset="0.000" stop-color="#767676"/><stop offset="0.050" stop-color="#7d7d7d"/><stop offset="0.075" stop-color="#8a8a8a"/><stop offset="0.100" stop-color="#b9b9b9"/><stop offset="0.125" stop-color="#cccccc"/><stop offset="0.400" stop-color="#cccccc"/><stop offset="0.425" stop-color="#c3c3c3"/><stop offset="0.475" stop-color="#888888"/><stop offset="0.500" stop-color="#797979"/><stop offset="0.675" stop-color="#747474"/><stop offset="0.700" stop-color="#6c6c6c"/><stop offset="0.725" stop-color="#4d4d4d"/><stop offset="0.750" stop-color="#424242"/><stop offset="0.775" stop-color="#464646"/><stop offset="0.800" stop-color="#505050"/><stop offset="0.825" stop-color="#565656"/><stop offset="0.975" stop-color="#5a5a5a"/><stop offset="1.000" stop-color="#545454"/></linearGradient><linearGradient id="w175" gradientUnits="userSpaceOnUse" x1="578.6" y1="340.9" x2="561.7" y2="345.7"><stop offset="0.000" stop-color="#767676"/><stop offset="0.050" stop-color="#7d7d7d"/><stop offset="0.075" stop-color="#8a8a8a"/><stop offset="0.100" stop-color="#bbbbbb"/><stop offset="0.125" stop-color="#cecece"/><stop offset="0.375" stop-color="#cecece"/><stop offset="0.400" stop-color="#c2c2c2"/><stop offset="0.450" stop-color="#858585"/><stop offset="0.475" stop-color="#787878"/><stop offset="0.650" stop-color="#737373"/><stop offset="0.675" stop-color="#6a6a6a"/><stop offset="0.700" stop-color="#4b4b4b"/><stop offset="0.725" stop-color="#424242"/><stop offset="0.800" stop-color="#565656"/><stop offset="0.975" stop-color="#5a5a5a"/><stop offset="1.000" stop-color="#545454"/></linearGradient><linearGradient id="w176" gradientUnits="userSpaceOnUse" x1="580.5" y1="347.6" x2="562.9" y2="351.6"><stop offset="0.000" stop-color="#767676"/><stop offset="0.050" stop-color="#7d7d7d"/><stop offset="0.075" stop-color="#8a8a8a"/><stop offset="0.100" stop-color="#bcbcbc"/><stop offset="0.125" stop-color="#d0d0d0"/><stop offset="0.350" stop-color="#d0d0d0"/><stop offset="0.375" stop-color="#cacaca"/><stop offset="0.425" stop-color="#8b8b8b"/><stop offset="0.450" stop-color="#787878"/><stop offset="0.625" stop-color="#737373"/><stop offset="0.650" stop-color="#696969"/><stop offset="0.675" stop-color="#4b4b4b"/><stop offset="0.700" stop-color="#424242"/><stop offset="0.775" stop-color="#565656"/><stop offset="0.975" stop-color="#5a5a5a"/><stop offset="1.000" stop-color="#545454"/></linearGradient><linearGradient id="w177" gradientUnits="userSpaceOnUse" x1="582.1" y1="354.5" x2="563.6" y2="357.4"><stop offset="0.000" stop-color="#767676"/><stop offset="0.050" stop-color="#7d7d7d"/><stop offset="0.075" stop-color="#8a8a8a"/><stop offset="0.100" stop-color="#bdbdbd"/><stop offset="0.125" stop-color="#d2d2d2"/><stop offset="0.350" stop-color="#d2d2d2"/><stop offset="0.400" stop-color="#929292"/><stop offset="0.425" stop-color="#787878"/><stop offset="0.600" stop-color="#737373"/><stop offset="0.625" stop-color="#696969"/><stop offset="0.650" stop-color="#4b4b4b"/><stop offset="0.675" stop-color="#424242"/><stop offset="0.750" stop-color="#565656"/><stop offset="0.975" stop-color="#5a5a5a"/><stop offset="1.000" stop-color="#545454"/></linearGradient><linearGradient id="w178" gradientUnits="userSpaceOnUse" x1="583.4" y1="361.4" x2="564.0" y2="363.3"><stop offset="0.000" stop-color="#767676"/><stop offset="0.050" stop-color="#7d7d7d"/><stop offset="0.075" stop-color="#8a8a8a"/><stop offset="0.100" stop-color="#bfbfbf"/><stop offset="0.125" stop-color="#d3d3d3"/><stop offset="0.325" stop-color="#d3d3d3"/><stop offset="0.350" stop-color="#b9b9b9"/><stop offset="0.400" stop-color="#787878"/><stop offset="0.575" stop-color="#727272"/><stop offset="0.600" stop-color="#696969"/><stop offset="0.625" stop-color="#4b4b4b"/><stop offset="0.650" stop-color="#424242"/><stop offset="0.725" stop-color="#565656"/><stop offset="0.975" stop-color="#5a5a5a"/><stop offset="1.000" stop-color="#545454"/></linearGradient><linearGradient id="w179" gradientUnits="userSpaceOnUse" x1="584.3" y1="368.5" x2="563.9" y2="369.2"><stop offset="0.000" stop-color="#767676"/><stop offset="0.050" stop-color="#7d7d7d"/><stop offset="0.075" stop-color="#8b8b8b"/><stop offset="0.100" stop-color="#c0c0c0"/><stop offset="0.125" stop-color="#d5d5d5"/><stop offset="0.300" stop-color="#d5d5d5"/><stop offset="0.325" stop-color="#c9c9c9"/><stop offset="0.375" stop-color="#868686"/><stop offset="0.400" stop-color="#777777"/><stop offset="0.550" stop-color="#727272"/><stop offset="0.575" stop-color="#6d6d6d"/><stop offset="0.600" stop-color="#4f4f4f"/><stop offset="0.625" stop-color="#424242"/><stop offset="0.650" stop-color="#464646"/><stop offset="0.700" stop-color="#565656"/><stop offset="0.975" stop-color="#5a5a5a"/><stop offset="1.000" stop-color="#545454"/></linearGradient><clipPath id="rc"><path d="M584.6 372.0L584.8 377.3L584.9 382.6L584.7 388.0L584.3 393.3L583.7 398.6L582.9 403.8L581.8 409.0L580.5 414.2L578.9 419.3L577.1 424.3L575.2 429.2L572.9 434.0L570.5 438.8L567.9 443.4L565.1 447.9L562.2 452.2L559.0 456.4L555.7 460.5L552.3 464.5L548.8 468.3L545.1 471.9L541.3 475.5L537.5 478.9L533.6 482.1L529.6 485.2L525.5 488.2L521.4 491.1L517.3 493.8L513.2 496.5L509.0 499.0L504.8 501.4L500.6 503.8L496.4 506.0L492.2 508.1L488.0 510.2L483.9 512.2L479.7 514.1L475.5 515.9L471.3 517.7L467.1 519.4L462.9 521.1L458.8 522.7L454.6 524.2L450.4 525.6L446.2 527.0L442.0 528.4L437.8 529.7L433.6 530.9L429.4 532.0L425.2 533.1L420.9 534.2L416.7 535.1L412.4 536.0L408.1 536.8L403.8 537.5L399.5 538.1L395.1 538.7L390.8 539.1L386.4 539.5L382.0 539.7L377.6 539.9L373.2 540.0L368.8 539.9L364.4 539.8L359.9 539.6L355.5 539.2L351.1 538.8L346.7 538.2L342.3 537.6L337.8 536.8L333.4 535.9L329.0 535.0L324.7 533.9L320.3 532.8L315.9 531.5L311.6 530.2L307.2 528.8L302.9 527.2L298.6 525.6L294.3 523.9L290.0 522.1L285.7 520.2L281.5 518.3L277.2 516.2L273.0 514.0L268.8 511.8L264.6 509.4L260.5 507.0L256.3 504.4L252.2 501.8L248.2 499.0L244.1 496.1L240.2 493.1L236.2 490.0L232.4 486.8L228.6 483.5L224.8 480.0L221.2 476.4L217.6 472.7L214.2 468.9L210.9 464.9L207.7 460.8L204.6 456.6L201.7 452.3L198.9 447.8L196.3 443.3L193.9 438.6L191.7 433.8L189.7 429.0L187.9 424.0L186.2 419.0L184.8 413.9L183.6 408.8L182.6 403.6L181.9 398.3L181.3 393.1L181.0 387.8L180.9 382.5L181.0 377.3L181.3 372.0L181.8 366.8L182.5 361.5L183.4 356.4L184.5 351.2L185.8 346.2L187.2 341.2L188.9 336.2L190.6 331.3L192.6 326.5L194.7 321.8L196.9 317.2L199.2 312.6L201.7 308.2L204.3 303.8L207.1 299.5L209.9 295.4L212.9 291.3L215.9 287.4L219.1 283.5L222.3 279.8L225.6 276.2L229.0 272.6L232.5 269.2L236.0 265.9L239.6 262.7L243.2 259.6L246.9 256.6L250.7 253.8L254.5 251.0L258.3 248.3L262.2 245.7L266.1 243.2L270.0 240.8L273.9 238.5L277.9 236.3L281.9 234.2L285.9 232.2L290.0 230.3L294.0 228.4L298.1 226.7L302.2 225.0L306.3 223.4L310.4 221.9L314.5 220.4L318.7 219.1L322.8 217.8L327.0 216.6L331.2 215.5L335.3 214.5L339.5 213.5L343.8 212.7L348.0 211.9L352.2 211.2L356.4 210.6L360.7 210.1L364.9 209.7L369.2 209.3L373.5 209.1L377.7 208.9L382.0 208.8L386.3 208.8L390.5 208.9L394.8 209.1L399.1 209.4L403.4 209.8L407.6 210.2L411.9 210.8L416.1 211.4L420.4 212.2L424.6 213.0L428.8 213.9L433.1 214.9L437.3 215.9L441.5 217.1L445.6 218.3L449.8 219.7L454.0 221.1L458.1 222.6L462.3 224.2L466.4 225.9L470.5 227.6L474.6 229.5L478.6 231.4L482.7 233.4L486.7 235.6L490.7 237.8L494.7 240.1L498.6 242.5L502.6 245.0L506.5 247.5L510.3 250.2L514.1 253.0L517.9 255.9L521.7 258.9L525.3 262.0L529.0 265.2L532.6 268.5L536.1 271.9L539.5 275.5L542.9 279.1L546.2 282.9L549.4 286.7L552.5 290.7L555.5 294.8L558.4 298.9L561.2 303.2L563.8 307.6L566.4 312.1L568.8 316.7L571.1 321.3L573.2 326.1L575.2 330.9L577.0 335.9L578.6 340.9L580.1 345.9L581.4 351.0L582.5 356.2L583.4 361.4L584.1 366.7ZM563.7 372.0L563.2 376.7L562.5 381.5L561.5 386.1L560.3 390.7L558.8 395.3L557.2 399.7L555.3 404.1L553.3 408.4L551.1 412.6L548.7 416.7L546.2 420.6L543.5 424.5L540.8 428.2L537.9 431.9L535.0 435.4L532.0 438.8L528.9 442.1L525.7 445.2L522.5 448.3L519.3 451.3L516.0 454.1L512.7 456.9L509.4 459.6L506.0 462.1L502.7 464.6L499.3 467.0L495.9 469.3L492.5 471.5L489.1 473.7L485.7 475.7L482.3 477.7L478.9 479.6L475.5 481.4L472.0 483.2L468.6 484.9L465.2 486.5L461.7 488.0L458.3 489.5L454.8 490.9L451.4 492.2L447.9 493.5L444.5 494.6L441.0 495.8L437.6 496.8L434.1 497.8L430.6 498.7L427.2 499.6L423.7 500.4L420.2 501.1L416.8 501.8L413.3 502.4L409.8 502.9L406.3 503.4L402.9 503.8L399.4 504.1L395.9 504.5L392.4 504.7L389.0 504.9L385.5 505.0L382.0 505.1L378.5 505.1L375.0 505.1L371.5 505.0L368.0 504.9L364.5 504.7L361.0 504.5L357.5 504.2L354.0 503.9L350.4 503.5L346.9 503.0L343.3 502.5L339.8 501.9L336.2 501.3L332.6 500.6L329.1 499.8L325.5 499.0L321.9 498.1L318.3 497.1L314.7 496.0L311.0 494.9L307.4 493.7L303.8 492.4L300.2 491.0L296.6 489.5L293.0 488.0L289.4 486.3L285.8 484.6L282.3 482.7L278.8 480.8L275.3 478.7L271.8 476.6L268.3 474.4L264.9 472.0L261.5 469.5L258.2 467.0L254.9 464.3L251.7 461.6L248.5 458.7L245.4 455.7L242.4 452.6L239.4 449.4L236.5 446.2L233.6 442.8L230.9 439.3L228.2 435.7L225.6 432.0L223.2 428.2L220.8 424.4L218.6 420.4L216.5 416.4L214.5 412.2L212.6 408.0L211.0 403.7L209.4 399.3L208.1 394.9L206.9 390.4L205.9 385.9L205.2 381.3L204.6 376.6L204.3 372.0L204.1 367.3L204.3 362.7L204.6 358.0L205.2 353.4L206.0 348.8L207.0 344.3L208.3 339.8L209.7 335.4L211.4 331.0L213.3 326.8L215.4 322.7L217.7 318.6L220.1 314.7L222.7 310.8L225.4 307.1L228.3 303.6L231.2 300.1L234.3 296.7L237.5 293.5L240.7 290.4L244.0 287.4L247.3 284.5L250.7 281.8L254.1 279.1L257.6 276.5L261.1 274.1L264.6 271.7L268.1 269.4L271.6 267.2L275.1 265.1L278.6 263.1L282.2 261.1L285.7 259.2L289.2 257.4L292.8 255.7L296.3 254.0L299.8 252.4L303.4 250.9L306.9 249.4L310.4 248.0L314.0 246.7L317.5 245.4L321.1 244.2L324.6 243.1L328.2 242.1L331.7 241.1L335.3 240.2L338.9 239.3L342.5 238.5L346.0 237.8L349.6 237.2L353.2 236.6L356.8 236.2L360.4 235.7L364.0 235.4L367.6 235.2L371.2 235.0L374.8 234.8L378.4 234.8L382.0 234.8L385.6 234.9L389.2 235.1L392.8 235.3L396.3 235.6L399.9 236.0L403.5 236.4L407.0 236.9L410.6 237.4L414.2 238.0L417.7 238.7L421.3 239.4L424.8 240.2L428.4 241.0L431.9 241.9L435.5 242.8L439.1 243.8L442.6 244.9L446.2 246.0L449.8 247.2L453.4 248.4L457.0 249.7L460.6 251.0L464.2 252.5L467.8 253.9L471.4 255.5L475.1 257.1L478.7 258.8L482.4 260.5L486.0 262.4L489.7 264.3L493.3 266.3L497.0 268.4L500.7 270.7L504.3 273.0L507.9 275.4L511.5 277.9L515.1 280.5L518.7 283.2L522.2 286.1L525.6 289.1L529.0 292.2L532.3 295.4L535.5 298.8L538.6 302.3L541.6 305.9L544.5 309.6L547.2 313.5L549.8 317.5L552.2 321.6L554.4 325.8L556.4 330.1L558.2 334.5L559.8 339.0L561.1 343.6L562.2 348.3L563.0 353.0L563.6 357.7L563.9 362.5L563.9 367.2Z" clip-rule="evenodd"/></clipPath></defs><g clip-path="url(#rc)"><path d="M586.5 370.6L586.9 375.6L587.1 380.6L560.6 379.5L561.3 375.1L561.7 370.7Z" fill="url(#w0)"/><path d="M587.0 377.7L587.1 382.8L587.1 387.8L559.3 385.6L560.2 381.3L561.0 377.0Z" fill="url(#w1)"/><path d="M587.1 384.9L587.0 389.9L586.6 395.0L557.5 391.7L558.8 387.5L559.8 383.2Z" fill="url(#w2)"/><path d="M586.9 392.1L586.4 397.1L585.8 402.1L555.3 397.6L556.9 393.5L558.2 389.3Z" fill="url(#w3)"/><path d="M586.2 399.2L585.4 404.2L584.5 409.2L552.8 403.3L554.6 399.3L556.2 395.2Z" fill="url(#w4)"/><path d="M585.1 406.3L584.0 411.3L582.8 416.2L550.0 408.9L552.0 405.0L553.8 401.1Z" fill="url(#w5)"/><path d="M583.5 413.4L582.2 418.2L580.7 423.0L546.8 414.3L549.0 410.6L551.1 406.7Z" fill="url(#w6)"/><path d="M581.6 420.3L580.0 425.1L578.2 429.7L543.4 419.5L545.8 415.9L548.1 412.2Z" fill="url(#w7)"/><path d="M579.2 427.1L577.4 431.7L575.3 436.3L539.9 424.5L542.4 421.0L544.8 417.5Z" fill="url(#w8)"/><path d="M576.5 433.7L574.3 438.2L572.0 442.7L536.1 429.3L538.7 426.0L541.3 422.5Z" fill="url(#w9)"/><path d="M573.3 440.1L570.9 444.5L568.3 448.8L532.2 433.9L534.9 430.7L537.6 427.4Z" fill="url(#w10)"/><path d="M569.8 446.4L567.2 450.6L564.4 454.7L528.1 438.3L531.0 435.2L533.7 432.1Z" fill="url(#w11)"/><path d="M566.0 452.4L563.1 456.5L560.1 460.4L524.0 442.5L526.9 439.6L529.7 436.5Z" fill="url(#w12)"/><path d="M561.8 458.2L558.7 462.1L555.5 465.8L519.8 446.5L522.7 443.7L525.6 440.8Z" fill="url(#w13)"/><path d="M557.4 463.7L554.1 467.4L550.7 471.0L515.5 450.3L518.5 447.7L521.4 444.9Z" fill="url(#w14)"/><path d="M552.7 469.0L549.3 472.5L545.7 475.9L511.2 454.0L514.2 451.4L517.2 448.8Z" fill="url(#w15)"/><path d="M547.8 474.0L544.2 477.3L540.6 480.6L506.8 457.4L509.8 455.0L512.9 452.5Z" fill="url(#w16)"/><path d="M542.6 478.7L539.0 481.9L535.2 485.0L502.4 460.8L505.5 458.5L508.5 456.1Z" fill="url(#w17)"/><path d="M537.4 483.2L533.6 486.3L529.8 489.1L498.0 463.9L501.1 461.7L504.2 459.5Z" fill="url(#w18)"/><path d="M532.0 487.5L528.2 490.4L524.3 493.1L493.6 467.0L496.7 464.9L499.8 462.7Z" fill="url(#w19)"/><path d="M526.5 491.5L522.6 494.2L518.7 496.8L489.2 469.9L492.3 467.8L495.4 465.8Z" fill="url(#w20)"/><path d="M520.9 495.3L517.0 497.9L513.0 500.3L484.7 472.6L487.8 470.7L490.9 468.7Z" fill="url(#w21)"/><path d="M515.3 498.9L511.3 501.3L507.4 503.6L480.3 475.2L483.4 473.4L486.5 471.5Z" fill="url(#w22)"/><path d="M509.6 502.3L505.7 504.6L501.7 506.8L475.8 477.7L478.9 476.0L482.1 474.2Z" fill="url(#w23)"/><path d="M503.9 505.6L500.0 507.7L496.0 509.8L471.4 480.0L474.5 478.4L477.6 476.7Z" fill="url(#w24)"/><path d="M498.3 508.6L494.3 510.6L490.3 512.6L466.9 482.2L470.0 480.7L473.1 479.1Z" fill="url(#w25)"/><path d="M492.6 511.5L488.6 513.4L484.6 515.3L462.4 484.3L465.5 482.9L468.7 481.4Z" fill="url(#w26)"/><path d="M486.9 514.2L482.9 516.1L478.9 517.8L457.9 486.3L461.1 484.9L464.2 483.5Z" fill="url(#w27)"/><path d="M481.2 516.8L477.2 518.6L473.2 520.3L453.4 488.1L456.6 486.8L459.7 485.5Z" fill="url(#w28)"/><path d="M475.5 519.3L471.5 521.0L467.6 522.6L448.9 489.8L452.1 488.6L455.2 487.4Z" fill="url(#w29)"/><path d="M469.8 521.7L465.9 523.3L461.9 524.8L444.4 491.4L447.6 490.3L450.7 489.1Z" fill="url(#w30)"/><path d="M464.2 523.9L460.2 525.5L456.2 526.9L439.9 492.9L443.1 491.8L446.2 490.8Z" fill="url(#w31)"/><path d="M458.5 526.1L454.5 527.5L450.6 528.9L435.4 494.2L438.5 493.3L441.7 492.3Z" fill="url(#w32)"/><path d="M452.8 528.1L448.9 529.5L444.9 530.8L430.9 495.4L434.0 494.6L437.2 493.7Z" fill="url(#w33)"/><path d="M447.1 530.1L443.2 531.4L439.2 532.6L426.3 496.5L429.5 495.8L432.7 494.9Z" fill="url(#w34)"/><path d="M441.5 531.9L437.5 533.1L433.5 534.3L421.8 497.5L425.0 496.8L428.1 496.1Z" fill="url(#w35)"/><path d="M435.8 533.6L431.8 534.7L427.7 535.8L417.3 498.4L420.5 497.8L423.6 497.1Z" fill="url(#w36)"/><path d="M430.0 535.2L426.0 536.3L422.0 537.3L412.8 499.1L415.9 498.6L419.1 498.0Z" fill="url(#w37)"/><path d="M424.3 536.7L420.2 537.7L416.2 538.6L408.2 499.8L411.4 499.3L414.6 498.8Z" fill="url(#w38)"/><path d="M418.5 538.1L414.4 538.9L410.4 539.7L403.7 500.3L406.9 500.0L410.0 499.5Z" fill="url(#w39)"/><path d="M412.7 539.3L408.6 540.1L404.5 540.8L399.2 500.8L402.4 500.5L405.5 500.1Z" fill="url(#w40)"/><path d="M406.9 540.4L402.8 541.0L398.6 541.6L394.7 501.2L397.8 500.9L401.0 500.6Z" fill="url(#w41)"/><path d="M401.0 541.3L396.9 541.9L392.7 542.3L390.1 501.4L393.3 501.2L396.5 501.0Z" fill="url(#w42)"/><path d="M395.1 542.1L390.9 542.5L386.8 542.9L385.6 501.6L388.8 501.5L392.0 501.3Z" fill="url(#w43)"/><path d="M389.2 542.7L385.0 543.0L380.8 543.3L381.1 501.7L384.3 501.6L387.4 501.5Z" fill="url(#w44)"/><path d="M383.2 543.1L379.0 543.3L374.8 543.4L376.6 501.7L379.7 501.7L382.9 501.6Z" fill="url(#w45)"/><path d="M377.2 543.4L373.0 543.5L368.8 543.4L372.0 501.6L375.2 501.6L378.4 501.7Z" fill="url(#w46)"/><path d="M371.2 543.5L367.0 543.4L362.8 543.2L367.5 501.4L370.7 501.5L373.8 501.6Z" fill="url(#w47)"/><path d="M365.2 543.3L361.0 543.1L356.8 542.8L362.9 501.1L366.1 501.3L369.3 501.5Z" fill="url(#w48)"/><path d="M359.2 543.0L355.0 542.7L350.8 542.3L358.4 500.8L361.6 501.0L364.8 501.2Z" fill="url(#w49)"/><path d="M353.2 542.5L348.9 542.0L344.7 541.5L353.8 500.3L357.0 500.6L360.2 500.9Z" fill="url(#w50)"/><path d="M347.1 541.8L342.9 541.2L338.7 540.5L349.2 499.8L352.4 500.2L355.6 500.5Z" fill="url(#w51)"/><path d="M341.1 540.9L336.9 540.2L332.7 539.4L344.6 499.2L347.8 499.6L351.0 500.0Z" fill="url(#w52)"/><path d="M335.1 539.8L331.0 539.0L326.8 538.0L339.9 498.5L343.2 499.0L346.4 499.4Z" fill="url(#w53)"/><path d="M329.2 538.6L325.0 537.6L320.8 536.5L335.3 497.6L338.5 498.2L341.8 498.8Z" fill="url(#w54)"/><path d="M323.2 537.1L319.0 536.0L314.9 534.8L330.6 496.7L333.9 497.4L337.1 498.0Z" fill="url(#w55)"/><path d="M317.3 535.5L313.1 534.3L309.0 532.9L325.9 495.6L329.2 496.4L332.5 497.1Z" fill="url(#w56)"/><path d="M311.4 533.7L307.2 532.3L303.1 530.9L321.2 494.5L324.5 495.3L327.8 496.1Z" fill="url(#w57)"/><path d="M305.5 531.7L301.4 530.3L297.3 528.7L316.5 493.2L319.8 494.1L323.1 494.9Z" fill="url(#w58)"/><path d="M299.6 529.6L295.5 528.0L291.5 526.3L311.8 491.7L315.1 492.7L318.4 493.7Z" fill="url(#w59)"/><path d="M293.8 527.3L289.7 525.6L285.7 523.8L307.0 490.1L310.3 491.2L313.7 492.3Z" fill="url(#w60)"/><path d="M288.0 524.8L283.9 523.0L279.9 521.1L302.3 488.4L305.6 489.6L308.9 490.8Z" fill="url(#w61)"/><path d="M282.2 522.2L278.2 520.3L274.2 518.3L297.6 486.5L300.9 487.8L304.2 489.1Z" fill="url(#w62)"/><path d="M276.5 519.4L272.5 517.4L268.5 515.2L292.9 484.4L296.2 485.9L299.5 487.3Z" fill="url(#w63)"/><path d="M270.7 516.5L266.8 514.3L262.8 512.1L288.2 482.2L291.5 483.8L294.8 485.3Z" fill="url(#w64)"/><path d="M265.1 513.4L261.1 511.1L257.2 508.7L283.5 479.8L286.8 481.5L290.1 483.1Z" fill="url(#w65)"/><path d="M259.4 510.1L255.5 507.7L251.6 505.2L278.9 477.3L282.2 479.1L285.4 480.8Z" fill="url(#w66)"/><path d="M253.8 506.6L249.9 504.1L246.1 501.4L274.4 474.5L277.6 476.4L280.8 478.3Z" fill="url(#w67)"/><path d="M248.3 502.9L244.4 500.3L240.6 497.5L269.8 471.6L273.0 473.6L276.2 475.6Z" fill="url(#w68)"/><path d="M242.8 499.1L239.0 496.3L235.3 493.4L265.4 468.5L268.5 470.7L271.6 472.8Z" fill="url(#w69)"/><path d="M237.4 495.0L233.7 492.1L230.0 489.0L261.0 465.2L264.1 467.5L267.2 469.7Z" fill="url(#w70)"/><path d="M232.1 490.8L228.5 487.7L224.9 484.5L256.7 461.7L259.7 464.1L262.8 466.5Z" fill="url(#w71)"/><path d="M226.9 486.3L223.4 483.1L219.9 479.7L252.5 458.0L255.4 460.6L258.4 463.1Z" fill="url(#w72)"/><path d="M221.9 481.6L218.4 478.2L215.1 474.7L248.4 454.2L251.3 456.9L254.2 459.5Z" fill="url(#w73)"/><path d="M217.0 476.7L213.7 473.1L210.5 469.4L244.4 450.2L247.2 453.0L250.0 455.8Z" fill="url(#w74)"/><path d="M212.3 471.6L209.1 467.8L206.1 464.0L240.5 446.0L243.2 448.9L246.0 451.8Z" fill="url(#w75)"/><path d="M207.8 466.2L204.8 462.3L201.9 458.3L236.7 441.6L239.3 444.7L242.0 447.7Z" fill="url(#w76)"/><path d="M203.5 460.6L200.7 456.5L198.0 452.4L233.1 437.1L235.6 440.3L238.2 443.4Z" fill="url(#w77)"/><path d="M199.5 454.8L196.9 450.6L194.4 446.3L229.6 432.3L232.0 435.7L234.5 438.9Z" fill="url(#w78)"/><path d="M195.8 448.7L193.4 444.4L191.2 440.0L226.2 427.5L228.6 430.9L231.0 434.3Z" fill="url(#w79)"/><path d="M192.4 442.5L190.2 438.0L188.2 433.5L223.1 422.4L225.3 426.0L227.6 429.4Z" fill="url(#w80)"/><path d="M189.4 436.1L187.4 431.5L185.7 426.8L220.2 417.2L222.2 420.9L224.3 424.4Z" fill="url(#w81)"/><path d="M186.7 429.5L185.0 424.8L183.5 420.0L217.4 411.8L219.3 415.6L221.3 419.3Z" fill="url(#w82)"/><path d="M184.3 422.8L182.9 418.0L181.7 413.1L214.9 406.3L216.7 410.2L218.5 414.0Z" fill="url(#w83)"/><path d="M182.4 415.9L181.3 411.0L180.3 406.1L212.7 400.6L214.2 404.6L215.9 408.5Z" fill="url(#w84)"/><path d="M180.8 408.9L180.0 404.0L179.3 399.0L210.8 394.8L212.1 398.9L213.6 402.9Z" fill="url(#w85)"/><path d="M179.7 401.9L179.1 396.9L178.7 391.9L209.2 388.9L210.3 393.1L211.5 397.2Z" fill="url(#w86)"/><path d="M178.9 394.8L178.6 389.8L178.5 384.8L207.9 383.0L208.8 387.2L209.8 391.3Z" fill="url(#w87)"/><path d="M178.5 387.7L178.5 382.7L178.6 377.7L207.0 376.9L207.6 381.1L208.4 385.4Z" fill="url(#w88)"/><path d="M178.5 380.5L178.7 375.5L179.2 370.6L206.5 370.8L206.8 375.1L207.3 379.3Z" fill="url(#w89)"/><path d="M178.9 373.4L179.4 368.5L180.0 363.5L206.4 364.6L206.4 368.9L206.7 373.2Z" fill="url(#w90)"/><path d="M179.6 366.3L180.4 361.4L181.3 356.6L206.7 358.5L206.4 362.8L206.4 367.1Z" fill="url(#w91)"/><path d="M180.7 359.3L181.7 354.5L182.8 349.7L207.4 352.4L206.8 356.7L206.5 361.0Z" fill="url(#w92)"/><path d="M182.1 352.4L183.3 347.6L184.7 342.9L208.5 346.4L207.7 350.6L207.1 354.8Z" fill="url(#w93)"/><path d="M183.9 345.6L185.3 340.8L186.8 336.2L210.1 340.5L209.0 344.6L208.0 348.8Z" fill="url(#w94)"/><path d="M185.9 338.8L187.5 334.2L189.2 329.6L212.1 334.6L210.7 338.7L209.4 342.8Z" fill="url(#w95)"/><path d="M188.2 332.2L190.0 327.7L191.9 323.2L214.4 329.0L212.7 332.9L211.2 336.9Z" fill="url(#w96)"/><path d="M190.8 325.7L192.8 321.3L194.9 316.9L217.1 323.5L215.2 327.3L213.4 331.2Z" fill="url(#w97)"/><path d="M193.7 319.4L195.8 315.1L198.1 310.8L220.1 318.2L218.0 321.9L216.0 325.6Z" fill="url(#w98)"/><path d="M196.8 313.2L199.0 309.0L201.5 304.9L223.5 313.0L221.1 316.6L218.9 320.3Z" fill="url(#w99)"/><path d="M200.1 307.2L202.5 303.1L205.1 299.1L227.1 308.1L224.5 311.6L222.1 315.1Z" fill="url(#w100)"/><path d="M203.6 301.4L206.2 297.4L208.9 293.5L230.9 303.5L228.2 306.7L225.6 310.1Z" fill="url(#w101)"/><path d="M207.3 295.7L210.0 291.8L212.9 288.0L234.9 299.0L232.1 302.1L229.3 305.3Z" fill="url(#w102)"/><path d="M211.2 290.2L214.1 286.4L217.0 282.8L239.1 294.7L236.1 297.7L233.3 300.7Z" fill="url(#w103)"/><path d="M215.3 284.9L218.3 281.3L221.3 277.7L243.4 290.7L240.4 293.5L237.4 296.4Z" fill="url(#w104)"/><path d="M219.6 279.7L222.7 276.3L225.8 272.9L247.8 286.8L244.7 289.5L241.7 292.3Z" fill="url(#w105)"/><path d="M224.0 274.8L227.2 271.5L230.4 268.2L252.3 283.2L249.2 285.7L246.0 288.4Z" fill="url(#w106)"/><path d="M228.6 270.1L231.8 266.8L235.1 263.7L256.9 279.7L253.7 282.1L250.5 284.6Z" fill="url(#w107)"/><path d="M233.2 265.5L236.6 262.4L240.0 259.4L261.5 276.5L258.2 278.7L255.0 281.1Z" fill="url(#w108)"/><path d="M238.0 261.1L241.5 258.2L244.9 255.3L266.1 273.4L262.9 275.5L259.6 277.8Z" fill="url(#w109)"/><path d="M242.9 257.0L246.4 254.1L250.0 251.4L270.7 270.4L267.5 272.5L264.2 274.6Z" fill="url(#w110)"/><path d="M247.9 253.0L251.5 250.3L255.1 247.7L275.4 267.6L272.1 269.6L268.9 271.6Z" fill="url(#w111)"/><path d="M253.0 249.2L256.6 246.6L260.2 244.1L280.1 264.9L276.8 266.8L273.5 268.7Z" fill="url(#w112)"/><path d="M258.2 245.5L261.8 243.1L265.5 240.8L284.7 262.4L281.4 264.2L278.2 266.0Z" fill="url(#w113)"/><path d="M263.4 242.1L267.1 239.8L270.8 237.6L289.4 260.0L286.1 261.7L282.8 263.4Z" fill="url(#w114)"/><path d="M268.7 238.8L272.4 236.7L276.1 234.6L294.0 257.7L290.8 259.3L287.5 261.0Z" fill="url(#w115)"/><path d="M274.0 235.7L277.8 233.7L281.5 231.7L298.7 255.6L295.4 257.1L292.1 258.6Z" fill="url(#w116)"/><path d="M279.4 232.8L283.2 230.9L287.0 229.0L303.3 253.5L300.0 255.0L296.8 256.4Z" fill="url(#w117)"/><path d="M284.8 230.0L288.6 228.2L292.5 226.4L307.9 251.6L304.7 253.0L301.4 254.3Z" fill="url(#w118)"/><path d="M290.3 227.4L294.1 225.7L298.0 224.0L312.6 249.8L309.3 251.1L306.1 252.4Z" fill="url(#w119)"/><path d="M295.7 225.0L299.6 223.4L303.5 221.8L317.2 248.1L314.0 249.3L310.7 250.5Z" fill="url(#w120)"/><path d="M301.3 222.7L305.1 221.2L309.0 219.7L321.9 246.6L318.6 247.6L315.4 248.8Z" fill="url(#w121)"/><path d="M306.8 220.5L310.7 219.1L314.6 217.8L326.6 245.1L323.3 246.1L320.0 247.2Z" fill="url(#w122)"/><path d="M312.4 218.5L316.3 217.2L320.2 216.0L331.2 243.8L328.0 244.7L324.7 245.7Z" fill="url(#w123)"/><path d="M318.0 216.7L321.9 215.5L325.9 214.3L335.9 242.6L332.6 243.4L329.4 244.3Z" fill="url(#w124)"/><path d="M323.6 215.0L327.6 213.9L331.5 212.8L340.6 241.5L337.3 242.2L334.0 243.0Z" fill="url(#w125)"/><path d="M329.2 213.4L333.2 212.4L337.2 211.5L345.3 240.5L342.0 241.2L338.7 241.9Z" fill="url(#w126)"/><path d="M334.9 212.0L338.9 211.1L342.9 210.3L350.0 239.7L346.7 240.3L343.4 240.9Z" fill="url(#w127)"/><path d="M340.6 210.8L344.6 210.0L348.6 209.2L354.7 239.0L351.4 239.5L348.1 240.0Z" fill="url(#w128)"/><path d="M346.3 209.6L350.3 209.0L354.3 208.3L359.4 238.4L356.1 238.8L352.8 239.2Z" fill="url(#w129)"/><path d="M352.0 208.7L356.0 208.1L360.1 207.6L364.1 238.0L360.8 238.3L357.5 238.6Z" fill="url(#w130)"/><path d="M357.8 207.9L361.8 207.4L365.8 207.0L368.8 237.6L365.5 237.9L362.2 238.1Z" fill="url(#w131)"/><path d="M363.5 207.2L367.6 206.9L371.6 206.6L373.5 237.5L370.2 237.6L366.9 237.8Z" fill="url(#w132)"/><path d="M369.3 206.7L373.3 206.5L377.4 206.3L378.2 237.4L374.9 237.4L371.7 237.5Z" fill="url(#w133)"/><path d="M375.1 206.4L379.1 206.3L383.2 206.2L382.9 237.4L379.7 237.4L376.4 237.4Z" fill="url(#w134)"/><path d="M380.8 206.2L384.9 206.2L388.9 206.3L387.6 237.6L384.3 237.5L381.1 237.4Z" fill="url(#w135)"/><path d="M386.6 206.2L390.7 206.3L394.7 206.5L392.3 237.9L389.0 237.7L385.8 237.5Z" fill="url(#w136)"/><path d="M392.4 206.4L396.5 206.6L400.5 206.9L397.0 238.3L393.7 238.0L390.4 237.8Z" fill="url(#w137)"/><path d="M398.2 206.7L402.3 207.0L406.3 207.4L401.7 238.8L398.4 238.5L395.1 238.1Z" fill="url(#w138)"/><path d="M404.0 207.2L408.0 207.6L412.1 208.1L406.3 239.4L403.1 239.0L399.8 238.6Z" fill="url(#w139)"/><path d="M409.8 207.8L413.8 208.4L417.8 209.0L411.0 240.2L407.7 239.7L404.5 239.2Z" fill="url(#w140)"/><path d="M415.5 208.6L419.6 209.3L423.6 210.1L415.6 241.0L412.4 240.4L409.1 239.9Z" fill="url(#w141)"/><path d="M421.3 209.6L425.3 210.4L429.3 211.3L420.3 241.9L417.0 241.3L413.8 240.7Z" fill="url(#w142)"/><path d="M427.0 210.8L431.0 211.6L435.0 212.6L424.9 242.9L421.7 242.2L418.4 241.5Z" fill="url(#w143)"/><path d="M432.7 212.0L436.7 213.1L440.7 214.1L429.6 244.0L426.3 243.2L423.1 242.5Z" fill="url(#w144)"/><path d="M438.4 213.5L442.4 214.6L446.4 215.8L434.2 245.2L431.0 244.4L427.7 243.6Z" fill="url(#w145)"/><path d="M444.1 215.1L448.1 216.3L452.0 217.6L438.9 246.5L435.6 245.6L432.4 244.7Z" fill="url(#w146)"/><path d="M449.8 216.9L453.7 218.2L457.6 219.6L443.6 247.9L440.3 246.9L437.0 246.0Z" fill="url(#w147)"/><path d="M455.4 218.8L459.3 220.3L463.2 221.8L448.3 249.4L445.0 248.4L441.7 247.3Z" fill="url(#w148)"/><path d="M461.0 220.9L464.9 222.5L468.8 224.1L453.0 251.0L449.7 249.9L446.4 248.8Z" fill="url(#w149)"/><path d="M466.6 223.1L470.4 224.8L474.3 226.6L457.7 252.7L454.4 251.5L451.1 250.3Z" fill="url(#w150)"/><path d="M472.1 225.5L476.0 227.3L479.8 229.2L462.5 254.5L459.2 253.2L455.8 252.0Z" fill="url(#w151)"/><path d="M477.6 228.1L481.4 230.0L485.2 232.0L467.3 256.4L463.9 255.0L460.6 253.7Z" fill="url(#w152)"/><path d="M483.1 230.8L486.9 232.8L490.7 234.9L472.0 258.4L468.7 257.0L465.3 255.6Z" fill="url(#w153)"/><path d="M488.5 233.7L492.3 235.8L496.0 238.0L476.9 260.5L473.5 259.0L470.1 257.6Z" fill="url(#w154)"/><path d="M493.9 236.8L497.6 239.0L501.3 241.3L481.7 262.8L478.3 261.2L474.9 259.7Z" fill="url(#w155)"/><path d="M499.2 240.0L502.9 242.3L506.6 244.8L486.5 265.2L483.1 263.5L479.8 261.9Z" fill="url(#w156)"/><path d="M504.5 243.4L508.1 245.9L511.8 248.4L491.4 267.8L488.0 266.0L484.6 264.3Z" fill="url(#w157)"/><path d="M509.7 247.0L513.3 249.6L516.9 252.3L496.3 270.6L492.9 268.6L489.5 266.8Z" fill="url(#w158)"/><path d="M514.8 250.7L518.4 253.4L521.9 256.3L501.1 273.5L497.7 271.4L494.3 269.4Z" fill="url(#w159)"/><path d="M519.9 254.6L523.4 257.5L526.8 260.5L506.0 276.5L502.6 274.4L499.2 272.3Z" fill="url(#w160)"/><path d="M524.9 258.8L528.3 261.7L531.7 264.8L510.8 279.8L507.4 277.5L504.0 275.3Z" fill="url(#w161)"/><path d="M529.8 263.1L533.1 266.2L536.4 269.4L515.5 283.3L512.2 280.8L508.8 278.5Z" fill="url(#w162)"/><path d="M534.5 267.6L537.8 270.8L541.0 274.2L520.2 287.0L516.9 284.4L513.6 281.9Z" fill="url(#w163)"/><path d="M539.2 272.2L542.4 275.6L545.5 279.1L524.8 290.9L521.6 288.1L518.3 285.5Z" fill="url(#w164)"/><path d="M543.7 277.1L546.8 280.7L549.8 284.3L529.3 295.0L526.2 292.1L523.0 289.3Z" fill="url(#w165)"/><path d="M548.1 282.2L551.1 285.9L554.0 289.6L533.6 299.4L530.6 296.3L527.5 293.3Z" fill="url(#w166)"/><path d="M552.3 287.5L555.2 291.2L557.9 295.1L537.8 303.9L534.9 300.7L531.9 297.6Z" fill="url(#w167)"/><path d="M556.4 292.9L559.1 296.8L561.7 300.8L541.7 308.8L539.0 305.4L536.1 302.1Z" fill="url(#w168)"/><path d="M560.2 298.5L562.8 302.6L565.3 306.7L545.4 313.8L542.9 310.3L540.2 306.8Z" fill="url(#w169)"/><path d="M563.9 304.3L566.4 308.5L568.7 312.8L548.8 319.1L546.5 315.4L544.0 311.8Z" fill="url(#w170)"/><path d="M567.4 310.3L569.7 314.6L571.8 319.0L551.9 324.6L549.8 320.7L547.5 316.9Z" fill="url(#w171)"/><path d="M570.6 316.5L572.7 320.9L574.7 325.4L554.6 330.2L552.8 326.2L550.7 322.3Z" fill="url(#w172)"/><path d="M573.6 322.8L575.5 327.3L577.4 331.9L557.0 336.1L555.4 332.0L553.6 327.9Z" fill="url(#w173)"/><path d="M576.3 329.3L578.1 333.9L579.7 338.6L558.9 342.1L557.6 337.9L556.1 333.7Z" fill="url(#w174)"/><path d="M578.8 335.9L580.4 340.6L581.8 345.3L560.4 348.2L559.4 343.9L558.2 339.7Z" fill="url(#w175)"/><path d="M581.0 342.6L582.3 347.4L583.5 352.2L561.4 354.4L560.7 350.1L559.8 345.7Z" fill="url(#w176)"/><path d="M582.9 349.5L584.0 354.3L585.0 359.2L561.9 360.7L561.6 356.3L561.0 351.9Z" fill="url(#w177)"/><path d="M584.4 356.4L585.3 361.3L586.0 366.3L561.9 367.0L561.9 362.6L561.7 358.2Z" fill="url(#w178)"/><path d="M585.7 363.5L586.3 368.4L586.8 373.4L561.5 373.3L561.8 368.9L562.0 364.5Z" fill="url(#w179)"/></g>
<!--HEIGHT MARKER-->
<g fill="#0b2e54">
<circle cx="385.7" cy="501.6" r="6.9"/>
<rect x="383.1" y="510.3" width="5" height="3.6"/>
<rect x="383.1" y="514.8" width="5" height="3.8"/>
<rect x="383.1" y="519.5" width="5" height="3.6"/>
<rect x="383.1" y="524" width="5" height="3.8"/>
<rect x="383.1" y="528.7" width="5" height="4.2"/>
<path d="M383.1 532.4L388.1 532.4L393 534.8L385.6 543.2L377.8 534.8Z"/>
</g>
<!--DASHED ARROW-->
<path d="M585.4 392.6L682 324.6" stroke="#505050" stroke-width="2.5" stroke-dasharray="7.2 4.2" fill="none"/>
<path d="M676.4 318.2L690.6 317.9L685.7 330.4Z" fill="#505050"/>
<!--LOCK LEFT PIECE-->
<path d="M620.7 264.4C624.5 264.8 636.2 265.6 643.8 266.9C651.3 268.1 660.2 270.4 666.2 271.9C672.3 273.4 678.0 275.2 680.3 275.9L680.3 277.8C678.0 277.3 672.3 275.9 666.2 274.6C660.2 273.4 651.3 271.4 643.8 270.3C636.2 269.2 624.5 268.4 620.7 268.0Z" fill="#c9c9c9"/>
<path d="M620.7 268.0C624.5 268.4 636.2 269.2 643.8 270.3C651.3 271.4 660.2 273.4 666.2 274.6C672.3 275.9 678.0 277.3 680.3 277.8L678.6 308.5C675.6 307.9 666.4 306.2 660.6 305.1C654.8 304.0 650.4 302.7 643.8 301.8C637.1 300.8 624.5 299.9 620.7 299.5Z" fill="#585858"/>
<circle cx="671.9" cy="291.4" r="4.3" fill="#555555" stroke="#484848" stroke-width="1.2"/>
<!--LOCK RIGHT PIECE-->
<path d="M701.9 281.0C704.1 281.7 710.7 283.4 715.0 285.0C719.3 286.6 723.3 288.3 727.5 290.6C731.7 292.9 735.8 295.6 740.0 298.8C744.2 301.9 748.9 306.0 752.5 309.5C756.1 313.0 759.5 316.6 761.5 319.5C763.5 322.4 763.8 325.8 764.3 327.0L764.3 361L755 361L754.75 361.5C755.4 360.0 757.8 356.1 758.5 352.8C759.2 349.4 759.5 345.2 759.1 341.5C758.7 337.8 757.8 334.0 756.0 330.2C754.2 326.5 751.4 322.8 748.5 319.0C745.6 315.2 742.2 311.2 738.5 307.8C734.8 304.3 730.6 301.3 726.0 298.4C721.4 295.5 713.5 291.6 711.0 290.2Z" fill="#c8c8c8"/>
<path d="M701.9 282.5L713 286.8L713 319L700.6 313.75Z" fill="#626262"/>
<path d="M712.5 288.8C715.0 290.1 722.9 294.0 727.5 296.9C732.1 299.8 736.2 302.8 740.0 306.2C743.8 309.7 747.1 313.8 750.0 317.5C752.9 321.2 755.7 325.0 757.5 328.8C759.3 332.5 760.2 336.2 760.6 340.0C761.0 343.8 760.7 347.9 760.0 351.2C759.3 354.6 757.2 358.2 756.2 360.0C755.3 361.8 754.7 361.6 754.4 361.9C753.9 360.1 753.0 354.7 751.2 351.2C749.5 347.8 746.7 344.4 743.8 341.2C740.8 338.1 737.5 335.2 733.8 332.5C730.0 329.8 725.2 327.1 721.2 325.0C717.3 322.9 711.9 320.8 710.0 320.0Z" fill="#393939"/>
<circle cx="706.9" cy="300" r="5" fill="#2b2b2b"/>
<!--RING DETAILS-->
<path d="M337.0 234.6L338.1 233.6M294.0 244.5L294.4 243.7M423.0 227.8L423.6 228.2M386.4 226.0L387.5 225.3M357.8 229.9L359.7 230.3M362.0 228.2L363.0 228.8M251.2 278.5L252.3 277.0M304.5 247.5L305.1 247.6M421.8 228.3L423.9 228.6M349.1 234.9L350.2 234.0M401.1 227.0L402.5 226.4M414.2 230.4L415.4 230.4M296.6 248.6L297.7 248.6M325.0 237.3L325.8 237.2M264.0 263.0L265.4 261.7M315.1 236.3L316.9 235.0M367.1 231.7L368.2 231.1M423.5 230.6L424.9 231.7M377.1 225.0L378.9 224.7M385.6 227.6L387.2 227.0M375.6 231.0L376.7 230.9M248.1 272.4L250.1 271.5M350.5 225.8L352.1 225.8M318.3 234.2L319.5 233.5M349.6 235.0L351.1 234.5M371.1 225.2L372.3 224.9M299.6 241.7L301.3 240.4M309.8 245.6L310.9 245.8M351.5 227.7L352.4 227.8M259.1 265.9L259.2 265.1M373.3 230.3L374.1 229.8" stroke="#dcdcdc" stroke-opacity="0.64" stroke-width="1" stroke-linecap="round" fill="none"/>
<path d="M281.6 251.5L282.2 251.3M247.5 272.0L247.6 271.1M290.6 247.1L292.2 246.7M348.3 232.0L350.0 231.3M353.8 233.7L355.6 233.5M414.4 226.4L416.4 227.2M220.4 302.3L221.8 300.6M326.5 235.9L328.3 236.0M408.8 227.7L410.0 227.7M422.5 228.3L422.9 228.8M319.8 241.1L321.2 241.0M289.0 253.9L290.4 253.0M238.6 288.9L239.1 288.0M269.5 257.2L271.0 257.1M272.5 256.8L273.3 256.9M401.9 230.4L403.6 230.6M383.5 229.1L385.1 229.4M232.5 287.6L233.3 287.0M267.0 259.6L266.9 258.9M237.9 290.7L239.3 290.1M371.3 226.4L372.8 226.6M371.9 226.0L373.7 226.5M372.8 223.4L374.5 223.6M295.4 243.1L297.5 242.1M309.2 240.5L310.4 240.1M370.9 225.5L372.2 225.6M244.9 281.0L245.3 280.2M325.3 236.2L327.0 235.3M377.5 224.8L378.0 225.1M346.0 231.7L347.7 230.8M301.8 242.0L303.5 241.3M317.7 236.3L318.4 236.0M374.1 226.6L375.4 226.1M299.5 249.5L301.6 249.4M273.7 257.9L274.7 258.0M293.4 245.8L294.1 245.8M371.1 224.2L373.3 224.2M295.1 245.7L296.7 245.6M250.0 274.6L251.3 273.7M328.5 237.9L330.2 237.2M333.2 233.2L333.8 232.6M264.3 263.1L264.6 262.2M220.8 302.3L222.1 301.4M417.8 235.9L419.7 236.2M290.1 245.7L291.8 245.2M335.9 237.3L336.5 236.9M322.6 233.5L324.8 233.6M293.4 251.5L294.6 250.2M260.2 272.4L262.6 271.4M358.1 226.9L359.6 226.3M244.8 274.9L246.7 274.1M350.7 226.5L351.3 226.2M259.1 269.7L260.9 269.0M287.1 254.1L289.2 253.4M348.3 232.6L350.5 233.0M348.6 228.4L349.0 227.9M344.3 228.8L345.8 227.8M229.4 297.9L231.1 296.2M313.5 237.1L315.0 236.3M301.7 240.5L303.4 239.6" stroke="#dcdcdc" stroke-opacity="0.45" stroke-width="1" stroke-linecap="round" fill="none"/>
<path d="M335.4 228.9L336.4 228.2M301.8 240.3L303.7 240.2M336.4 229.9L336.9 229.7M344.4 231.7L346.2 231.3M289.5 247.6L289.8 247.1M398.5 227.3L399.1 227.2M289.4 254.6L291.1 253.1M333.8 231.0L335.4 230.7M270.5 257.9L271.5 257.4M260.9 265.5L262.4 265.1M331.0 238.2L332.9 237.4M314.3 234.9L315.4 234.3M280.4 251.9L282.7 251.0M232.6 294.1L234.0 292.4M297.7 246.6L298.8 246.9M342.2 228.1L344.0 228.5M289.8 247.0L292.0 245.9M279.1 252.8L280.8 251.8M248.0 272.6L248.9 271.3M406.8 228.3L407.2 228.9M380.4 224.9L381.4 225.3M423.2 228.3L424.1 228.0M422.6 228.3L423.5 228.7M304.8 241.2L306.5 240.5M343.1 232.9L345.1 231.9M418.3 232.3L419.3 233.1M261.1 267.3L262.0 266.7M244.1 279.0L245.9 278.1M388.4 224.7L390.4 225.3M266.9 261.3L268.3 260.6M286.3 256.5L286.8 255.9M236.0 290.6L236.8 290.2M290.0 246.4L291.4 245.1M249.0 272.9L251.0 271.2M256.6 268.8L257.0 268.6M373.4 231.2L375.0 231.9M267.8 258.2L267.9 257.3M257.4 273.9L258.4 272.7M317.6 233.8L318.1 232.8M322.5 241.5L323.2 241.2M264.6 260.5L264.9 260.1M296.7 242.8L297.6 242.5M366.2 226.1L368.3 226.1M361.7 229.3L363.5 229.2M346.3 233.0L346.8 233.3M411.0 227.0L412.9 227.3M367.4 226.2L369.6 226.0M262.0 266.6L262.8 266.0M240.8 280.4L242.2 278.4M266.6 259.5L268.2 257.9M267.0 261.2L267.6 260.6M400.1 230.5L402.2 230.8M235.0 287.9L236.0 287.6M227.6 293.0L228.2 291.9M369.7 229.9L370.5 229.9M270.6 261.7L272.2 260.6M375.0 231.1L376.2 230.4M324.9 238.2L326.6 237.9M325.9 232.0L327.7 231.1M259.7 271.8L259.9 271.3M282.9 251.1L284.2 249.7M291.2 245.5L292.8 244.0M268.8 263.4L269.8 262.7M371.3 230.2L372.3 230.5M407.8 225.6L408.9 226.5M221.9 301.6L222.2 300.9M281.9 253.3L282.1 252.7M421.6 227.5L422.2 227.6M381.5 223.4L382.6 223.5M327.2 237.3L328.3 237.7M278.0 253.0L278.9 252.3M303.7 239.2L305.0 238.4M277.4 254.4L278.4 254.0M298.5 250.1L300.0 248.8M394.7 225.0L396.3 224.4M248.3 274.3L249.7 272.6M391.7 224.5L392.9 225.2M279.4 255.2L280.7 254.7M319.4 235.9L320.6 235.5M378.2 224.5L378.8 223.9M237.6 289.0L238.0 288.6M257.7 268.8L258.4 268.0M249.8 271.7L251.1 270.5M310.0 241.8L311.9 240.8M346.5 230.5L347.5 231.0M246.1 274.9L248.2 273.6M385.0 224.4L387.1 224.6M253.6 269.5L254.3 269.2M319.9 234.3L322.3 233.9M364.2 224.7L366.0 224.5M247.6 273.0L248.9 271.8M347.3 232.9L349.4 232.5M325.1 234.1L326.1 234.4M360.1 230.6L361.7 229.7M374.3 225.8L375.7 226.0M376.1 229.3L377.0 229.6M301.4 244.6L302.6 244.4" stroke="#dcdcdc" stroke-opacity="0.26" stroke-width="1" stroke-linecap="round" fill="none"/>
<path d="M388.3 228.2L393.8 228.0" stroke="#f0f0f0" stroke-opacity="0.8" stroke-width="1.5" stroke-linecap="round"/>
<path d="M377.0 229.1L380.0 228.6" stroke="#f0f0f0" stroke-opacity="0.8" stroke-width="1.5" stroke-linecap="round"/>
<path d="M361.8 227.9L363.7 227.2" stroke="#f0f0f0" stroke-opacity="0.8" stroke-width="1.5" stroke-linecap="round"/>
<path d="M325.6 232.5L329.5 230.9" stroke="#f0f0f0" stroke-opacity="0.8" stroke-width="1.5" stroke-linecap="round"/>
<path d="M285.9 249.0L290.0 246.3" stroke="#f0f0f0" stroke-opacity="0.8" stroke-width="1.5" stroke-linecap="round"/>
<path d="M271.8 257.9L273.9 256.1" stroke="#f0f0f0" stroke-opacity="0.8" stroke-width="1.5" stroke-linecap="round"/>
<path d="M248.3 274.9L250.8 272.4" stroke="#f0f0f0" stroke-opacity="0.8" stroke-width="1.5" stroke-linecap="round"/>
<path d="M342.0 227.6L346.5 226.3" stroke="#f0f0f0" stroke-opacity="0.8" stroke-width="1.5" stroke-linecap="round"/>
<path d="M181.2 387.6L193.6 389.2" stroke="#3a3a3a" stroke-width="1.1"/>
<path d="M185.2 388.6L190.5 389.3" stroke="#f0f0f0" stroke-width="1.1" stroke-linecap="round"/>
<path d="M196.8 319.4L215.4 321.2" stroke="#c4c4c4" stroke-opacity="0.55" stroke-width="1"/>
<path d="M200.2 368.5L202 371.5L200 373Z M199.8 391L201.8 393L199.6 395.5Z" fill="#2e2e2e"/>
<path d="M560.4 387.6L571.4 406.6L575.8 406.8L577.3 389.5L576.6 386L561.5 383Z" fill="#535353"/>
<path d="M560.4 387.6L571.4 406.6L575.8 406.8L577.3 389.5" fill="none" stroke="#333333" stroke-width="1.1" stroke-linejoin="round"/>
<circle cx="564.8" cy="384" r="0.9" fill="#2c2c2c"/><circle cx="565.6" cy="388.3" r="0.9" fill="#2c2c2c"/>
<path d="M578.4 386.8L585 386.2L585 391.6L578.2 391.6Z" fill="#e6e6e6" stroke="#8a8a8a" stroke-width="0.7"/>
<!--AXES-->
<rect x="147" y="108.5" width="3.2" height="491.5" fill="#000"/>
<rect x="147" y="596.7" width="490" height="3.3" fill="#000"/>
<!--TEXT-->
<g opacity="0.999">
<text transform="translate(280.70 184.20) scale(1.0188 1)" font-size="30.11" font-weight="bold" fill="#0a0a0a">OVAL</text>
<text transform="translate(372.50 184.20) scale(0.9805 1)" font-size="30.11" font-weight="bold" fill="#0a0a0a">SHAPE</text>
<text transform="translate(23.26 380.00) scale(1.1333 1)" font-size="30.25" font-weight="bold" fill="#0a0a0a" stroke="#0a0a0a" stroke-width="1.0" stroke-linejoin="round">WIDTH</text>
<text transform="translate(38.34 414.40) scale(1.1320 1)" font-size="21.96" font-weight="normal" fill="#0a0a0a" stroke="#0a0a0a" stroke-width="0.8" stroke-linejoin="round">5.3 CM</text>
<text transform="translate(321.36 645.00) scale(1.0692 1)" font-size="29.53" font-weight="bold" fill="#0a0a0a" stroke="#0a0a0a" stroke-width="1.0" stroke-linejoin="round">LENGTH</text>
<text transform="translate(348.95 675.60) scale(1.0973 1)" font-size="22.84" font-weight="normal" fill="#0a0a0a" stroke="#0a0a0a" stroke-width="0.8" stroke-linejoin="round">6.5 CM</text>
<text transform="translate(247.10 368.35) scale(1.1252 1)" font-size="19.20" font-weight="normal" fill="#0a0a0a" stroke="#0a0a0a" stroke-width="0.7" stroke-linejoin="round">INNER CIRCUMFERENCE</text>
<text transform="translate(349.29 392.65) scale(1.1198 1)" font-size="18.18" font-weight="normal" fill="#0a0a0a" stroke="#0a0a0a" stroke-width="0.7" stroke-linejoin="round">18 CM</text>
<text transform="translate(315.20 477.25) scale(1.1670 1)" font-size="17.09" font-weight="normal" fill="#0a0a0a" stroke="#0a0a0a" stroke-width="0.6" stroke-linejoin="round">HEIGHT 0.8 CM</text>
<text transform="translate(657.35 245.85) scale(1.1930 1)" font-size="11.90" font-weight="normal" fill="#424242" stroke="#424242" stroke-width="0.3" stroke-linejoin="round">Openable Lock</text>
<text transform="translate(37.90 757.00) scale(1.0612 1)" font-size="21.82" font-weight="bold" fill="#0a0a0a">Pull it to help open the bracelet, it’s easy to take on and take off</text>
</g>
</svg>
</body></html>
